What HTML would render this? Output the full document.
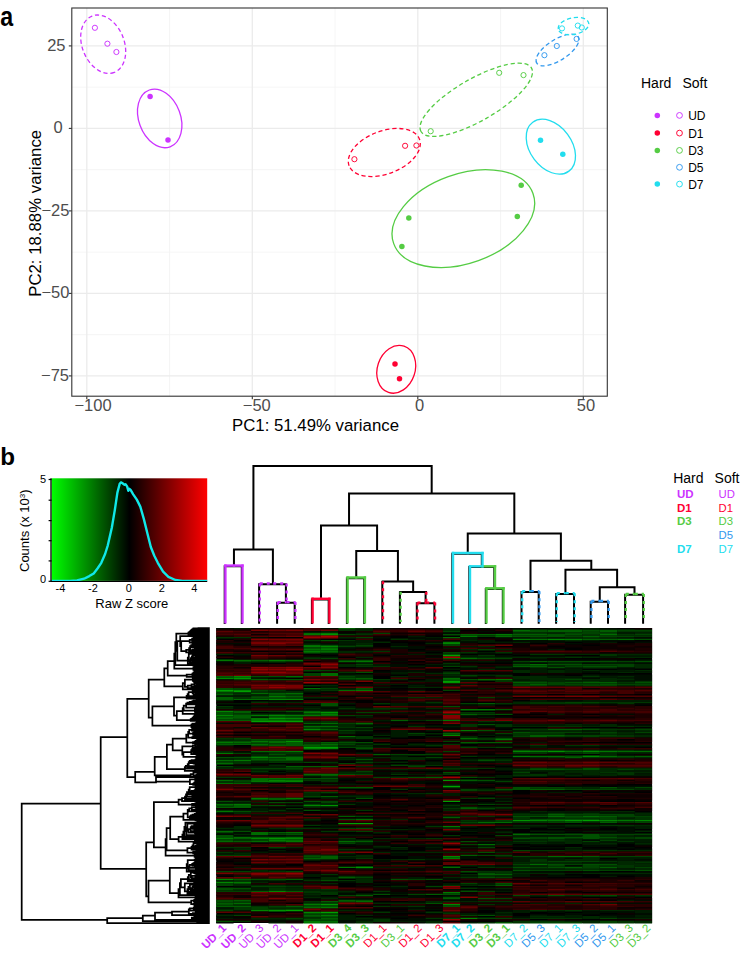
<!DOCTYPE html>
<html><head><meta charset="utf-8"><style>
html,body{margin:0;padding:0;background:#fff;}
svg{position:absolute;left:0;top:0;font-family:'Liberation Sans', sans-serif;}
</style></head><body>
<svg width="740" height="955" viewBox="0 0 740 955">
<rect x="71.8" y="8.0" width="535.5" height="388.2" fill="#fff"/>
<line x1="169.55" y1="8.0" x2="169.55" y2="396.2" stroke="#F2F2F2" stroke-width="0.8"/>
<line x1="335.05" y1="8.0" x2="335.05" y2="396.2" stroke="#F2F2F2" stroke-width="0.8"/>
<line x1="500.55" y1="8.0" x2="500.55" y2="396.2" stroke="#F2F2F2" stroke-width="0.8"/>
<line x1="71.8" y1="87.15" x2="607.3" y2="87.15" stroke="#F2F2F2" stroke-width="0.8"/>
<line x1="71.8" y1="169.65" x2="607.3" y2="169.65" stroke="#F2F2F2" stroke-width="0.8"/>
<line x1="71.8" y1="252.15" x2="607.3" y2="252.15" stroke="#F2F2F2" stroke-width="0.8"/>
<line x1="71.8" y1="334.65" x2="607.3" y2="334.65" stroke="#F2F2F2" stroke-width="0.8"/>
<line x1="86.80" y1="8.0" x2="86.80" y2="396.2" stroke="#EBEBEB" stroke-width="1.3"/>
<line x1="252.30" y1="8.0" x2="252.30" y2="396.2" stroke="#EBEBEB" stroke-width="1.3"/>
<line x1="417.80" y1="8.0" x2="417.80" y2="396.2" stroke="#EBEBEB" stroke-width="1.3"/>
<line x1="583.30" y1="8.0" x2="583.30" y2="396.2" stroke="#EBEBEB" stroke-width="1.3"/>
<line x1="71.8" y1="45.90" x2="607.3" y2="45.90" stroke="#EBEBEB" stroke-width="1.3"/>
<line x1="71.8" y1="128.40" x2="607.3" y2="128.40" stroke="#EBEBEB" stroke-width="1.3"/>
<line x1="71.8" y1="210.90" x2="607.3" y2="210.90" stroke="#EBEBEB" stroke-width="1.3"/>
<line x1="71.8" y1="293.40" x2="607.3" y2="293.40" stroke="#EBEBEB" stroke-width="1.3"/>
<line x1="71.8" y1="375.90" x2="607.3" y2="375.90" stroke="#EBEBEB" stroke-width="1.3"/>
<ellipse cx="103.20" cy="44.20" rx="30.29" ry="21.01" transform="rotate(68.37 103.20 44.20)" fill="none" stroke="#CC33FF" stroke-width="1.3" stroke-dasharray="4.2 2.8"/>
<ellipse cx="159.70" cy="118.40" rx="30.25" ry="20.88" transform="rotate(69.85 159.70 118.40)" fill="none" stroke="#CC33FF" stroke-width="1.3"/>
<ellipse cx="384.30" cy="152.50" rx="37.61" ry="21.44" transform="rotate(159.36 384.30 152.50)" fill="none" stroke="#FF0033" stroke-width="1.3" stroke-dasharray="4.2 2.8"/>
<ellipse cx="476.25" cy="99.80" rx="63.72" ry="21.07" transform="rotate(150.15 476.25 99.80)" fill="none" stroke="#55CC44" stroke-width="1.3" stroke-dasharray="4.2 2.8"/>
<ellipse cx="557.50" cy="50.00" rx="24.53" ry="10.46" transform="rotate(147.55 557.50 50.00)" fill="none" stroke="#3399EE" stroke-width="1.3" stroke-dasharray="4.2 2.8"/>
<ellipse cx="573.50" cy="26.10" rx="15.51" ry="8.31" transform="rotate(168.69 573.50 26.10)" fill="none" stroke="#22DDEE" stroke-width="1.3" stroke-dasharray="4.2 2.8"/>
<ellipse cx="550.85" cy="146.70" rx="30.40" ry="20.84" transform="rotate(53.50 550.85 146.70)" fill="none" stroke="#22DDEE" stroke-width="1.3"/>
<ellipse cx="463.35" cy="218.60" rx="74.00" ry="44.63" transform="rotate(160.21 463.35 218.60)" fill="none" stroke="#55CC44" stroke-width="1.3"/>
<ellipse cx="396.25" cy="369.30" rx="24.41" ry="18.81" transform="rotate(108.56 396.25 369.30)" fill="none" stroke="#FF0033" stroke-width="1.3"/>
<circle cx="94.9" cy="27.8" r="2.6" fill="none" stroke="#CC33FF" stroke-width="0.95"/>
<circle cx="107.4" cy="43.7" r="2.6" fill="none" stroke="#CC33FF" stroke-width="0.95"/>
<circle cx="116.4" cy="52.0" r="2.6" fill="none" stroke="#CC33FF" stroke-width="0.95"/>
<circle cx="150.1" cy="96.6" r="2.75" fill="#CC33FF"/>
<circle cx="168.0" cy="140.0" r="2.75" fill="#CC33FF"/>
<circle cx="354.4" cy="159.2" r="2.6" fill="none" stroke="#FF0033" stroke-width="0.95"/>
<circle cx="405.1" cy="145.8" r="2.6" fill="none" stroke="#FF0033" stroke-width="0.95"/>
<circle cx="416.4" cy="145.5" r="2.6" fill="none" stroke="#FF0033" stroke-width="0.95"/>
<circle cx="395.0" cy="364.0" r="2.75" fill="#FF0033"/>
<circle cx="399.5" cy="378.8" r="2.75" fill="#FF0033"/>
<circle cx="430.7" cy="131.2" r="2.6" fill="none" stroke="#55CC44" stroke-width="0.95"/>
<circle cx="499.2" cy="72.8" r="2.6" fill="none" stroke="#55CC44" stroke-width="0.95"/>
<circle cx="523.5" cy="75.1" r="2.6" fill="none" stroke="#55CC44" stroke-width="0.95"/>
<circle cx="521.2" cy="185.3" r="2.75" fill="#55CC44"/>
<circle cx="517.3" cy="216.6" r="2.75" fill="#55CC44"/>
<circle cx="408.8" cy="217.9" r="2.75" fill="#55CC44"/>
<circle cx="401.9" cy="246.5" r="2.75" fill="#55CC44"/>
<circle cx="544.4" cy="55.2" r="2.6" fill="none" stroke="#3399EE" stroke-width="0.95"/>
<circle cx="556.8" cy="46.0" r="2.6" fill="none" stroke="#3399EE" stroke-width="0.95"/>
<circle cx="576.6" cy="38.9" r="2.6" fill="none" stroke="#3399EE" stroke-width="0.95"/>
<circle cx="562.0" cy="28.4" r="2.6" fill="none" stroke="#22DDEE" stroke-width="0.95"/>
<circle cx="577.8" cy="25.6" r="2.6" fill="none" stroke="#22DDEE" stroke-width="0.95"/>
<circle cx="581.8" cy="27.5" r="2.6" fill="none" stroke="#22DDEE" stroke-width="0.95"/>
<circle cx="540.5" cy="140.3" r="2.75" fill="#22DDEE"/>
<circle cx="562.8" cy="154.3" r="2.75" fill="#22DDEE"/>
<rect x="71.8" y="8.0" width="535.5" height="388.2" fill="none" stroke="#333" stroke-width="1.1"/>
<line x1="68.8" y1="45.90" x2="71.8" y2="45.90" stroke="#333" stroke-width="1.1"/>
<line x1="68.8" y1="128.40" x2="71.8" y2="128.40" stroke="#333" stroke-width="1.1"/>
<line x1="68.8" y1="210.90" x2="71.8" y2="210.90" stroke="#333" stroke-width="1.1"/>
<line x1="68.8" y1="293.40" x2="71.8" y2="293.40" stroke="#333" stroke-width="1.1"/>
<line x1="68.8" y1="375.90" x2="71.8" y2="375.90" stroke="#333" stroke-width="1.1"/>
<line x1="86.80" y1="396.2" x2="86.80" y2="399.2" stroke="#333" stroke-width="1.1"/>
<line x1="252.30" y1="396.2" x2="252.30" y2="399.2" stroke="#333" stroke-width="1.1"/>
<line x1="417.80" y1="396.2" x2="417.80" y2="399.2" stroke="#333" stroke-width="1.1"/>
<line x1="583.30" y1="396.2" x2="583.30" y2="399.2" stroke="#333" stroke-width="1.1"/>
<text x="47.17" y="50.60" font-size="16.5" fill="#4D4D4D">25</text>
<text x="53.56" y="133.10" font-size="16.5" fill="#4D4D4D">0</text>
<text x="41.47" y="215.60" font-size="16.5" fill="#4D4D4D">−25</text>
<text x="41.38" y="298.10" font-size="16.5" fill="#4D4D4D">−50</text>
<text x="41.07" y="380.60" font-size="16.5" fill="#4D4D4D">−75</text>
<text x="74.47" y="410.7" font-size="16.5" fill="#4D4D4D">−100</text>
<text x="242.78" y="410.7" font-size="16.5" fill="#4D4D4D">−50</text>
<text x="415.04" y="410.7" font-size="16.5" fill="#4D4D4D">0</text>
<text x="576.84" y="410.7" font-size="16.5" fill="#4D4D4D">50</text>
<text x="232.0" y="431.2" font-size="16.8" fill="#000">PC1: 51.49% variance</text>
<text transform="translate(41.1 296.8) rotate(-90)" x="0" y="0" font-size="16.8" fill="#000">PC2: 18.88% variance</text>
<text transform="translate(0.3 25.6) scale(0.86 1)" font-size="27" font-weight="bold" fill="#000">a</text>
<text x="641.0" y="87.5" font-size="14" fill="#000">Hard</text>
<text x="682.5" y="87.5" font-size="14" fill="#000">Soft</text>
<circle cx="657.3" cy="115.4" r="2.75" fill="#CC33FF"/>
<circle cx="679.5" cy="115.4" r="2.9" fill="none" stroke="#CC33FF" stroke-width="0.95"/>
<text x="688.2" y="119.8" font-size="12" fill="#000">UD</text>
<circle cx="657.3" cy="133.1" r="2.75" fill="#FF0033"/>
<circle cx="679.5" cy="133.1" r="2.9" fill="none" stroke="#FF0033" stroke-width="0.95"/>
<text x="688.2" y="137.5" font-size="12" fill="#000">D1</text>
<circle cx="657.3" cy="150.4" r="2.75" fill="#55CC44"/>
<circle cx="679.5" cy="150.4" r="2.9" fill="none" stroke="#55CC44" stroke-width="0.95"/>
<text x="688.2" y="154.8" font-size="12" fill="#000">D3</text>
<circle cx="679.5" cy="167.3" r="2.9" fill="none" stroke="#3399EE" stroke-width="0.95"/>
<text x="688.2" y="171.7" font-size="12" fill="#000">D5</text>
<circle cx="657.3" cy="184.1" r="2.75" fill="#22DDEE"/>
<circle cx="679.5" cy="184.1" r="2.9" fill="none" stroke="#22DDEE" stroke-width="0.95"/>
<text x="688.2" y="188.5" font-size="12" fill="#000">D7</text>
<text x="0.3" y="464.6" font-size="24.2" font-weight="bold" fill="#000">b</text>
<defs><linearGradient id="kg" x1="0" x2="1" y1="0" y2="0"><stop offset="0" stop-color="#00FF00"/><stop offset="0.5" stop-color="#000"/><stop offset="1" stop-color="#FF0000"/></linearGradient></defs>
<rect x="51.6" y="478.3" width="155.6" height="102.59999999999997" fill="url(#kg)"/>
<polyline points="51.6,580.9 70,580.9 77,580.4 84.1,578.7 89.3,576.1 93.7,573.4 97.5,568.5 101.3,562.8 105.1,554 107.8,545.3 111.8,527.7 114.8,510.1 117.4,492.6 119.7,483.8 121,482.4 122.5,483.2 124.5,484.7 125.5,484.2 127.1,486.4 128.3,490.8 129.2,488.8 130.6,489.9 133.2,494.3 136.8,499.6 140.3,506.6 143.8,518.9 147.3,533 150.8,547 154.3,555.8 157.8,562.8 163.1,571.6 168.4,576.9 175.4,580 182.4,580.9 207.2,580.9" fill="none" stroke="#10E8E8" stroke-width="2.4" stroke-linejoin="round"/>
<line x1="51.0" y1="478.3" x2="51.0" y2="581.5" stroke="#000" stroke-width="1.3"/>
<line x1="51.0" y1="581.5" x2="207.2" y2="581.5" stroke="#000" stroke-width="1"/>
<line x1="48.6" y1="479.5" x2="51.6" y2="479.5" stroke="#000" stroke-width="1.2"/>
<line x1="48.6" y1="500.2" x2="51.6" y2="500.2" stroke="#000" stroke-width="1.2"/>
<line x1="48.6" y1="520.6" x2="51.6" y2="520.6" stroke="#000" stroke-width="1.2"/>
<line x1="48.6" y1="540.7" x2="51.6" y2="540.7" stroke="#000" stroke-width="1.2"/>
<line x1="48.6" y1="560.9" x2="51.6" y2="560.9" stroke="#000" stroke-width="1.2"/>
<line x1="48.6" y1="581.3" x2="51.6" y2="581.3" stroke="#000" stroke-width="1.2"/>
<text x="46.2" y="483.0" text-anchor="end" font-size="11" fill="#000">5</text>
<text x="46.2" y="582.8" text-anchor="end" font-size="11" fill="#000">0</text>
<text x="60.5" y="592.2" text-anchor="middle" font-size="11" fill="#000">-4</text>
<text x="93" y="592.2" text-anchor="middle" font-size="11" fill="#000">-2</text>
<text x="128.7" y="592.2" text-anchor="middle" font-size="11" fill="#000">0</text>
<text x="161.9" y="592.2" text-anchor="middle" font-size="11" fill="#000">2</text>
<text x="194.4" y="592.2" text-anchor="middle" font-size="11" fill="#000">4</text>
<text x="95.3" y="608.3" font-size="13" fill="#000">Raw Z score</text>
<text transform="translate(29.2 572) rotate(-90)" font-size="13" fill="#000">Counts (x 10<tspan dy="-4" font-size="8">3</tspan><tspan dy="4">)</tspan></text>
<rect x="216.2" y="628.0" width="435.90" height="295.0" fill="#000"/>
<path d="M442.9 655.75h17.4M442.9 681.25h17.4M216.2 690.25h17.4M233.6 691.75h17.4M251.1 721.75h52.3M303.4 747.25h34.9M442.9 786.25h17.4M442.9 801.25h17.4M582.4 820.75h17.4M338.3 823.75h34.9M285.9 910.75h17.4M320.8 912.25h17.4" stroke="rgb(0,160,0)" stroke-width="1.5"/>
<path d="M320.8 634.75h17.4M233.6 678.25h17.4M442.9 682.75h17.4M320.8 712.75h17.4M268.5 718.75h17.4M285.9 741.25h17.4M547.5 751.75h17.4M442.9 780.25h17.4M320.8 805.75h17.4M512.6 820.75h17.4M564.9 820.75h17.4M268.5 838.75h17.4M355.7 867.25h17.4M320.8 904.75h17.4M268.5 910.75h17.4" stroke="rgb(0,147,0)" stroke-width="1.5"/>
<path d="M547.5 639.25h17.4M442.9 643.75h17.4M320.8 646.75h17.4M233.6 676.75h17.4M216.2 678.25h17.4M233.6 690.25h17.4M268.5 699.25h34.9M216.2 711.25h17.4M216.2 715.75h17.4M268.5 715.75h17.4M285.9 718.75h17.4M303.4 729.25h17.4M442.9 735.25h17.4M303.4 748.75h34.9M512.6 751.75h17.4M582.4 751.75h17.4M582.4 756.25h17.4M251.1 757.75h17.4M268.5 780.25h17.4M285.9 781.75h17.4M303.4 805.75h17.4M530.0 820.75h17.4M599.8 820.75h17.4M634.7 820.75h17.4M251.1 838.75h17.4M285.9 838.75h17.4M442.9 856.75h17.4M216.2 879.25h17.4M216.2 882.25h17.4M268.5 891.25h17.4M442.9 904.75h17.4M251.1 910.75h17.4M303.4 912.25h17.4M460.3 918.25h17.4" stroke="rgb(0,133,0)" stroke-width="1.5"/>
<path d="M320.8 633.25h17.4M303.4 634.75h17.4M495.2 634.75h17.4M460.3 636.25h17.4M512.6 639.25h17.4M564.9 639.25h17.4M442.9 642.25h17.4M303.4 646.75h17.4M320.8 649.75h17.4M303.4 651.25h17.4M216.2 660.25h17.4M268.5 660.25h17.4M355.7 661.75h17.4M495.2 679.75h17.4M355.7 690.25h17.4M216.2 691.75h17.4M268.5 696.25h17.4M460.3 709.75h34.9M303.4 712.75h17.4M320.8 714.25h17.4M251.1 715.75h17.4M285.9 715.75h34.9M251.1 718.75h17.4M251.1 720.25h34.9M442.9 720.25h17.4M460.3 730.75h17.4M495.2 739.75h17.4M251.1 741.25h17.4M216.2 742.75h17.4M285.9 751.75h17.4M530.0 751.75h17.4M599.8 751.75h17.4M216.2 753.25h17.4M512.6 756.25h17.4M233.6 760.75h17.4M285.9 780.25h17.4M251.1 781.75h34.9M251.1 798.25h17.4M285.9 798.25h17.4M233.6 804.25h17.4M216.2 811.75h17.4M547.5 820.75h17.4M617.2 820.75h17.4M442.9 826.75h17.4M216.2 838.75h17.4M268.5 840.25h17.4M285.9 841.75h17.4M442.9 858.25h17.4M338.3 867.25h17.4M233.6 882.25h17.4M442.9 892.75h17.4M303.4 904.75h17.4M320.8 907.75h17.4M320.8 915.25h17.4M303.4 921.25h17.4M303.4 922.75h17.4" stroke="rgb(0,120,0)" stroke-width="1.5"/>
<path d="M512.6 630.25h17.4M303.4 633.25h17.4M599.8 634.75h17.4M495.2 636.25h17.4M442.9 637.75h17.4M530.0 639.25h17.4M617.2 639.25h17.4M303.4 645.25h17.4M320.8 648.25h17.4M303.4 649.75h17.4M320.8 651.25h17.4M460.3 658.75h17.4M233.6 660.25h17.4M285.9 660.25h17.4M338.3 661.75h17.4M530.0 664.75h17.4M320.8 673.75h17.4M320.8 675.25h17.4M285.9 676.75h17.4M442.9 678.25h17.4M477.7 679.75h17.4M303.4 688.75h17.4M338.3 690.25h17.4M251.1 693.25h17.4M285.9 693.25h17.4M233.6 699.25h34.9M320.8 715.75h17.4M216.2 718.75h17.4M285.9 720.25h17.4M320.8 723.25h17.4M355.7 723.25h17.4M303.4 726.25h34.9M338.3 736.75h17.4M460.3 738.25h17.4M268.5 741.25h17.4M233.6 742.75h17.4M268.5 742.75h17.4M251.1 744.25h17.4M320.8 744.25h17.4M251.1 751.75h34.9M564.9 751.75h17.4M617.2 751.75h34.9M530.0 756.25h34.9M599.8 756.25h17.4M268.5 757.75h34.9M285.9 759.25h17.4M216.2 760.75h17.4M216.2 763.75h17.4M303.4 774.25h34.9M251.1 778.75h52.3M216.2 780.25h17.4M251.1 780.25h17.4M216.2 783.25h17.4M216.2 804.25h17.4M547.5 816.25h17.4M582.4 816.25h17.4M355.7 819.25h17.4M477.7 822.25h34.9M216.2 831.25h17.4M251.1 832.75h17.4M285.9 832.75h17.4M251.1 834.25h17.4M512.6 834.25h17.4M233.6 837.25h17.4M285.9 837.25h17.4M285.9 840.25h17.4M216.2 841.75h17.4M251.1 841.75h17.4M338.3 841.75h17.4M477.7 844.75h17.4M547.5 856.75h34.9M530.0 864.25h17.4M442.9 867.25h17.4M355.7 901.75h17.4M233.6 903.25h17.4M303.4 907.75h17.4M320.8 921.25h17.4" stroke="rgb(0,107,0)" stroke-width="1.5"/>
<path d="M338.3 628.75h17.4M547.5 630.25h34.9M599.8 630.25h17.4M547.5 631.75h34.9M599.8 631.75h17.4M460.3 634.75h34.9M512.6 634.75h34.9M582.4 636.25h17.4M582.4 639.25h34.9M303.4 652.75h17.4M442.9 658.75h17.4M251.1 660.25h17.4M530.0 661.75h17.4M512.6 666.25h34.9M216.2 676.75h17.4M355.7 678.25h17.4M251.1 679.75h17.4M442.9 679.75h17.4M512.6 682.75h17.4M582.4 682.75h34.9M530.0 684.25h17.4M268.5 693.25h17.4M216.2 694.75h17.4M285.9 696.25h17.4M216.2 697.75h17.4M216.2 699.25h17.4M477.7 703.75h17.4M495.2 709.75h17.4M233.6 711.25h17.4M303.4 711.25h17.4M233.6 712.75h17.4M460.3 714.25h17.4M233.6 715.75h17.4M216.2 717.25h34.9M268.5 717.25h17.4M216.2 720.25h34.9M390.6 720.25h17.4M303.4 723.25h17.4M320.8 729.25h17.4M547.5 729.25h34.9M442.9 733.75h17.4M530.0 735.25h34.9M530.0 736.75h17.4M285.9 742.75h17.4M320.8 742.75h17.4M460.3 742.75h52.3M216.2 744.25h34.9M285.9 744.25h17.4M268.5 745.75h52.3M373.1 754.75h17.4M634.7 756.25h17.4M564.9 757.75h17.4M251.1 759.25h17.4M285.9 766.75h52.3M320.8 775.75h17.4M425.4 777.25h17.4M460.3 780.25h17.4M233.6 783.25h17.4M338.3 787.75h34.9M530.0 789.25h34.9M320.8 796.75h17.4M268.5 798.25h17.4M268.5 799.75h17.4M233.6 805.75h17.4M216.2 807.25h34.9M460.3 808.75h17.4M547.5 814.75h17.4M338.3 816.25h17.4M599.8 816.25h17.4M442.9 817.75h17.4M599.8 822.25h17.4M268.5 832.75h17.4M251.1 837.25h34.9M233.6 838.75h17.4M233.6 841.75h17.4M268.5 841.75h17.4M355.7 841.75h17.4M460.3 855.25h17.4M320.8 856.75h17.4M582.4 856.75h17.4M303.4 858.25h34.9M564.9 867.25h17.4M599.8 867.25h17.4M477.7 874.75h34.9M338.3 877.75h17.4M233.6 879.25h17.4M285.9 879.25h17.4M495.2 885.25h17.4M251.1 891.25h17.4M285.9 891.25h17.4M425.4 894.25h17.4M355.7 895.75h17.4M442.9 898.75h17.4M233.6 900.25h17.4M338.3 900.25h17.4M320.8 901.75h17.4M216.2 903.25h17.4M216.2 906.25h34.9M285.9 906.25h17.4M303.4 915.25h17.4M320.8 918.25h17.4M320.8 922.75h17.4" stroke="rgb(0,93,0)" stroke-width="1.5"/>
<path d="M530.0 630.25h17.4M582.4 630.25h17.4M512.6 631.75h34.9M442.9 634.75h17.4M547.5 634.75h34.9M512.6 636.25h52.3M634.7 639.25h17.4M320.8 640.75h17.4M320.8 645.25h17.4M303.4 648.25h17.4M320.8 652.75h17.4M442.9 654.25h17.4M477.7 658.75h17.4M355.7 660.25h17.4M547.5 661.75h69.7M634.7 661.75h17.4M512.6 664.75h17.4M547.5 664.75h34.9M582.4 666.25h34.9M547.5 667.75h17.4M355.7 672.25h17.4M251.1 676.75h34.9M338.3 678.25h17.4M268.5 679.75h34.9M460.3 679.75h17.4M530.0 682.75h17.4M564.9 682.75h17.4M634.7 682.75h17.4M599.8 684.25h17.4M216.2 688.75h17.4M355.7 688.75h17.4M268.5 694.75h17.4M251.1 697.75h34.9M320.8 703.75h17.4M320.8 705.25h17.4M442.9 706.75h17.4M285.9 711.25h17.4M216.2 712.75h17.4M216.2 714.25h17.4M303.4 714.25h17.4M495.2 714.25h17.4M285.9 717.25h17.4M233.6 718.75h17.4M477.7 724.75h17.4M582.4 729.25h17.4M477.7 730.75h17.4M512.6 732.25h17.4M495.2 738.25h17.4M251.1 739.75h52.3M216.2 741.25h34.9M251.1 742.75h17.4M338.3 742.75h34.9M268.5 744.25h17.4M303.4 744.25h17.4M251.1 745.75h17.4M320.8 745.75h17.4M355.7 748.75h17.4M512.6 750.25h17.4M268.5 754.75h17.4M251.1 756.25h17.4M564.9 756.25h17.4M617.2 756.25h17.4M216.2 757.75h34.9M268.5 759.25h17.4M355.7 759.25h17.4M268.5 760.75h34.9M477.7 760.75h17.4M582.4 768.25h17.4M530.0 769.75h34.9M582.4 769.75h17.4M442.9 772.75h17.4M338.3 774.25h17.4M408.0 777.25h17.4M460.3 777.25h17.4M303.4 778.75h34.9M477.7 780.25h17.4M512.6 787.75h17.4M599.8 787.75h17.4M495.2 789.25h34.9M355.7 798.25h17.4M251.1 799.75h17.4M216.2 801.25h17.4M303.4 801.25h17.4M268.5 802.75h17.4M216.2 805.75h17.4M268.5 805.75h17.4M460.3 807.25h17.4M303.4 810.25h17.4M233.6 811.75h17.4M512.6 816.25h34.9M564.9 816.25h17.4M338.3 819.25h17.4M530.0 819.25h69.7M564.9 822.25h17.4M355.7 828.25h17.4M233.6 831.25h17.4M285.9 834.25h17.4M530.0 834.25h69.7M216.2 835.75h17.4M582.4 835.75h17.4M216.2 837.25h17.4M547.5 837.25h69.7M512.6 838.75h17.4M547.5 838.75h17.4M582.4 838.75h17.4M216.2 840.25h17.4M460.3 841.75h17.4M477.7 852.25h17.4M303.4 856.75h17.4M547.5 864.25h17.4M582.4 864.25h34.9M512.6 867.25h17.4M547.5 867.25h17.4M512.6 870.25h17.4M582.4 870.25h17.4M634.7 870.25h17.4M460.3 871.75h17.4M477.7 873.25h17.4M477.7 877.75h17.4M251.1 879.25h34.9M390.6 879.25h17.4M425.4 879.25h17.4M320.8 880.75h17.4M233.6 883.75h17.4M495.2 883.75h17.4M216.2 888.25h34.9M216.2 889.75h17.4M460.3 891.25h17.4M373.1 894.25h17.4M442.9 894.25h17.4M512.6 895.75h17.4M547.5 895.75h17.4M599.8 895.75h17.4M442.9 897.25h17.4M477.7 898.75h17.4M216.2 900.25h17.4M355.7 900.25h17.4M216.2 901.75h17.4M338.3 901.75h17.4M425.4 903.25h17.4M216.2 904.75h17.4M303.4 906.25h34.9M442.9 906.25h17.4M285.9 909.25h17.4M303.4 913.75h34.9M477.7 915.25h17.4M303.4 916.75h34.9M303.4 919.75h34.9M216.2 921.25h17.4M495.2 922.75h17.4" stroke="rgb(0,80,0)" stroke-width="1.5"/>
<path d="M617.2 630.25h34.9M442.9 631.75h17.4M582.4 631.75h17.4M373.1 633.25h17.4M564.9 633.25h52.3M338.3 634.75h17.4M634.7 634.75h17.4M477.7 636.25h17.4M564.9 636.25h17.4M599.8 636.25h34.9M355.7 637.75h17.4M355.7 645.25h17.4M442.9 645.25h17.4M338.3 646.75h17.4M477.7 649.75h17.4M442.9 652.75h17.4M320.8 658.75h17.4M495.2 658.75h17.4M338.3 660.25h17.4M233.6 661.75h17.4M268.5 661.75h17.4M512.6 661.75h17.4M617.2 661.75h17.4M355.7 664.75h17.4M582.4 664.75h52.3M442.9 666.25h17.4M564.9 666.25h17.4M617.2 666.25h17.4M303.4 670.75h34.9M303.4 673.75h17.4M442.9 673.75h17.4M303.4 675.25h17.4M460.3 675.25h17.4M338.3 676.75h17.4M233.6 679.75h17.4M355.7 679.75h17.4M564.9 679.75h17.4M547.5 682.75h17.4M512.6 684.25h17.4M547.5 684.25h52.3M617.2 684.25h34.9M512.6 685.75h34.9M582.4 685.75h34.9M233.6 688.75h17.4M320.8 688.75h17.4M251.1 690.25h17.4M442.9 690.25h17.4M216.2 693.25h17.4M285.9 694.75h17.4M251.1 696.25h17.4M285.9 697.75h17.4M477.7 697.75h17.4M564.9 702.25h34.9M460.3 703.75h17.4M320.8 711.25h17.4M355.7 712.75h34.9M233.6 714.25h17.4M268.5 714.25h17.4M477.7 714.25h17.4M338.3 715.75h17.4M425.4 720.25h17.4M338.3 723.25h17.4M303.4 727.75h17.4M355.7 727.75h17.4M512.6 729.25h17.4M634.7 729.25h17.4M338.3 730.75h17.4M530.0 732.25h52.3M599.8 732.25h17.4M634.7 732.25h17.4M408.0 733.75h17.4M495.2 733.75h17.4M564.9 735.25h52.3M512.6 736.75h17.4M547.5 736.75h17.4M582.4 736.75h17.4M233.6 738.25h17.4M442.9 741.25h17.4M303.4 742.75h17.4M338.3 744.25h17.4M338.3 747.25h34.9M460.3 747.25h17.4M495.2 747.25h17.4M530.0 750.25h34.9M582.4 750.25h17.4M442.9 751.75h17.4M233.6 753.25h17.4M582.4 753.25h17.4M390.6 754.75h52.3M285.9 756.25h17.4M425.4 757.75h17.4M251.1 760.75h17.4M216.2 762.25h17.4M303.4 762.25h17.4M355.7 762.25h17.4M338.3 763.75h17.4M390.6 765.25h17.4M216.2 766.75h17.4M408.0 766.75h17.4M251.1 768.25h52.3M530.0 768.25h17.4M564.9 769.75h17.4M617.2 769.75h17.4M355.7 771.25h17.4M512.6 772.75h17.4M355.7 774.25h17.4M303.4 775.75h17.4M373.1 777.25h17.4M233.6 780.25h17.4M233.6 781.75h17.4M495.2 781.75h17.4M442.9 787.75h17.4M530.0 787.75h34.9M634.7 787.75h17.4M460.3 789.25h17.4M564.9 789.25h69.7M460.3 790.75h17.4M320.8 792.25h17.4M303.4 796.75h17.4M477.7 798.25h17.4M285.9 799.75h17.4M320.8 801.25h17.4M285.9 802.75h17.4M320.8 802.75h17.4M303.4 804.25h17.4M477.7 804.25h17.4M251.1 805.75h17.4M477.7 808.75h17.4M564.9 814.75h69.7M355.7 816.25h17.4M617.2 816.25h34.9M564.9 817.75h52.3M599.8 819.25h17.4M495.2 820.75h17.4M460.3 822.25h17.4M547.5 822.25h17.4M634.7 822.25h17.4M338.3 828.25h17.4M355.7 831.25h17.4M216.2 832.75h17.4M268.5 834.25h17.4M599.8 834.25h52.3M495.2 835.75h17.4M530.0 837.25h17.4M634.7 837.25h17.4M530.0 838.75h17.4M634.7 838.75h17.4M251.1 840.25h17.4M599.8 840.25h17.4M582.4 841.75h17.4M338.3 843.25h17.4M460.3 844.75h17.4M268.5 847.75h17.4M477.7 847.75h17.4M512.6 850.75h17.4M216.2 855.25h34.9M303.4 855.25h17.4M477.7 855.25h34.9M512.6 856.75h34.9M599.8 856.75h52.3M547.5 861.25h52.3M512.6 864.25h17.4M564.9 864.25h17.4M547.5 865.75h17.4M582.4 865.75h17.4M530.0 867.25h17.4M582.4 867.25h17.4M634.7 867.25h17.4M530.0 870.25h52.3M599.8 870.25h34.9M216.2 871.75h34.9M285.9 871.75h17.4M355.7 877.75h17.4M495.2 877.75h17.4M408.0 879.25h17.4M216.2 883.75h17.4M460.3 883.75h17.4M216.2 885.25h17.4M251.1 886.75h34.9M425.4 886.75h17.4M216.2 891.25h34.9M477.7 891.25h17.4M408.0 894.25h17.4M338.3 895.75h17.4M582.4 895.75h17.4M495.2 898.75h17.4M233.6 901.75h17.4M303.4 903.25h34.9M268.5 906.25h17.4M251.1 907.75h17.4M251.1 909.25h34.9M216.2 910.75h17.4M233.6 915.25h17.4M460.3 915.25h17.4M285.9 918.25h17.4M442.9 918.25h17.4M477.7 918.25h34.9M599.8 918.25h17.4M599.8 921.25h17.4M530.0 922.75h52.3M599.8 922.75h17.4" stroke="rgb(0,67,0)" stroke-width="1.5"/>
<path d="M355.7 628.75h17.4M338.3 630.25h17.4M617.2 631.75h34.9M512.6 633.25h34.9M355.7 634.75h17.4M582.4 634.75h17.4M617.2 634.75h17.4M634.7 636.25h17.4M216.2 637.75h34.9M582.4 637.75h17.4M390.6 639.25h17.4M303.4 640.75h17.4M338.3 640.75h17.4M355.7 646.75h17.4M373.1 651.25h17.4M460.3 652.75h17.4M495.2 652.75h17.4M530.0 654.25h34.9M599.8 654.25h17.4M477.7 655.75h17.4M599.8 655.75h17.4M460.3 657.25h17.4M564.9 657.25h17.4M303.4 658.75h17.4M251.1 661.75h17.4M285.9 661.75h17.4M442.9 663.25h17.4M355.7 666.25h34.9M460.3 666.25h17.4M530.0 667.75h17.4M582.4 667.75h34.9M338.3 672.25h17.4M442.9 672.25h17.4M495.2 675.25h17.4M582.4 676.75h17.4M338.3 679.75h17.4M373.1 679.75h17.4M495.2 681.25h52.3M582.4 681.25h17.4M634.7 681.25h17.4M617.2 682.75h17.4M303.4 685.75h17.4M564.9 685.75h17.4M634.7 685.75h17.4M268.5 690.25h17.4M320.8 690.25h17.4M251.1 691.75h17.4M233.6 694.75h17.4M233.6 697.75h17.4M408.0 697.75h17.4M251.1 702.25h17.4M425.4 702.25h17.4M530.0 702.25h34.9M599.8 702.25h52.3M373.1 703.75h17.4M495.2 703.75h17.4M530.0 703.75h52.3M617.2 703.75h17.4M216.2 706.75h17.4M338.3 708.25h17.4M373.1 708.25h34.9M251.1 711.25h34.9M460.3 712.75h34.9M251.1 714.25h17.4M285.9 714.25h17.4M442.9 714.25h17.4M355.7 715.75h17.4M320.8 721.75h17.4M477.7 721.75h17.4M355.7 724.75h17.4M460.3 724.75h17.4M495.2 724.75h17.4M408.0 726.25h17.4M460.3 726.25h17.4M495.2 726.25h17.4M547.5 726.25h34.9M617.2 726.25h17.4M320.8 727.75h34.9M530.0 729.25h17.4M599.8 729.25h34.9M303.4 730.75h17.4M355.7 730.75h17.4M582.4 732.25h17.4M512.6 733.75h52.3M599.8 733.75h17.4M512.6 735.25h17.4M617.2 735.25h17.4M355.7 736.75h17.4M564.9 736.75h17.4M599.8 736.75h34.9M216.2 738.25h17.4M355.7 738.25h17.4M477.7 738.25h17.4M233.6 739.75h17.4M460.3 739.75h34.9M373.1 744.25h17.4M442.9 744.25h17.4M355.7 745.75h17.4M425.4 745.75h17.4M530.0 745.75h17.4M564.9 745.75h34.9M477.7 747.25h17.4M564.9 750.25h17.4M599.8 750.25h34.9M268.5 753.25h34.9M512.6 753.25h34.9M564.9 753.25h17.4M268.5 756.25h17.4M460.3 756.25h17.4M338.3 757.75h17.4M547.5 757.75h17.4M582.4 757.75h52.3M233.6 759.25h17.4M477.7 759.25h17.4M495.2 760.75h17.4M233.6 762.25h17.4M268.5 762.25h34.9M320.8 762.25h17.4M233.6 763.75h17.4M408.0 765.25h34.9M233.6 768.25h17.4M442.9 768.25h52.3M547.5 768.25h17.4M285.9 769.75h17.4M512.6 769.75h17.4M634.7 769.75h17.4M251.1 771.25h17.4M599.8 772.75h34.9M390.6 774.25h17.4M442.9 774.25h17.4M530.0 774.25h17.4M617.2 774.25h17.4M512.6 775.75h34.9M216.2 777.25h34.9M390.6 777.25h17.4M477.7 777.25h17.4M303.4 780.25h34.9M216.2 781.75h17.4M320.8 781.75h17.4M564.9 787.75h17.4M390.6 789.25h17.4M477.7 790.75h17.4M303.4 792.25h17.4M425.4 793.75h17.4M460.3 798.25h17.4M233.6 801.25h17.4M338.3 804.25h17.4M495.2 804.25h17.4M442.9 805.75h17.4M495.2 807.25h17.4M285.9 808.75h17.4M442.9 808.75h17.4M216.2 810.25h17.4M268.5 810.25h17.4M355.7 810.25h17.4M251.1 811.75h17.4M547.5 813.25h17.4M582.4 813.25h17.4M512.6 814.75h34.9M477.7 816.25h17.4M512.6 817.75h17.4M547.5 817.75h17.4M634.7 817.75h17.4M512.6 819.25h17.4M617.2 819.25h34.9M460.3 820.75h17.4M512.6 822.25h34.9M617.2 822.25h17.4M303.4 825.25h17.4M599.8 825.25h34.9M425.4 826.75h17.4M285.9 828.25h34.9M320.8 831.25h34.9M442.9 835.75h17.4M599.8 835.75h17.4M512.6 837.25h17.4M617.2 837.25h17.4M338.3 838.75h17.4M425.4 838.75h17.4M564.9 838.75h17.4M599.8 838.75h34.9M233.6 840.25h17.4M355.7 840.25h17.4M547.5 840.25h17.4M512.6 841.75h34.9M617.2 841.75h17.4M216.2 847.75h34.9M338.3 849.25h34.9M530.0 850.75h34.9M582.4 850.75h34.9M216.2 852.25h17.4M320.8 855.25h17.4M355.7 858.25h17.4M303.4 859.75h17.4M408.0 859.75h17.4M530.0 859.75h17.4M530.0 861.25h17.4M599.8 861.25h17.4M634.7 862.75h17.4M599.8 865.75h34.9M477.7 867.25h17.4M617.2 867.25h17.4M564.9 868.75h34.9M268.5 871.75h17.4M477.7 871.75h34.9M495.2 873.25h17.4M320.8 874.75h17.4M338.3 876.25h17.4M477.7 876.25h17.4M460.3 877.75h17.4M233.6 880.75h17.4M303.4 880.75h17.4M338.3 880.75h17.4M442.9 885.25h17.4M477.7 885.25h17.4M285.9 886.75h17.4M268.5 888.25h17.4M460.3 888.25h17.4M233.6 889.75h17.4M268.5 889.75h17.4M320.8 889.75h17.4M303.4 891.25h17.4M373.1 891.25h17.4M303.4 892.75h34.9M320.8 894.25h17.4M564.9 895.75h17.4M634.7 895.75h17.4M303.4 901.75h17.4M442.9 901.75h17.4M477.7 901.75h34.9M233.6 904.75h17.4M477.7 904.75h17.4M251.1 906.25h17.4M373.1 906.25h17.4M408.0 906.25h17.4M233.6 907.75h17.4M268.5 907.75h34.9M233.6 909.25h17.4M530.0 910.75h17.4M564.9 910.75h17.4M373.1 912.25h17.4M425.4 912.25h17.4M442.9 913.75h17.4M303.4 918.25h17.4M425.4 918.25h17.4M530.0 918.25h52.3M373.1 919.75h17.4M233.6 921.25h17.4M373.1 921.25h17.4M512.6 921.25h52.3M617.2 921.25h17.4M512.6 922.75h17.4M617.2 922.75h17.4" stroke="rgb(0,53,0)" stroke-width="1.5"/>
<path d="M442.9 628.75h17.4M355.7 630.25h17.4M442.9 630.25h17.4M355.7 633.25h17.4M547.5 633.25h17.4M634.7 633.25h17.4M338.3 637.75h17.4M530.0 637.75h17.4M564.9 637.75h17.4M599.8 637.75h17.4M460.3 640.75h17.4M564.9 640.75h17.4M373.1 642.25h17.4M512.6 642.25h17.4M355.7 643.75h17.4M425.4 643.75h17.4M338.3 645.25h17.4M390.6 646.75h17.4M477.7 646.75h17.4M460.3 649.75h17.4M495.2 649.75h17.4M338.3 651.25h34.9M338.3 652.75h17.4M216.2 654.25h17.4M564.9 654.25h34.9M617.2 654.25h34.9M303.4 657.25h17.4M355.7 657.25h17.4M477.7 657.25h87.2M582.4 657.25h17.4M617.2 657.25h34.9M547.5 663.25h34.9M338.3 664.75h17.4M634.7 664.75h17.4M338.3 666.25h17.4M547.5 666.25h17.4M634.7 666.25h17.4M495.2 667.75h17.4M564.9 667.75h17.4M634.7 667.75h17.4M477.7 669.25h17.4M512.6 670.75h17.4M547.5 670.75h17.4M582.4 670.75h17.4M634.7 670.75h17.4M408.0 672.25h17.4M512.6 672.25h17.4M547.5 672.25h17.4M617.2 672.25h17.4M425.4 673.75h17.4M338.3 675.25h34.9M442.9 675.25h17.4M477.7 675.25h17.4M355.7 676.75h17.4M390.6 676.75h17.4M460.3 676.75h17.4M495.2 676.75h52.3M617.2 676.75h17.4M512.6 678.25h69.7M599.8 678.25h17.4M390.6 679.75h17.4M530.0 679.75h34.9M582.4 679.75h52.3M547.5 681.25h34.9M599.8 681.25h17.4M320.8 685.75h17.4M547.5 685.75h17.4M617.2 685.75h17.4M408.0 687.25h34.9M303.4 690.25h17.4M268.5 691.75h34.9M233.6 693.25h17.4M251.1 694.75h17.4M303.4 697.75h34.9M425.4 697.75h17.4M216.2 700.75h17.4M268.5 702.25h34.9M512.6 702.25h17.4M303.4 703.75h17.4M512.6 703.75h17.4M582.4 703.75h17.4M320.8 706.75h17.4M216.2 708.25h17.4M303.4 708.25h17.4M425.4 708.25h17.4M355.7 709.75h34.9M425.4 712.75h17.4M408.0 720.25h17.4M303.4 721.75h17.4M495.2 721.75h17.4M320.8 724.75h34.9M564.9 724.75h17.4M599.8 724.75h17.4M338.3 726.25h17.4M512.6 726.25h34.9M582.4 726.25h34.9M634.7 726.25h17.4M320.8 730.75h17.4M495.2 730.75h17.4M530.0 730.75h52.3M599.8 730.75h17.4M634.7 730.75h17.4M338.3 732.25h17.4M442.9 732.25h17.4M617.2 732.25h17.4M338.3 733.75h17.4M425.4 733.75h17.4M617.2 733.75h17.4M373.1 735.25h17.4M408.0 735.25h17.4M634.7 735.25h17.4M460.3 736.75h17.4M634.7 736.75h17.4M338.3 738.25h17.4M373.1 738.25h17.4M216.2 739.75h17.4M338.3 741.25h17.4M408.0 744.25h17.4M216.2 745.75h17.4M338.3 745.75h17.4M634.7 750.25h17.4M216.2 751.75h17.4M599.8 753.25h17.4M251.1 754.75h17.4M285.9 754.75h17.4M599.8 754.75h17.4M373.1 757.75h52.3M530.0 757.75h17.4M634.7 757.75h17.4M216.2 759.25h17.4M338.3 759.25h17.4M390.6 759.25h34.9M495.2 759.25h17.4M460.3 760.75h17.4M251.1 762.25h17.4M373.1 762.25h34.9M268.5 765.25h17.4M355.7 766.75h17.4M216.2 768.25h17.4M564.9 768.25h17.4M599.8 768.25h52.3M251.1 769.75h34.9M390.6 769.75h17.4M442.9 769.75h17.4M599.8 769.75h17.4M512.6 771.25h17.4M564.9 771.25h52.3M338.3 772.75h34.9M547.5 772.75h52.3M634.7 772.75h17.4M425.4 774.25h17.4M512.6 774.25h17.4M547.5 774.25h17.4M582.4 774.25h34.9M564.9 775.75h17.4M599.8 775.75h17.4M320.8 777.25h17.4M320.8 784.75h17.4M582.4 787.75h17.4M617.2 787.75h17.4M477.7 789.25h17.4M634.7 789.25h17.4M495.2 790.75h17.4M303.4 793.75h17.4M408.0 793.75h17.4M303.4 795.25h17.4M338.3 796.75h34.9M338.3 799.75h17.4M495.2 801.25h17.4M251.1 802.75h17.4M320.8 804.25h17.4M460.3 804.25h17.4M285.9 805.75h17.4M303.4 807.25h17.4M477.7 807.25h17.4M495.2 808.75h17.4M320.8 810.25h17.4M442.9 810.25h17.4M530.0 811.75h17.4M599.8 811.75h34.9M233.6 813.25h17.4M512.6 813.25h17.4M564.9 813.25h17.4M634.7 813.25h17.4M634.7 814.75h17.4M442.9 816.25h34.9M617.2 817.75h17.4M303.4 819.25h17.4M390.6 819.25h17.4M477.7 820.75h17.4M582.4 822.25h17.4M460.3 823.75h34.9M512.6 825.25h34.9M564.9 825.25h34.9M634.7 825.25h17.4M233.6 826.75h17.4M216.2 828.25h34.9M268.5 828.25h17.4M320.8 828.25h17.4M442.9 828.25h17.4M495.2 828.25h34.9M373.1 829.75h34.9M634.7 831.25h17.4M373.1 832.75h17.4M495.2 832.75h17.4M233.6 834.25h17.4M512.6 835.75h17.4M564.9 835.75h17.4M617.2 835.75h17.4M373.1 838.75h52.3M338.3 840.25h17.4M530.0 840.25h17.4M564.9 840.25h17.4M442.9 841.75h17.4M477.7 841.75h17.4M547.5 841.75h34.9M530.0 843.25h17.4M564.9 843.25h17.4M599.8 843.25h17.4M634.7 843.25h17.4M495.2 844.75h17.4M373.1 846.25h17.4M285.9 847.75h17.4M390.6 847.75h17.4M564.9 847.75h17.4M233.6 849.25h17.4M564.9 850.75h17.4M617.2 850.75h34.9M373.1 852.25h17.4M408.0 852.25h69.7M495.2 852.25h17.4M233.6 853.75h17.4M338.3 853.75h17.4M355.7 855.25h17.4M338.3 856.75h34.9M495.2 856.75h17.4M582.4 858.25h17.4M320.8 859.75h17.4M390.6 859.75h17.4M564.9 859.75h34.9M617.2 861.25h34.9M512.6 862.75h69.7M617.2 862.75h17.4M617.2 864.25h34.9M460.3 865.75h17.4M512.6 865.75h34.9M634.7 865.75h17.4M495.2 867.25h17.4M355.7 868.75h17.4M512.6 868.75h52.3M599.8 868.75h17.4M634.7 868.75h17.4M251.1 870.25h17.4M251.1 871.75h17.4M512.6 873.25h52.3M582.4 873.25h69.7M460.3 874.75h17.4M355.7 876.25h17.4M495.2 876.25h17.4M320.8 877.75h17.4M442.9 877.75h17.4M320.8 879.25h17.4M355.7 879.25h17.4M216.2 880.75h17.4M268.5 880.75h17.4M355.7 880.75h17.4M251.1 882.25h17.4M355.7 882.25h17.4M320.8 883.75h17.4M233.6 885.25h52.3M460.3 885.25h17.4M390.6 886.75h17.4M285.9 888.25h17.4M495.2 888.25h17.4M285.9 889.75h34.9M320.8 891.25h34.9M303.4 894.25h17.4M355.7 894.25h17.4M477.7 895.75h17.4M530.0 895.75h17.4M617.2 895.75h17.4M303.4 897.25h17.4M320.8 898.75h17.4M425.4 901.75h17.4M460.3 901.75h17.4M373.1 903.25h52.3M564.9 903.25h17.4M390.6 906.25h17.4M216.2 909.25h17.4M338.3 910.75h17.4M547.5 910.75h17.4M599.8 910.75h34.9M442.9 912.25h17.4M495.2 912.25h17.4M216.2 915.25h17.4M355.7 915.25h17.4M495.2 915.25h17.4M530.0 916.75h34.9M582.4 916.75h17.4M251.1 918.25h34.9M355.7 918.25h17.4M512.6 918.25h17.4M582.4 918.25h17.4M617.2 918.25h34.9M285.9 919.75h17.4M355.7 921.25h17.4M425.4 921.25h17.4M564.9 921.25h34.9M634.7 921.25h17.4M355.7 922.75h17.4M425.4 922.75h17.4M477.7 922.75h17.4M582.4 922.75h17.4M634.7 922.75h17.4" stroke="rgb(0,40,0)" stroke-width="1.5"/>
<path d="M233.6 628.75h17.4M582.4 628.75h17.4M320.8 631.75h17.4M617.2 633.25h17.4M408.0 636.25h17.4M425.4 637.75h17.4M460.3 637.75h17.4M495.2 637.75h34.9M547.5 637.75h17.4M617.2 637.75h17.4M408.0 639.25h17.4M460.3 639.25h17.4M355.7 640.75h17.4M477.7 640.75h17.4M547.5 640.75h17.4M582.4 640.75h17.4M338.3 642.25h34.9M477.7 642.25h34.9M599.8 642.25h17.4M303.4 643.75h17.4M338.3 643.75h17.4M460.3 646.75h17.4M442.9 648.25h17.4M547.5 649.75h17.4M355.7 652.75h17.4M477.7 652.75h17.4M233.6 654.25h17.4M408.0 654.25h34.9M460.3 655.75h17.4M617.2 655.75h34.9M320.8 657.25h17.4M599.8 657.25h17.4M530.0 658.75h17.4M599.8 660.25h17.4M634.7 660.25h17.4M216.2 661.75h17.4M460.3 661.75h34.9M233.6 663.25h17.4M355.7 663.25h17.4M512.6 663.25h17.4M599.8 663.25h34.9M373.1 664.75h17.4M425.4 664.75h34.9M408.0 666.25h17.4M495.2 666.25h17.4M460.3 667.75h17.4M512.6 667.75h17.4M617.2 667.75h17.4M442.9 669.25h17.4M530.0 669.25h17.4M564.9 669.25h17.4M530.0 670.75h17.4M564.9 670.75h17.4M599.8 670.75h34.9M390.6 672.25h17.4M530.0 672.25h17.4M564.9 672.25h17.4M599.8 672.25h17.4M634.7 672.25h17.4M390.6 673.75h17.4M582.4 675.25h17.4M408.0 676.75h17.4M442.9 676.75h17.4M547.5 676.75h34.9M599.8 676.75h17.4M251.1 678.25h17.4M617.2 678.25h17.4M216.2 679.75h17.4M425.4 679.75h17.4M512.6 679.75h17.4M373.1 681.25h17.4M408.0 681.25h34.9M460.3 681.25h17.4M617.2 681.25h17.4M373.1 684.25h34.9M460.3 684.25h17.4M408.0 685.75h17.4M442.9 685.75h17.4M320.8 687.25h17.4M373.1 687.25h17.4M338.3 688.75h17.4M477.7 688.75h17.4M408.0 690.25h17.4M303.4 691.75h17.4M216.2 696.25h34.9M390.6 697.75h17.4M495.2 697.75h17.4M530.0 700.75h17.4M582.4 700.75h69.7M408.0 702.25h17.4M216.2 703.75h34.9M338.3 703.75h17.4M390.6 703.75h17.4M425.4 703.75h17.4M599.8 703.75h17.4M390.6 705.25h17.4M477.7 705.25h17.4M251.1 706.75h69.7M338.3 706.75h17.4M355.7 708.25h17.4M303.4 709.75h52.3M390.6 709.75h17.4M442.9 709.75h17.4M285.9 712.75h17.4M338.3 712.75h17.4M390.6 712.75h17.4M547.5 714.25h17.4M460.3 715.75h17.4M251.1 717.25h17.4M355.7 717.25h17.4M477.7 717.25h17.4M373.1 720.25h17.4M460.3 721.75h17.4M303.4 724.75h17.4M512.6 724.75h52.3M582.4 724.75h17.4M373.1 726.25h17.4M425.4 726.25h34.9M338.3 729.25h34.9M390.6 730.75h17.4M425.4 730.75h17.4M512.6 730.75h17.4M582.4 730.75h17.4M617.2 730.75h17.4M390.6 732.25h17.4M390.6 733.75h17.4M564.9 733.75h34.9M634.7 733.75h17.4M390.6 735.25h17.4M477.7 735.25h17.4M390.6 736.75h17.4M425.4 736.75h17.4M495.2 736.75h17.4M530.0 742.75h17.4M355.7 744.25h17.4M425.4 744.25h17.4M390.6 745.75h34.9M512.6 745.75h17.4M599.8 745.75h52.3M373.1 747.25h17.4M530.0 747.25h17.4M251.1 753.25h17.4M355.7 753.25h17.4M425.4 753.25h17.4M547.5 753.25h17.4M617.2 753.25h34.9M233.6 756.25h17.4M390.6 756.25h17.4M477.7 756.25h34.9M355.7 757.75h17.4M512.6 757.75h17.4M460.3 759.25h17.4M355.7 760.75h17.4M425.4 762.25h17.4M495.2 762.25h17.4M320.8 763.75h17.4M355.7 763.75h17.4M425.4 763.75h17.4M373.1 765.25h17.4M233.6 766.75h52.3M373.1 766.75h17.4M442.9 766.75h17.4M495.2 768.25h34.9M373.1 769.75h17.4M408.0 769.75h34.9M460.3 769.75h17.4M495.2 769.75h17.4M285.9 771.25h17.4M338.3 771.25h17.4M530.0 771.25h34.9M617.2 771.25h34.9M251.1 772.75h34.9M390.6 772.75h17.4M408.0 774.25h17.4M564.9 774.25h17.4M634.7 774.25h17.4M495.2 775.75h17.4M547.5 775.75h17.4M582.4 775.75h17.4M617.2 775.75h34.9M495.2 777.25h17.4M355.7 780.25h17.4M495.2 780.25h17.4M460.3 781.75h34.9M251.1 783.25h17.4M303.4 784.75h17.4M338.3 784.75h34.9M442.9 784.75h17.4M408.0 787.75h17.4M547.5 792.25h34.9M320.8 793.75h17.4M390.6 793.75h17.4M442.9 793.75h17.4M338.3 795.25h34.9M442.9 795.25h17.4M495.2 795.25h17.4M320.8 798.25h17.4M495.2 798.25h17.4M216.2 802.75h34.9M303.4 802.75h17.4M355.7 802.75h17.4M442.9 804.25h17.4M320.8 807.25h17.4M442.9 807.25h17.4M251.1 808.75h17.4M233.6 810.25h34.9M268.5 811.75h34.9M547.5 811.75h52.3M530.0 813.25h17.4M599.8 813.25h34.9M251.1 814.75h34.9M495.2 816.25h17.4M530.0 817.75h17.4M373.1 819.25h17.4M303.4 820.75h17.4M442.9 820.75h17.4M320.8 825.25h17.4M547.5 825.25h17.4M373.1 826.75h17.4M460.3 826.75h17.4M512.6 826.75h34.9M564.9 826.75h34.9M617.2 826.75h34.9M547.5 828.25h17.4M634.7 828.25h17.4M233.6 829.75h34.9M285.9 829.75h17.4M408.0 829.75h17.4M442.9 831.25h34.9M495.2 831.25h17.4M530.0 831.25h34.9M582.4 831.25h34.9M251.1 835.75h17.4M285.9 835.75h17.4M338.3 835.75h34.9M530.0 835.75h34.9M634.7 835.75h17.4M460.3 838.75h34.9M512.6 840.25h17.4M617.2 840.25h34.9M373.1 841.75h17.4M495.2 841.75h17.4M599.8 841.75h17.4M634.7 841.75h17.4M355.7 843.25h17.4M495.2 843.25h34.9M547.5 843.25h17.4M582.4 843.25h17.4M355.7 844.75h17.4M408.0 844.75h34.9M582.4 844.75h34.9M634.7 844.75h17.4M477.7 846.25h17.4M373.1 847.75h17.4M425.4 847.75h17.4M460.3 847.75h17.4M390.6 849.25h17.4M564.9 849.25h17.4M268.5 850.75h17.4M338.3 850.75h17.4M233.6 852.25h34.9M390.6 852.25h17.4M216.2 853.75h17.4M338.3 858.25h17.4M512.6 858.25h52.3M617.2 858.25h34.9M373.1 859.75h17.4M425.4 859.75h17.4M512.6 859.75h17.4M547.5 859.75h17.4M617.2 859.75h17.4M512.6 861.25h17.4M582.4 862.75h34.9M390.6 864.25h17.4M477.7 865.75h17.4M233.6 867.25h17.4M373.1 867.25h52.3M460.3 868.75h17.4M617.2 868.75h17.4M268.5 870.25h17.4M442.9 870.25h17.4M512.6 871.75h17.4M564.9 873.25h17.4M303.4 874.75h17.4M442.9 874.75h17.4M512.6 874.75h17.4M547.5 874.75h17.4M233.6 876.25h17.4M303.4 876.25h17.4M460.3 876.25h17.4M512.6 876.25h17.4M599.8 876.25h17.4M408.0 877.75h17.4M303.4 879.25h17.4M251.1 880.75h17.4M285.9 882.25h17.4M303.4 883.75h17.4M442.9 883.75h17.4M477.7 883.75h17.4M285.9 885.25h17.4M373.1 886.75h17.4M251.1 888.25h17.4M477.7 888.25h17.4M251.1 889.75h17.4M495.2 891.25h17.4M338.3 892.75h17.4M390.6 894.25h17.4M303.4 895.75h17.4M320.8 897.25h17.4M390.6 897.25h17.4M617.2 900.25h17.4M530.0 903.25h34.9M599.8 903.25h17.4M495.2 904.75h17.4M216.2 907.75h17.4M408.0 909.25h17.4M233.6 910.75h17.4M355.7 910.75h17.4M512.6 910.75h17.4M582.4 910.75h17.4M634.7 910.75h17.4M512.6 912.25h17.4M634.7 912.25h17.4M460.3 913.75h17.4M495.2 913.75h17.4M338.3 915.25h17.4M530.0 915.25h17.4M564.9 915.25h17.4M634.7 915.25h17.4M338.3 916.75h17.4M564.9 916.75h17.4M599.8 916.75h17.4M634.7 916.75h17.4M216.2 918.25h17.4M338.3 918.25h17.4M373.1 918.25h17.4M251.1 919.75h34.9M338.3 919.75h34.9M390.6 921.25h34.9M268.5 922.75h17.4M460.3 922.75h17.4" stroke="rgb(0,27,0)" stroke-width="1.5"/>
<path d="M216.2 628.75h17.4M320.8 628.75h17.4M373.1 628.75h17.4M425.4 628.75h17.4M477.7 628.75h17.4M512.6 628.75h17.4M547.5 628.75h17.4M599.8 628.75h17.4M303.4 631.75h17.4M477.7 631.75h17.4M338.3 633.25h17.4M442.9 633.25h17.4M495.2 633.25h17.4M251.1 637.75h17.4M373.1 637.75h17.4M408.0 637.75h17.4M634.7 637.75h17.4M425.4 639.25h17.4M512.6 640.75h34.9M599.8 640.75h34.9M303.4 642.25h17.4M425.4 642.25h17.4M460.3 642.25h17.4M530.0 642.25h34.9M582.4 642.25h17.4M634.7 642.25h17.4M216.2 643.75h34.9M320.8 643.75h17.4M390.6 643.75h17.4M564.9 643.75h17.4M390.6 645.25h17.4M408.0 646.75h17.4M338.3 648.25h17.4M390.6 648.25h34.9M408.0 651.25h34.9M320.8 654.25h17.4M373.1 654.25h34.9M477.7 654.25h17.4M512.6 654.25h17.4M233.6 655.75h17.4M495.2 655.75h17.4M530.0 655.75h34.9M425.4 657.25h17.4M512.6 660.25h87.2M617.2 660.25h17.4M390.6 661.75h17.4M495.2 661.75h17.4M530.0 663.25h17.4M582.4 663.25h17.4M634.7 663.25h17.4M390.6 664.75h17.4M390.6 666.25h17.4M425.4 666.25h17.4M477.7 666.25h17.4M355.7 667.75h17.4M460.3 669.25h17.4M495.2 669.25h34.9M547.5 669.25h17.4M617.2 669.25h17.4M390.6 670.75h34.9M373.1 672.25h17.4M425.4 672.25h17.4M477.7 672.25h34.9M582.4 672.25h17.4M338.3 673.75h17.4M530.0 675.25h34.9M599.8 675.25h52.3M425.4 676.75h17.4M477.7 676.75h17.4M634.7 676.75h17.4M268.5 678.25h17.4M582.4 678.25h17.4M634.7 678.25h17.4M634.7 679.75h17.4M320.8 684.25h17.4M408.0 684.25h34.9M355.7 685.75h17.4M390.6 687.25h17.4M460.3 688.75h17.4M285.9 690.25h17.4M373.1 690.25h17.4M320.8 691.75h17.4M495.2 693.25h17.4M303.4 694.75h34.9M460.3 694.75h17.4M495.2 694.75h52.3M564.9 694.75h17.4M599.8 694.75h17.4M355.7 696.25h17.4M373.1 697.75h17.4M460.3 697.75h17.4M268.5 700.75h17.4M547.5 700.75h34.9M408.0 703.75h17.4M634.7 703.75h17.4M251.1 705.25h17.4M285.9 705.25h17.4M408.0 705.25h34.9M460.3 705.25h17.4M233.6 706.75h17.4M233.6 708.25h17.4M320.8 708.25h17.4M408.0 708.25h17.4M408.0 709.75h34.9M268.5 712.75h17.4M408.0 712.75h17.4M599.8 714.25h34.9M477.7 715.75h17.4M408.0 717.25h17.4M460.3 717.25h17.4M495.2 717.25h17.4M373.1 721.75h34.9M216.2 723.25h17.4M477.7 723.25h34.9M373.1 724.75h52.3M442.9 724.75h17.4M617.2 724.75h34.9M355.7 726.25h17.4M477.7 726.25h17.4M233.6 727.75h17.4M373.1 727.75h17.4M442.9 727.75h17.4M495.2 727.75h17.4M251.1 732.25h17.4M355.7 732.25h17.4M408.0 732.25h17.4M355.7 733.75h34.9M477.7 733.75h17.4M495.2 735.25h17.4M355.7 739.75h17.4M512.6 742.75h17.4M373.1 745.75h17.4M495.2 745.75h17.4M547.5 745.75h17.4M547.5 747.25h52.3M617.2 747.25h17.4M233.6 751.75h17.4M373.1 753.25h17.4M495.2 754.75h34.9M617.2 754.75h17.4M216.2 756.25h17.4M425.4 756.25h17.4M425.4 759.25h17.4M338.3 760.75h17.4M408.0 762.25h17.4M460.3 762.25h34.9M251.1 763.75h17.4M285.9 765.25h17.4M460.3 765.25h17.4M495.2 765.25h17.4M285.9 772.75h17.4M373.1 772.75h17.4M425.4 772.75h17.4M460.3 772.75h17.4M530.0 772.75h17.4M373.1 774.25h17.4M303.4 777.25h17.4M338.3 778.75h34.9M303.4 781.75h17.4M408.0 781.75h34.9M285.9 783.25h17.4M338.3 783.25h17.4M408.0 783.25h17.4M460.3 783.25h17.4M547.5 784.75h17.4M495.2 786.25h52.3M564.9 786.25h34.9M617.2 786.25h34.9M268.5 787.75h34.9M425.4 789.25h17.4M425.4 792.25h17.4M530.0 792.25h17.4M599.8 792.25h34.9M373.1 793.75h17.4M320.8 795.25h17.4M408.0 795.25h17.4M477.7 795.25h17.4M390.6 796.75h34.9M338.3 798.25h17.4M495.2 799.75h17.4M338.3 802.75h17.4M477.7 802.75h17.4M355.7 804.25h17.4M355.7 805.75h17.4M390.6 805.75h17.4M564.9 805.75h34.9M251.1 807.25h17.4M268.5 808.75h17.4M285.9 810.25h17.4M338.3 810.25h17.4M320.8 811.75h17.4M373.1 811.75h34.9M512.6 811.75h17.4M216.2 813.25h17.4M285.9 814.75h17.4M373.1 814.75h17.4M303.4 816.25h17.4M355.7 817.75h17.4M233.6 819.25h17.4M320.8 819.25h17.4M408.0 820.75h17.4M495.2 823.75h17.4M599.8 823.75h17.4M425.4 825.25h17.4M320.8 826.75h17.4M390.6 826.75h17.4M495.2 826.75h17.4M547.5 826.75h17.4M599.8 826.75h17.4M251.1 828.25h17.4M408.0 828.25h17.4M477.7 828.25h17.4M582.4 828.25h17.4M617.2 828.25h17.4M216.2 829.75h17.4M268.5 829.75h17.4M460.3 829.75h34.9M617.2 829.75h17.4M303.4 831.25h17.4M477.7 831.25h17.4M564.9 831.25h17.4M617.2 831.25h17.4M233.6 832.75h17.4M320.8 832.75h17.4M425.4 832.75h17.4M547.5 832.75h17.4M599.8 832.75h34.9M216.2 834.25h17.4M338.3 834.25h34.9M390.6 834.25h17.4M460.3 834.25h34.9M233.6 835.75h17.4M268.5 835.75h17.4M320.8 837.25h17.4M582.4 840.25h17.4M477.7 843.25h17.4M617.2 843.25h17.4M338.3 844.75h17.4M390.6 844.75h17.4M530.0 844.75h34.9M425.4 846.25h17.4M512.6 846.25h17.4M582.4 846.25h34.9M530.0 847.75h34.9M617.2 847.75h17.4M216.2 849.25h17.4M425.4 849.25h17.4M582.4 849.25h34.9M634.7 849.25h17.4M355.7 850.75h17.4M268.5 852.25h34.9M390.6 853.75h17.4M338.3 855.25h17.4M390.6 855.25h17.4M425.4 855.25h17.4M408.0 856.75h17.4M460.3 856.75h17.4M408.0 858.25h34.9M460.3 858.25h34.9M564.9 858.25h17.4M477.7 859.75h34.9M599.8 859.75h17.4M634.7 859.75h17.4M373.1 861.25h17.4M495.2 861.25h17.4M233.6 862.75h17.4M251.1 864.25h17.4M355.7 864.25h17.4M495.2 865.75h17.4M564.9 865.75h17.4M425.4 867.25h17.4M442.9 868.75h17.4M233.6 870.25h17.4M285.9 870.25h17.4M408.0 870.25h17.4M477.7 870.25h34.9M530.0 871.75h34.9M582.4 871.75h17.4M634.7 871.75h17.4M425.4 873.25h17.4M599.8 874.75h52.3M320.8 876.25h17.4M390.6 876.25h17.4M530.0 876.25h52.3M634.7 876.25h17.4M373.1 879.25h17.4M442.9 879.25h17.4M285.9 880.75h17.4M268.5 882.25h17.4M338.3 882.25h17.4M390.6 882.25h17.4M425.4 882.25h17.4M373.1 883.75h17.4M355.7 885.25h17.4M390.6 885.25h17.4M425.4 885.25h17.4M233.6 886.75h17.4M390.6 888.25h17.4M442.9 889.75h17.4M495.2 889.75h17.4M408.0 891.25h17.4M373.1 892.75h34.9M338.3 894.25h17.4M408.0 895.75h17.4M442.9 895.75h34.9M495.2 895.75h17.4M373.1 897.25h17.4M408.0 897.25h34.9M303.4 898.75h17.4M338.3 898.75h34.9M460.3 898.75h17.4M442.9 900.25h34.9M512.6 900.25h17.4M582.4 900.25h17.4M634.7 900.25h17.4M408.0 901.75h17.4M512.6 903.25h17.4M582.4 903.25h17.4M617.2 903.25h34.9M460.3 904.75h17.4M425.4 906.25h17.4M408.0 907.75h17.4M338.3 909.25h34.9M425.4 909.25h17.4M477.7 909.25h17.4M495.2 910.75h17.4M390.6 912.25h34.9M547.5 912.25h17.4M582.4 912.25h52.3M233.6 913.75h17.4M425.4 913.75h17.4M477.7 913.75h17.4M564.9 913.75h34.9M634.7 913.75h17.4M373.1 915.25h17.4M547.5 915.25h17.4M599.8 915.25h34.9M216.2 916.75h17.4M390.6 916.75h17.4M512.6 916.75h17.4M617.2 916.75h17.4M233.6 918.25h17.4M408.0 918.25h17.4M390.6 919.75h52.3M268.5 921.25h17.4M338.3 921.25h17.4M495.2 921.25h17.4M216.2 922.75h17.4M338.3 922.75h17.4M408.0 922.75h17.4" stroke="rgb(0,13,0)" stroke-width="1.5"/>
<path d="M268.5 628.75h34.9M390.6 628.75h34.9M634.7 628.75h17.4M477.7 630.25h17.4M338.3 631.75h17.4M460.3 631.75h17.4M495.2 631.75h17.4M390.6 633.25h52.3M477.7 633.25h17.4M251.1 634.75h17.4M425.4 634.75h17.4M373.1 636.25h17.4M495.2 639.25h17.4M390.6 640.75h17.4M442.9 640.75h17.4M495.2 643.75h34.9M582.4 643.75h17.4M617.2 643.75h17.4M233.6 645.25h17.4M408.0 645.25h34.9M512.6 645.25h17.4M547.5 645.25h34.9M599.8 645.25h17.4M251.1 646.75h17.4M285.9 646.75h17.4M512.6 646.75h17.4M564.9 646.75h52.3M634.7 646.75h17.4M355.7 648.25h17.4M425.4 648.25h17.4M530.0 648.25h34.9M582.4 648.25h52.3M338.3 649.75h17.4M530.0 649.75h17.4M582.4 649.75h17.4M617.2 649.75h17.4M233.6 651.25h17.4M268.5 651.25h17.4M442.9 651.25h17.4M599.8 652.75h17.4M268.5 654.25h17.4M303.4 655.75h17.4M425.4 655.75h17.4M233.6 657.25h17.4M233.6 658.75h17.4M285.9 658.75h17.4M355.7 658.75h17.4M390.6 658.75h34.9M512.6 658.75h17.4M547.5 658.75h17.4M599.8 658.75h34.9M390.6 660.25h17.4M425.4 660.25h17.4M495.2 660.25h17.4M442.9 661.75h17.4M216.2 663.25h17.4M338.3 663.25h17.4M390.6 663.25h17.4M425.4 663.25h17.4M460.3 663.25h17.4M216.2 664.75h17.4M233.6 667.75h17.4M408.0 667.75h17.4M425.4 669.25h17.4M425.4 670.75h17.4M460.3 672.25h17.4M460.3 673.75h17.4M495.2 673.75h17.4M547.5 673.75h34.9M373.1 675.25h17.4M460.3 678.25h17.4M390.6 681.25h17.4M338.3 682.75h17.4M477.7 684.25h34.9M425.4 685.75h17.4M373.1 688.75h17.4M408.0 688.75h17.4M495.2 688.75h17.4M582.4 688.75h17.4M390.6 690.25h17.4M460.3 691.75h17.4M390.6 693.25h17.4M477.7 694.75h17.4M617.2 694.75h17.4M564.9 697.75h17.4M634.7 697.75h17.4M285.9 700.75h17.4M216.2 702.25h17.4M373.1 702.25h17.4M268.5 705.25h17.4M599.8 705.25h17.4M495.2 706.75h17.4M495.2 711.25h17.4M564.9 714.25h17.4M373.1 715.75h34.9M512.6 715.75h17.4M338.3 717.25h17.4M425.4 717.25h17.4M547.5 717.25h34.9M599.8 717.25h34.9M547.5 718.75h17.4M425.4 721.75h17.4M251.1 723.25h17.4M390.6 723.25h17.4M564.9 723.25h17.4M599.8 723.25h34.9M251.1 726.25h34.9M425.4 727.75h17.4M477.7 727.75h17.4M617.2 727.75h17.4M442.9 729.25h17.4M408.0 730.75h17.4M268.5 732.25h34.9M373.1 732.25h17.4M216.2 735.25h17.4M251.1 735.25h17.4M285.9 735.25h17.4M338.3 735.25h17.4M460.3 735.25h17.4M564.9 738.25h17.4M512.6 739.75h17.4M564.9 739.75h17.4M320.8 741.25h17.4M477.7 741.25h17.4M442.9 742.75h17.4M564.9 742.75h17.4M477.7 744.25h34.9M233.6 747.25h17.4M512.6 747.25h17.4M599.8 747.25h17.4M495.2 748.75h17.4M320.8 750.25h34.9M320.8 751.75h34.9M477.7 751.75h34.9M390.6 753.25h17.4M477.7 753.25h17.4M460.3 754.75h17.4M530.0 754.75h34.9M634.7 754.75h17.4M338.3 756.25h17.4M373.1 756.25h17.4M477.7 757.75h17.4M512.6 760.75h52.3M617.2 760.75h17.4M285.9 763.75h17.4M373.1 763.75h17.4M408.0 763.75h17.4M233.6 765.25h34.9M303.4 765.25h17.4M390.6 766.75h17.4M373.1 771.25h34.9M495.2 772.75h17.4M268.5 774.25h17.4M373.1 775.75h17.4M408.0 775.75h17.4M477.7 775.75h17.4M547.5 777.25h17.4M599.8 777.25h52.3M216.2 778.75h34.9M477.7 778.75h17.4M425.4 780.25h17.4M582.4 780.25h17.4M617.2 780.25h17.4M338.3 781.75h17.4M320.8 783.25h17.4M495.2 783.25h17.4M390.6 784.75h17.4M425.4 784.75h17.4M460.3 784.75h17.4M512.6 784.75h34.9M599.8 784.75h17.4M460.3 786.25h34.9M251.1 787.75h17.4M460.3 787.75h17.4M320.8 789.25h17.4M442.9 789.25h17.4M355.7 790.75h17.4M547.5 790.75h17.4M599.8 790.75h52.3M216.2 792.25h17.4M268.5 792.25h17.4M408.0 792.25h17.4M233.6 793.75h17.4M460.3 793.75h17.4M495.2 793.75h17.4M547.5 795.25h17.4M582.4 795.25h17.4M617.2 795.25h34.9M564.9 796.75h17.4M617.2 796.75h34.9M216.2 798.25h34.9M373.1 798.25h17.4M408.0 798.25h17.4M530.0 798.25h17.4M216.2 799.75h34.9M477.7 799.75h17.4M530.0 799.75h87.2M634.7 799.75h17.4M268.5 801.25h34.9M408.0 801.25h17.4M460.3 801.25h17.4M564.9 801.25h17.4M373.1 802.75h17.4M425.4 802.75h17.4M495.2 802.75h17.4M285.9 804.25h17.4M390.6 804.25h34.9M338.3 805.75h17.4M373.1 805.75h17.4M495.2 805.75h34.9M617.2 805.75h17.4M268.5 807.25h17.4M355.7 807.25h17.4M390.6 807.25h17.4M216.2 808.75h17.4M303.4 808.75h34.9M373.1 808.75h17.4M425.4 808.75h17.4M547.5 808.75h17.4M634.7 808.75h17.4M425.4 810.25h17.4M512.6 810.25h34.9M564.9 810.25h52.3M634.7 810.25h17.4M338.3 811.75h17.4M495.2 811.75h17.4M303.4 813.25h17.4M338.3 813.25h17.4M355.7 814.75h17.4M390.6 814.75h17.4M216.2 817.75h34.9M338.3 817.75h17.4M373.1 817.75h17.4M495.2 817.75h17.4M216.2 819.25h17.4M408.0 819.25h17.4M303.4 822.25h34.9M408.0 822.25h17.4M233.6 823.75h17.4M303.4 823.75h17.4M442.9 823.75h17.4M512.6 823.75h52.3M582.4 823.75h17.4M617.2 823.75h34.9M216.2 825.25h17.4M390.6 825.25h34.9M216.2 826.75h17.4M338.3 826.75h17.4M477.7 826.75h17.4M373.1 828.25h17.4M320.8 829.75h17.4M495.2 829.75h17.4M564.9 829.75h34.9M390.6 831.25h17.4M425.4 831.25h17.4M355.7 832.75h17.4M408.0 832.75h17.4M442.9 832.75h17.4M582.4 832.75h17.4M495.2 834.25h17.4M303.4 837.25h17.4M442.9 837.25h17.4M477.7 837.25h17.4M495.2 838.75h17.4M320.8 840.25h17.4M442.9 840.25h34.9M425.4 841.75h17.4M251.1 843.25h17.4M373.1 843.25h17.4M373.1 844.75h17.4M355.7 846.25h17.4M408.0 846.25h17.4M460.3 846.25h17.4M634.7 846.25h17.4M355.7 847.75h17.4M251.1 849.25h17.4M285.9 849.25h17.4M373.1 850.75h17.4M355.7 853.75h17.4M408.0 853.75h34.9M477.7 853.75h17.4M512.6 853.75h17.4M408.0 855.25h17.4M425.4 856.75h17.4M477.7 856.75h17.4M216.2 859.75h17.4M233.6 861.25h17.4M320.8 861.25h17.4M408.0 861.25h52.3M216.2 862.75h17.4M390.6 862.75h17.4M425.4 862.75h17.4M373.1 864.25h17.4M251.1 865.75h34.9M338.3 865.75h17.4M216.2 867.25h17.4M408.0 868.75h17.4M477.7 868.75h17.4M390.6 870.25h17.4M564.9 871.75h17.4M303.4 873.25h17.4M373.1 873.25h52.3M530.0 874.75h17.4M373.1 876.25h17.4M408.0 876.25h17.4M373.1 877.75h17.4M425.4 877.75h17.4M512.6 877.75h34.9M599.8 877.75h34.9M425.4 880.75h17.4M460.3 880.75h34.9M512.6 880.75h17.4M634.7 880.75h17.4M320.8 882.25h17.4M408.0 882.25h17.4M530.0 882.25h17.4M582.4 882.25h17.4M355.7 883.75h17.4M390.6 883.75h17.4M425.4 883.75h17.4M530.0 885.25h17.4M564.9 885.25h17.4M355.7 886.75h17.4M408.0 886.75h17.4M634.7 886.75h17.4M425.4 888.25h17.4M617.2 888.25h17.4M390.6 889.75h17.4M477.7 889.75h17.4M355.7 891.25h17.4M390.6 891.25h17.4M425.4 891.25h17.4M564.9 891.25h17.4M460.3 892.75h17.4M564.9 892.75h17.4M599.8 892.75h52.3M233.6 895.75h17.4M233.6 897.25h17.4M617.2 898.75h17.4M268.5 900.25h17.4M303.4 900.25h17.4M530.0 900.25h17.4M251.1 903.25h17.4M251.1 904.75h17.4M373.1 904.75h17.4M425.4 904.75h17.4M338.3 906.25h17.4M373.1 907.75h34.9M425.4 907.75h17.4M477.7 907.75h17.4M617.2 907.75h34.9M390.6 910.75h17.4M285.9 912.25h17.4M460.3 912.25h17.4M373.1 913.75h17.4M617.2 913.75h17.4M251.1 915.25h17.4M390.6 915.25h17.4M233.6 916.75h17.4M373.1 916.75h17.4M408.0 916.75h17.4M477.7 919.75h17.4M564.9 919.75h17.4M599.8 919.75h34.9M285.9 921.25h17.4M442.9 921.25h17.4M285.9 922.75h17.4M373.1 922.75h34.9" stroke="rgb(13,0,0)" stroke-width="1.5"/>
<path d="M233.6 630.25h17.4M251.1 631.75h17.4M355.7 631.75h17.4M460.3 633.25h17.4M390.6 634.75h17.4M216.2 636.25h17.4M233.6 639.25h17.4M303.4 639.25h17.4M477.7 639.25h17.4M408.0 640.75h17.4M216.2 642.25h34.9M320.8 642.25h17.4M460.3 643.75h17.4M599.8 643.75h17.4M634.7 643.75h17.4M617.2 645.25h34.9M268.5 646.75h17.4M530.0 646.75h17.4M617.2 646.75h17.4M373.1 648.25h17.4M512.6 648.25h17.4M634.7 648.25h17.4M216.2 649.75h17.4M355.7 649.75h17.4M390.6 649.75h17.4M425.4 649.75h34.9M512.6 649.75h17.4M599.8 649.75h17.4M634.7 649.75h17.4M216.2 651.25h17.4M390.6 651.25h17.4M390.6 652.75h17.4M512.6 652.75h17.4M617.2 652.75h34.9M285.9 654.25h17.4M408.0 655.75h17.4M285.9 657.25h17.4M390.6 657.25h34.9M268.5 658.75h17.4M320.8 660.25h17.4M460.3 660.25h17.4M320.8 661.75h17.4M285.9 663.25h17.4M408.0 663.25h17.4M233.6 664.75h34.9M460.3 664.75h52.3M390.6 669.25h17.4M320.8 672.25h17.4M373.1 673.75h17.4M408.0 673.75h17.4M530.0 673.75h17.4M408.0 675.25h17.4M425.4 678.25h17.4M425.4 682.75h17.4M355.7 684.25h17.4M442.9 684.25h17.4M373.1 685.75h17.4M460.3 687.25h17.4M547.5 688.75h17.4M634.7 688.75h17.4M355.7 693.25h17.4M390.6 694.75h17.4M373.1 696.25h17.4M338.3 697.75h17.4M582.4 697.75h17.4M355.7 699.25h17.4M390.6 699.25h17.4M460.3 699.25h17.4M495.2 699.25h17.4M373.1 700.75h17.4M425.4 700.75h17.4M460.3 700.75h17.4M338.3 702.25h17.4M390.6 702.25h17.4M495.2 702.25h17.4M268.5 703.75h17.4M355.7 703.75h17.4M355.7 705.25h17.4M442.9 705.25h17.4M512.6 705.25h52.3M582.4 705.25h17.4M617.2 705.25h17.4M355.7 706.75h17.4M460.3 706.75h17.4M617.2 706.75h17.4M460.3 708.25h17.4M216.2 709.75h17.4M285.9 709.75h17.4M338.3 711.25h17.4M495.2 712.75h17.4M530.0 712.75h17.4M338.3 714.25h87.2M634.7 714.25h17.4M425.4 715.75h17.4M530.0 715.75h52.3M599.8 715.75h17.4M634.7 715.75h17.4M373.1 717.25h17.4M634.7 717.25h17.4M338.3 718.75h34.9M408.0 718.75h34.9M477.7 718.75h17.4M564.9 718.75h69.7M355.7 720.25h17.4M634.7 721.75h17.4M233.6 723.25h17.4M425.4 723.25h17.4M390.6 727.75h17.4M564.9 727.75h17.4M373.1 729.25h17.4M216.2 732.25h17.4M460.3 732.25h34.9M268.5 735.25h17.4M285.9 736.75h17.4M320.8 736.75h17.4M285.9 738.25h17.4M425.4 738.25h17.4M512.6 738.25h17.4M547.5 738.25h17.4M634.7 738.25h17.4M338.3 739.75h17.4M390.6 739.75h17.4M547.5 739.75h17.4M599.8 739.75h17.4M634.7 739.75h17.4M390.6 741.25h34.9M512.6 741.25h34.9M599.8 741.25h34.9M390.6 742.75h17.4M547.5 742.75h17.4M477.7 745.75h17.4M233.6 748.75h17.4M512.6 748.75h17.4M599.8 748.75h17.4M495.2 750.25h17.4M460.3 751.75h17.4M338.3 753.25h17.4M233.6 754.75h17.4M442.9 756.25h17.4M303.4 759.25h34.9M373.1 759.25h17.4M512.6 759.25h34.9M564.9 759.25h52.3M634.7 759.25h17.4M303.4 760.75h34.9M373.1 760.75h17.4M564.9 760.75h34.9M634.7 760.75h17.4M320.8 765.25h17.4M477.7 766.75h17.4M442.9 771.25h52.3M216.2 772.75h17.4M408.0 772.75h17.4M477.7 772.75h17.4M251.1 774.25h17.4M373.1 780.25h17.4M408.0 780.25h17.4M564.9 780.25h17.4M373.1 781.75h34.9M634.7 781.75h17.4M442.9 783.25h17.4M617.2 783.25h17.4M373.1 784.75h17.4M477.7 784.75h17.4M564.9 784.75h17.4M233.6 787.75h17.4M390.6 787.75h17.4M425.4 787.75h17.4M268.5 790.75h17.4M373.1 790.75h17.4M425.4 790.75h17.4M530.0 790.75h17.4M582.4 790.75h17.4M477.7 792.25h17.4M216.2 793.75h17.4M338.3 793.75h17.4M530.0 793.75h52.3M599.8 793.75h52.3M216.2 795.25h34.9M512.6 795.25h34.9M564.9 795.25h17.4M425.4 796.75h34.9M495.2 796.75h34.9M390.6 798.25h17.4M442.9 798.25h17.4M547.5 798.25h17.4M582.4 798.25h69.7M303.4 799.75h34.9M408.0 799.75h17.4M512.6 799.75h17.4M373.1 801.25h17.4M425.4 801.25h17.4M512.6 801.25h52.3M582.4 801.25h17.4M390.6 802.75h34.9M268.5 804.25h17.4M512.6 804.25h17.4M564.9 804.25h34.9M617.2 804.25h17.4M425.4 805.75h17.4M460.3 805.75h17.4M634.7 805.75h17.4M408.0 807.25h17.4M599.8 807.25h17.4M355.7 808.75h17.4M390.6 808.75h34.9M530.0 808.75h17.4M564.9 808.75h34.9M373.1 810.25h17.4M460.3 811.75h34.9M425.4 813.25h34.9M216.2 814.75h17.4M338.3 814.75h17.4M425.4 814.75h17.4M320.8 816.25h17.4M390.6 816.25h34.9M425.4 817.75h17.4M477.7 817.75h17.4M442.9 819.25h17.4M477.7 819.25h17.4M425.4 820.75h17.4M233.6 822.25h17.4M338.3 822.25h69.7M216.2 823.75h17.4M268.5 823.75h17.4M373.1 823.75h17.4M425.4 823.75h17.4M355.7 826.75h17.4M425.4 828.25h17.4M303.4 829.75h17.4M251.1 831.25h17.4M285.9 831.25h17.4M408.0 831.25h17.4M303.4 832.75h17.4M477.7 832.75h17.4M373.1 835.75h17.4M408.0 835.75h17.4M338.3 837.25h17.4M390.6 837.25h17.4M495.2 837.25h17.4M373.1 840.25h34.9M477.7 840.25h17.4M408.0 841.75h17.4M268.5 843.25h17.4M408.0 843.25h17.4M460.3 843.25h17.4M233.6 844.75h17.4M303.4 844.75h17.4M216.2 846.25h17.4M338.3 847.75h17.4M460.3 849.25h17.4M495.2 850.75h17.4M530.0 852.25h17.4M251.1 853.75h17.4M547.5 853.75h17.4M582.4 853.75h17.4M617.2 853.75h34.9M512.6 855.25h17.4M599.8 855.25h34.9M216.2 858.25h17.4M233.6 859.75h17.4M355.7 859.75h17.4M477.7 861.25h17.4M303.4 862.75h17.4M373.1 862.75h17.4M216.2 864.25h17.4M268.5 864.25h17.4M251.1 867.25h34.9M425.4 868.75h17.4M495.2 868.75h17.4M216.2 870.25h17.4M355.7 870.25h17.4M460.3 870.25h17.4M320.8 873.25h17.4M216.2 874.75h17.4M338.3 874.75h34.9M390.6 874.75h34.9M442.9 876.25h17.4M390.6 877.75h17.4M634.7 877.75h17.4M530.0 879.25h34.9M599.8 879.25h34.9M373.1 880.75h17.4M599.8 880.75h17.4M303.4 882.25h17.4M477.7 882.25h17.4M512.6 882.25h17.4M599.8 882.25h52.3M251.1 883.75h17.4M320.8 885.25h17.4M512.6 885.25h17.4M634.7 885.25h17.4M495.2 886.75h17.4M373.1 888.25h17.4M373.1 889.75h17.4M617.2 891.25h17.4M408.0 892.75h34.9M547.5 892.75h17.4M460.3 894.25h17.4M216.2 895.75h17.4M547.5 897.25h34.9M617.2 897.25h17.4M512.6 898.75h17.4M547.5 898.75h17.4M599.8 898.75h17.4M634.7 898.75h17.4M425.4 900.25h17.4M547.5 900.25h17.4M268.5 903.25h17.4M460.3 903.25h52.3M564.9 906.25h17.4M564.9 907.75h17.4M495.2 909.25h17.4M617.2 909.25h17.4M251.1 912.25h17.4M251.1 913.75h34.9M355.7 913.75h17.4M285.9 915.25h17.4M425.4 915.25h17.4M425.4 916.75h17.4M460.3 916.75h17.4M216.2 919.75h34.9M460.3 919.75h17.4M495.2 919.75h34.9M547.5 919.75h17.4M634.7 919.75h17.4M251.1 921.25h17.4" stroke="rgb(27,0,0)" stroke-width="1.5"/>
<path d="M460.3 628.75h17.4M216.2 630.25h17.4M495.2 630.25h17.4M338.3 636.25h34.9M216.2 640.75h17.4M425.4 640.75h17.4M547.5 643.75h17.4M216.2 645.25h17.4M233.6 646.75h17.4M442.9 646.75h17.4M477.7 648.25h17.4M233.6 649.75h17.4M460.3 651.25h17.4M634.7 651.25h17.4M408.0 652.75h17.4M530.0 652.75h69.7M251.1 654.25h17.4M355.7 654.25h17.4M338.3 655.75h34.9M390.6 655.75h17.4M216.2 657.25h17.4M268.5 657.25h17.4M373.1 657.25h17.4M425.4 658.75h17.4M477.7 660.25h17.4M268.5 664.75h34.9M216.2 666.25h69.7M216.2 667.75h17.4M373.1 667.75h17.4M477.7 667.75h17.4M320.8 669.25h69.7M216.2 670.75h17.4M251.1 675.25h17.4M425.4 675.25h17.4M408.0 678.25h17.4M477.7 678.25h17.4M320.8 681.25h17.4M268.5 682.75h34.9M408.0 682.75h17.4M477.7 685.75h34.9M233.6 687.25h17.4M477.7 687.25h17.4M512.6 688.75h34.9M599.8 688.75h34.9M390.6 691.75h17.4M477.7 691.75h17.4M320.8 693.25h17.4M442.9 693.25h52.3M599.8 693.25h17.4M634.7 693.25h17.4M355.7 694.75h34.9M303.4 696.25h17.4M460.3 696.25h17.4M495.2 696.25h17.4M338.3 699.25h17.4M373.1 699.25h17.4M512.6 699.25h17.4M634.7 699.25h17.4M320.8 700.75h17.4M390.6 700.75h17.4M285.9 703.75h17.4M564.9 705.25h17.4M477.7 706.75h17.4M634.7 706.75h17.4M251.1 708.25h34.9M495.2 708.25h17.4M564.9 708.25h52.3M634.7 708.25h17.4M233.6 709.75h17.4M512.6 709.75h17.4M564.9 709.75h17.4M617.2 709.75h17.4M355.7 711.25h34.9M425.4 711.25h17.4M564.9 712.75h17.4M408.0 715.75h17.4M582.4 715.75h17.4M617.2 715.75h17.4M373.1 718.75h17.4M512.6 718.75h34.9M634.7 718.75h17.4M303.4 720.25h17.4M617.2 721.75h17.4M268.5 723.25h17.4M373.1 723.25h17.4M408.0 723.25h17.4M460.3 723.25h17.4M512.6 723.25h52.3M582.4 723.25h17.4M634.7 723.25h17.4M216.2 727.75h17.4M460.3 727.75h17.4M547.5 727.75h17.4M460.3 729.25h17.4M495.2 732.25h17.4M233.6 733.75h17.4M268.5 733.75h17.4M303.4 735.25h17.4M251.1 736.75h17.4M442.9 736.75h17.4M251.1 738.25h34.9M320.8 738.25h17.4M530.0 738.25h17.4M582.4 738.25h17.4M373.1 739.75h17.4M408.0 739.75h52.3M530.0 739.75h17.4M582.4 739.75h17.4M303.4 741.25h17.4M460.3 741.25h17.4M634.7 741.25h17.4M512.6 744.25h17.4M547.5 744.25h34.9M617.2 744.25h34.9M216.2 747.25h17.4M216.2 748.75h17.4M530.0 748.75h17.4M564.9 748.75h17.4M216.2 750.25h17.4M425.4 750.25h17.4M460.3 750.25h34.9M373.1 751.75h17.4M442.9 753.25h17.4M216.2 754.75h17.4M355.7 756.25h17.4M547.5 759.25h17.4M617.2 759.25h17.4M408.0 760.75h17.4M442.9 762.25h17.4M460.3 763.75h34.9M599.8 763.75h34.9M460.3 766.75h17.4M512.6 766.75h17.4M547.5 766.75h17.4M599.8 766.75h17.4M216.2 769.75h17.4M338.3 769.75h17.4M285.9 774.25h17.4M425.4 775.75h17.4M460.3 775.75h17.4M338.3 777.25h17.4M390.6 780.25h17.4M512.6 780.25h52.3M599.8 780.25h17.4M634.7 780.25h17.4M355.7 781.75h17.4M442.9 781.75h17.4M564.9 781.75h69.7M547.5 783.25h17.4M582.4 783.25h34.9M634.7 783.25h17.4M251.1 784.75h17.4M268.5 786.25h17.4M303.4 786.25h52.3M425.4 786.25h17.4M268.5 789.25h34.9M338.3 790.75h17.4M408.0 790.75h17.4M233.6 792.25h17.4M285.9 792.25h17.4M373.1 792.25h34.9M460.3 792.25h17.4M495.2 792.25h17.4M477.7 793.75h17.4M582.4 793.75h17.4M425.4 795.25h17.4M460.3 796.75h17.4M530.0 796.75h34.9M582.4 796.75h34.9M564.9 798.25h17.4M373.1 799.75h17.4M425.4 799.75h17.4M355.7 801.25h17.4M512.6 802.75h17.4M251.1 804.25h17.4M547.5 804.25h17.4M634.7 804.25h17.4M373.1 807.25h17.4M425.4 807.25h17.4M564.9 807.25h17.4M617.2 807.25h17.4M338.3 808.75h17.4M495.2 810.25h17.4M442.9 811.75h17.4M408.0 813.25h17.4M495.2 813.25h17.4M233.6 814.75h17.4M251.1 816.25h34.9M373.1 816.25h17.4M425.4 816.25h17.4M320.8 817.75h17.4M390.6 817.75h17.4M251.1 819.25h17.4M285.9 819.25h17.4M460.3 819.25h17.4M373.1 820.75h17.4M216.2 822.25h17.4M251.1 823.75h17.4M285.9 823.75h17.4M390.6 823.75h34.9M373.1 825.25h17.4M442.9 825.25h17.4M373.1 831.25h17.4M425.4 834.25h17.4M303.4 835.75h34.9M355.7 837.25h17.4M460.3 837.25h17.4M320.8 838.75h17.4M495.2 840.25h17.4M216.2 844.75h17.4M320.8 844.75h17.4M233.6 846.25h17.4M495.2 846.25h17.4M477.7 849.25h34.9M216.2 850.75h17.4M425.4 850.75h17.4M460.3 850.75h17.4M599.8 852.25h17.4M442.9 853.75h34.9M495.2 853.75h17.4M530.0 853.75h17.4M268.5 855.25h34.9M530.0 855.25h17.4M564.9 855.25h17.4M251.1 858.25h17.4M495.2 858.25h17.4M338.3 861.25h17.4M216.2 865.75h34.9M285.9 867.25h17.4M373.1 868.75h34.9M338.3 870.25h17.4M425.4 870.25h17.4M303.4 871.75h17.4M425.4 874.75h17.4M251.1 877.75h17.4M460.3 879.25h34.9M564.9 879.25h34.9M634.7 879.25h17.4M408.0 880.75h17.4M442.9 880.75h17.4M547.5 880.75h34.9M460.3 882.25h17.4M547.5 882.25h17.4M285.9 883.75h17.4M408.0 883.75h17.4M408.0 885.25h17.4M547.5 885.25h17.4M617.2 885.25h17.4M564.9 886.75h17.4M599.8 886.75h34.9M530.0 888.25h34.9M582.4 888.25h17.4M634.7 888.25h17.4M338.3 889.75h17.4M442.9 891.25h17.4M512.6 891.25h17.4M547.5 891.25h17.4M582.4 891.25h34.9M634.7 891.25h17.4M216.2 892.75h34.9M512.6 892.75h17.4M268.5 895.75h17.4M251.1 897.25h17.4M285.9 897.25h17.4M355.7 897.25h17.4M495.2 897.25h34.9M373.1 898.75h34.9M425.4 898.75h17.4M530.0 898.75h17.4M564.9 898.75h17.4M320.8 900.25h17.4M373.1 900.25h17.4M477.7 900.25h34.9M355.7 904.75h17.4M390.6 904.75h34.9M547.5 904.75h17.4M617.2 904.75h34.9M477.7 906.25h17.4M530.0 906.25h17.4M582.4 906.25h17.4M634.7 906.25h17.4M495.2 907.75h69.7M582.4 907.75h34.9M460.3 909.25h17.4M564.9 909.25h17.4M599.8 909.25h17.4M634.7 909.25h17.4M408.0 910.75h17.4M460.3 910.75h17.4M338.3 912.25h17.4M268.5 915.25h17.4M285.9 916.75h17.4" stroke="rgb(40,0,0)" stroke-width="1.5"/>
<path d="M303.4 628.75h17.4M373.1 630.25h34.9M425.4 630.25h17.4M268.5 631.75h34.9M390.6 631.75h17.4M216.2 633.25h34.9M268.5 634.75h17.4M408.0 634.75h17.4M233.6 636.25h17.4M355.7 639.25h17.4M460.3 645.25h17.4M530.0 645.25h17.4M268.5 648.25h34.9M495.2 648.25h17.4M373.1 649.75h17.4M495.2 651.25h34.9M582.4 651.25h17.4M617.2 651.25h17.4M233.6 652.75h17.4M268.5 652.75h17.4M373.1 652.75h17.4M251.1 658.75h17.4M338.3 658.75h17.4M373.1 658.75h17.4M303.4 660.25h17.4M373.1 660.25h17.4M408.0 660.25h17.4M425.4 661.75h17.4M373.1 663.25h17.4M285.9 666.25h17.4M390.6 667.75h17.4M216.2 669.25h34.9M408.0 669.25h17.4M233.6 670.75h17.4M233.6 673.75h17.4M285.9 675.25h17.4M303.4 678.25h34.9M495.2 678.25h17.4M216.2 681.25h34.9M268.5 681.25h17.4M303.4 681.25h17.4M338.3 681.25h17.4M216.2 682.75h17.4M251.1 682.75h17.4M390.6 682.75h17.4M477.7 682.75h34.9M216.2 685.75h17.4M216.2 687.25h17.4M495.2 687.25h17.4M442.9 688.75h17.4M477.7 690.25h17.4M425.4 691.75h17.4M495.2 691.75h17.4M547.5 691.75h17.4M599.8 691.75h17.4M634.7 691.75h17.4M338.3 693.25h17.4M512.6 693.25h17.4M338.3 694.75h17.4M320.8 696.25h17.4M408.0 696.25h17.4M442.9 696.25h17.4M477.7 696.25h17.4M442.9 697.75h17.4M477.7 699.25h17.4M564.9 699.25h34.9M617.2 699.25h17.4M303.4 700.75h17.4M495.2 700.75h17.4M251.1 703.75h17.4M530.0 706.75h17.4M564.9 706.75h17.4M599.8 706.75h17.4M285.9 708.25h17.4M547.5 708.25h17.4M617.2 708.25h17.4M251.1 709.75h34.9M530.0 709.75h34.9M582.4 709.75h17.4M634.7 709.75h17.4M408.0 711.25h17.4M599.8 712.75h34.9M425.4 714.25h17.4M390.6 718.75h17.4M460.3 718.75h17.4M320.8 720.25h34.9M338.3 721.75h17.4M547.5 721.75h69.7M285.9 723.25h17.4M268.5 724.75h17.4M285.9 726.25h17.4M408.0 727.75h17.4M216.2 729.25h17.4M251.1 729.25h17.4M251.1 730.75h17.4M251.1 733.75h17.4M285.9 733.75h34.9M320.8 735.25h17.4M233.6 736.75h17.4M303.4 738.25h17.4M599.8 738.25h34.9M303.4 739.75h17.4M495.2 741.25h17.4M547.5 741.25h52.3M599.8 744.25h17.4M425.4 748.75h17.4M460.3 748.75h17.4M547.5 748.75h17.4M582.4 748.75h17.4M617.2 748.75h34.9M373.1 750.25h17.4M408.0 750.25h17.4M442.9 750.25h17.4M495.2 753.25h17.4M303.4 754.75h17.4M495.2 763.75h34.9M564.9 763.75h17.4M233.6 769.75h17.4M355.7 769.75h17.4M216.2 771.25h17.4M355.7 777.25h17.4M373.1 778.75h17.4M442.9 778.75h17.4M547.5 781.75h17.4M512.6 783.25h34.9M564.9 783.25h17.4M216.2 784.75h34.9M268.5 784.75h34.9M408.0 784.75h17.4M216.2 786.25h17.4M355.7 786.25h17.4M216.2 787.75h17.4M303.4 789.25h17.4M216.2 790.75h34.9M251.1 792.25h17.4M355.7 792.25h17.4M355.7 793.75h17.4M251.1 801.25h17.4M338.3 801.25h17.4M530.0 804.25h17.4M547.5 807.25h17.4M582.4 807.25h17.4M512.6 808.75h17.4M599.8 808.75h34.9M408.0 810.25h17.4M460.3 810.25h17.4M251.1 813.25h34.9M373.1 813.25h34.9M251.1 817.75h17.4M460.3 817.75h17.4M390.6 820.75h17.4M268.5 822.25h34.9M425.4 822.25h17.4M338.3 825.25h34.9M495.2 825.25h17.4M303.4 834.25h34.9M390.6 835.75h17.4M425.4 835.75h17.4M303.4 838.75h17.4M303.4 840.25h17.4M216.2 843.25h34.9M285.9 843.25h17.4M320.8 843.25h17.4M390.6 843.25h17.4M251.1 844.75h17.4M285.9 846.25h17.4M233.6 850.75h17.4M442.9 850.75h17.4M547.5 852.25h34.9M617.2 852.25h34.9M268.5 853.75h52.3M373.1 853.75h17.4M564.9 853.75h17.4M547.5 855.25h17.4M582.4 855.25h17.4M634.7 855.25h17.4M268.5 858.25h17.4M251.1 861.25h34.9M355.7 861.25h17.4M390.6 861.25h17.4M320.8 862.75h17.4M495.2 862.75h17.4M320.8 864.25h17.4M495.2 864.25h17.4M373.1 865.75h17.4M216.2 868.75h34.9M320.8 868.75h17.4M355.7 871.75h34.9M408.0 871.75h17.4M338.3 873.25h34.9M442.9 873.25h17.4M233.6 874.75h17.4M251.1 876.25h17.4M285.9 877.75h17.4M512.6 879.25h17.4M390.6 880.75h17.4M582.4 880.75h17.4M617.2 880.75h17.4M617.2 883.75h34.9M303.4 885.25h17.4M582.4 885.25h34.9M530.0 886.75h34.9M582.4 886.75h17.4M355.7 888.25h17.4M512.6 888.25h17.4M564.9 888.25h17.4M599.8 888.25h17.4M512.6 889.75h34.9M617.2 889.75h17.4M530.0 891.25h17.4M477.7 892.75h17.4M216.2 894.25h34.9M285.9 894.25h17.4M477.7 894.25h34.9M216.2 897.25h17.4M268.5 897.25h17.4M477.7 897.25h17.4M408.0 898.75h17.4M582.4 898.75h17.4M285.9 900.25h17.4M408.0 900.25h17.4M268.5 901.75h34.9M634.7 901.75h17.4M268.5 904.75h17.4M338.3 904.75h17.4M564.9 904.75h17.4M495.2 906.25h34.9M547.5 906.25h17.4M599.8 906.25h34.9M320.8 909.25h17.4M512.6 909.25h17.4M547.5 909.25h17.4M582.4 909.25h17.4M303.4 910.75h17.4M355.7 912.25h17.4M285.9 913.75h17.4M408.0 915.25h17.4M268.5 916.75h17.4M495.2 916.75h17.4" stroke="rgb(53,0,0)" stroke-width="1.5"/>
<path d="M408.0 630.25h17.4M233.6 631.75h17.4M425.4 631.75h17.4M251.1 633.25h17.4M216.2 634.75h17.4M285.9 634.75h17.4M373.1 634.75h17.4M442.9 639.25h17.4M251.1 640.75h17.4M251.1 645.25h17.4M216.2 646.75h17.4M216.2 648.25h52.3M460.3 648.25h17.4M564.9 651.25h17.4M251.1 652.75h17.4M285.9 652.75h17.4M338.3 654.25h17.4M251.1 657.25h17.4M442.9 660.25h17.4M303.4 669.25h17.4M338.3 670.75h17.4M216.2 672.25h34.9M390.6 678.25h17.4M233.6 682.75h17.4M373.1 682.75h17.4M216.2 684.25h17.4M285.9 684.25h17.4M233.6 685.75h17.4M617.2 687.25h17.4M564.9 688.75h17.4M530.0 690.25h17.4M564.9 690.25h17.4M617.2 690.25h17.4M617.2 691.75h17.4M530.0 693.25h69.7M617.2 693.25h17.4M408.0 694.75h52.3M390.6 696.25h17.4M408.0 699.25h34.9M530.0 699.25h34.9M408.0 700.75h17.4M442.9 702.25h17.4M408.0 706.75h17.4M512.6 706.75h17.4M547.5 706.75h17.4M582.4 706.75h17.4M442.9 708.25h17.4M512.6 708.25h34.9M599.8 709.75h17.4M390.6 711.25h17.4M564.9 711.25h17.4M599.8 711.25h52.3M547.5 712.75h17.4M582.4 712.75h17.4M634.7 712.75h17.4M495.2 718.75h17.4M564.9 720.25h17.4M617.2 720.25h34.9M355.7 721.75h17.4M442.9 721.75h17.4M512.6 721.75h34.9M216.2 724.75h52.3M216.2 726.25h34.9M268.5 727.75h17.4M233.6 729.25h17.4M285.9 729.25h17.4M477.7 729.25h17.4M233.6 730.75h17.4M268.5 730.75h17.4M303.4 732.25h17.4M216.2 736.75h17.4M268.5 736.75h17.4M320.8 739.75h17.4M373.1 741.25h17.4M425.4 741.25h17.4M530.0 744.25h17.4M582.4 744.25h17.4M373.1 748.75h52.3M442.9 748.75h17.4M233.6 750.25h34.9M285.9 750.25h17.4M425.4 751.75h17.4M460.3 753.25h17.4M442.9 757.75h17.4M442.9 760.75h17.4M530.0 763.75h34.9M582.4 763.75h17.4M634.7 763.75h17.4M442.9 765.25h17.4M530.0 766.75h17.4M582.4 766.75h17.4M617.2 766.75h34.9M303.4 768.25h17.4M355.7 768.25h52.3M216.2 775.75h34.9M251.1 777.25h17.4M408.0 778.75h34.9M634.7 778.75h17.4M512.6 781.75h17.4M233.6 786.25h34.9M285.9 786.25h17.4M495.2 787.75h17.4M251.1 789.25h17.4M285.9 790.75h17.4M442.9 792.25h17.4M251.1 793.75h34.9M268.5 795.25h17.4M216.2 796.75h17.4M268.5 796.75h17.4M564.9 802.75h17.4M617.2 802.75h17.4M599.8 804.25h17.4M530.0 807.25h17.4M634.7 807.25h17.4M285.9 813.25h17.4M355.7 813.25h17.4M477.7 813.25h17.4M460.3 814.75h17.4M285.9 816.25h17.4M338.3 820.75h17.4M408.0 840.25h34.9M425.4 843.25h17.4M268.5 844.75h17.4M442.9 844.75h17.4M303.4 846.25h34.9M320.8 847.75h17.4M320.8 852.25h17.4M582.4 852.25h17.4M599.8 853.75h17.4M251.1 855.25h17.4M442.9 855.25h17.4M285.9 858.25h17.4M285.9 861.25h17.4M460.3 861.25h17.4M355.7 862.75h17.4M408.0 862.75h17.4M460.3 862.75h34.9M390.6 865.75h17.4M425.4 865.75h17.4M303.4 867.25h34.9M303.4 868.75h17.4M390.6 871.75h17.4M442.9 871.75h17.4M268.5 876.25h17.4M495.2 879.25h17.4M530.0 880.75h17.4M495.2 882.25h17.4M268.5 883.75h17.4M530.0 883.75h17.4M582.4 883.75h34.9M512.6 886.75h17.4M303.4 888.25h17.4M338.3 888.25h17.4M355.7 889.75h17.4M408.0 889.75h17.4M564.9 889.75h34.9M634.7 889.75h17.4M251.1 894.25h34.9M338.3 897.25h17.4M233.6 898.75h34.9M251.1 900.25h17.4M390.6 900.25h17.4M251.1 901.75h17.4M530.0 901.75h34.9M617.2 901.75h17.4M512.6 904.75h34.9M442.9 907.75h17.4M442.9 909.25h17.4M530.0 909.25h17.4M320.8 910.75h17.4M442.9 916.75h17.4" stroke="rgb(67,0,0)" stroke-width="1.5"/>
<path d="M303.4 630.25h17.4M373.1 631.75h17.4M268.5 633.25h34.9M233.6 634.75h17.4M251.1 636.25h17.4M268.5 640.75h17.4M268.5 645.25h34.9M477.7 645.25h17.4M268.5 649.75h17.4M530.0 651.25h34.9M599.8 651.25h17.4M216.2 652.75h17.4M285.9 655.75h17.4M460.3 670.75h52.3M216.2 673.75h17.4M268.5 675.25h17.4M320.8 676.75h17.4M251.1 681.25h17.4M285.9 681.25h17.4M233.6 684.25h52.3M338.3 684.25h17.4M338.3 687.25h17.4M582.4 687.25h34.9M634.7 687.25h17.4M460.3 690.25h17.4M495.2 690.25h17.4M547.5 690.25h17.4M582.4 690.25h34.9M634.7 690.25h17.4M338.3 691.75h17.4M373.1 691.75h17.4M530.0 691.75h17.4M564.9 691.75h34.9M425.4 696.25h17.4M617.2 696.25h34.9M355.7 697.75h17.4M442.9 699.25h17.4M599.8 699.25h17.4M442.9 700.75h17.4M477.7 700.75h17.4M442.9 703.75h17.4M390.6 706.75h17.4M425.4 706.75h17.4M512.6 711.25h17.4M547.5 711.25h17.4M582.4 711.25h17.4M512.6 712.75h17.4M303.4 717.25h34.9M460.3 720.25h34.9M512.6 720.25h34.9M582.4 720.25h17.4M216.2 721.75h34.9M285.9 724.75h17.4M285.9 730.75h17.4M216.2 733.75h17.4M320.8 733.75h17.4M442.9 745.75h17.4M251.1 747.25h17.4M442.9 747.25h17.4M268.5 748.75h17.4M268.5 750.25h17.4M320.8 754.75h17.4M355.7 754.75h17.4M547.5 762.25h34.9M617.2 762.25h34.9M442.9 763.75h17.4M355.7 765.25h17.4M547.5 765.25h17.4M599.8 765.25h52.3M564.9 766.75h17.4M408.0 768.25h17.4M303.4 769.75h34.9M233.6 771.25h17.4M320.8 771.25h17.4M303.4 772.75h34.9M268.5 775.75h17.4M355.7 775.75h17.4M268.5 777.25h17.4M512.6 778.75h17.4M564.9 778.75h52.3M530.0 781.75h17.4M408.0 786.25h17.4M303.4 787.75h34.9M233.6 789.25h17.4M338.3 792.25h17.4M251.1 795.25h17.4M251.1 796.75h17.4M390.6 799.75h17.4M530.0 802.75h17.4M634.7 802.75h17.4M512.6 807.25h17.4M442.9 814.75h17.4M303.4 817.75h17.4M408.0 817.75h17.4M268.5 819.25h17.4M251.1 820.75h52.3M251.1 822.25h17.4M251.1 826.75h34.9M442.9 838.75h17.4M303.4 843.25h17.4M285.9 844.75h17.4M251.1 846.25h34.9M303.4 847.75h17.4M303.4 849.25h17.4M477.7 850.75h17.4M303.4 852.25h17.4M512.6 852.25h17.4M320.8 853.75h17.4M251.1 856.75h17.4M442.9 859.75h17.4M268.5 862.75h17.4M338.3 862.75h17.4M303.4 864.25h17.4M408.0 865.75h17.4M320.8 871.75h17.4M425.4 871.75h17.4M268.5 874.75h17.4M285.9 876.25h17.4M547.5 883.75h34.9M425.4 889.75h17.4M599.8 889.75h17.4M512.6 894.25h17.4M582.4 894.25h69.7M285.9 895.75h17.4M216.2 898.75h17.4M582.4 901.75h34.9M285.9 904.75h17.4M582.4 904.75h17.4M460.3 906.25h17.4M338.3 907.75h34.9M233.6 912.25h17.4M442.9 915.25h17.4M442.9 922.75h17.4" stroke="rgb(80,0,0)" stroke-width="1.5"/>
<path d="M216.2 631.75h17.4M408.0 631.75h17.4M268.5 636.25h17.4M285.9 640.75h17.4M285.9 643.75h17.4M251.1 649.75h17.4M285.9 649.75h17.4M303.4 664.75h17.4M320.8 666.25h17.4M425.4 667.75h17.4M268.5 670.75h17.4M251.1 673.75h17.4M216.2 675.25h17.4M303.4 676.75h17.4M320.8 679.75h17.4M460.3 682.75h17.4M460.3 685.75h17.4M530.0 687.25h52.3M251.1 688.75h52.3M512.6 690.25h17.4M355.7 691.75h17.4M408.0 691.75h17.4M512.6 691.75h17.4M599.8 696.25h17.4M303.4 702.25h34.9M530.0 711.25h17.4M599.8 720.25h17.4M251.1 727.75h17.4M285.9 727.75h17.4M268.5 729.25h17.4M425.4 729.25h17.4M320.8 732.25h17.4M285.9 747.25h17.4M251.1 748.75h17.4M285.9 748.75h17.4M303.4 756.25h34.9M512.6 762.25h17.4M599.8 762.25h17.4M530.0 765.25h17.4M338.3 768.25h17.4M285.9 777.25h17.4M530.0 778.75h34.9M617.2 778.75h17.4M285.9 793.75h17.4M285.9 795.25h17.4M233.6 796.75h17.4M285.9 796.75h17.4M442.9 799.75h17.4M547.5 802.75h17.4M582.4 802.75h34.9M460.3 813.25h17.4M303.4 814.75h17.4M268.5 817.75h34.9M495.2 819.25h17.4M355.7 820.75h17.4M285.9 826.75h17.4M338.3 829.75h34.9M303.4 841.75h17.4M216.2 856.75h17.4M285.9 856.75h17.4M285.9 862.75h17.4M442.9 862.75h17.4M442.9 864.25h34.9M233.6 873.25h17.4M216.2 877.75h17.4M268.5 877.75h17.4M303.4 886.75h34.9M320.8 888.25h17.4M547.5 889.75h17.4M285.9 892.75h17.4M530.0 894.25h17.4M564.9 894.25h17.4M251.1 895.75h17.4M285.9 898.75h17.4M512.6 901.75h17.4M564.9 901.75h17.4M442.9 903.25h17.4M460.3 907.75h17.4M216.2 912.25h17.4M251.1 916.75h17.4" stroke="rgb(93,0,0)" stroke-width="1.5"/>
<path d="M268.5 630.25h17.4M320.8 630.25h17.4M285.9 636.25h17.4M495.2 645.25h17.4M268.5 655.75h17.4M320.8 663.25h17.4M303.4 667.75h17.4M251.1 670.75h17.4M355.7 670.75h17.4M285.9 672.25h17.4M268.5 673.75h34.9M233.6 675.25h17.4M251.1 687.25h17.4M355.7 687.25h17.4M442.9 687.25h17.4M512.6 696.25h17.4M547.5 696.25h17.4M373.1 706.75h17.4M303.4 718.75h17.4M547.5 720.25h17.4M390.6 729.25h34.9M216.2 730.75h17.4M338.3 754.75h17.4M442.9 754.75h17.4M303.4 757.75h17.4M530.0 762.25h17.4M582.4 762.25h17.4M338.3 765.25h17.4M512.6 765.25h17.4M564.9 765.25h34.9M320.8 768.25h17.4M425.4 768.25h17.4M303.4 771.25h17.4M233.6 774.25h17.4M251.1 775.75h17.4M285.9 775.75h17.4M338.3 775.75h17.4M390.6 778.75h17.4M373.1 786.25h34.9M303.4 790.75h34.9M320.8 814.75h17.4M477.7 814.75h17.4M233.6 816.25h17.4M216.2 820.75h34.9M442.9 822.25h17.4M460.3 825.25h34.9M320.8 841.75h17.4M303.4 850.75h34.9M338.3 852.25h17.4M233.6 856.75h17.4M268.5 856.75h17.4M268.5 859.75h34.9M251.1 862.75h17.4M477.7 864.25h17.4M303.4 865.75h34.9M251.1 868.75h52.3M303.4 870.25h17.4M338.3 871.75h17.4M285.9 874.75h17.4M233.6 877.75h17.4M512.6 883.75h17.4M268.5 892.75h17.4M547.5 894.25h17.4M355.7 903.25h17.4M599.8 904.75h17.4M303.4 909.25h17.4M442.9 910.75h17.4" stroke="rgb(107,0,0)" stroke-width="1.5"/>
<path d="M251.1 630.25h17.4M285.9 630.25h17.4M303.4 636.25h17.4M268.5 639.25h34.9M251.1 642.25h52.3M251.1 643.75h17.4M251.1 655.75h17.4M303.4 663.25h17.4M268.5 667.75h17.4M285.9 670.75h17.4M303.4 679.75h17.4M355.7 681.25h17.4M251.1 685.75h17.4M285.9 685.75h17.4M285.9 687.25h17.4M512.6 687.25h17.4M530.0 696.25h17.4M564.9 696.25h34.9M442.9 711.25h17.4M320.8 718.75h17.4M442.9 718.75h17.4M495.2 720.25h17.4M442.9 723.25h17.4M268.5 747.25h17.4M320.8 753.25h17.4M320.8 757.75h17.4M216.2 774.25h17.4M216.2 789.25h17.4M442.9 790.75h17.4M495.2 814.75h17.4M216.2 816.25h17.4M251.1 825.25h52.3M442.9 829.75h17.4M320.8 849.25h17.4M355.7 852.25h17.4M251.1 859.75h17.4M320.8 870.25h17.4M216.2 873.25h17.4M251.1 874.75h17.4M442.9 888.25h17.4M251.1 892.75h17.4M268.5 898.75h17.4M338.3 903.25h17.4" stroke="rgb(120,0,0)" stroke-width="1.5"/>
<path d="M320.8 637.75h17.4M251.1 639.25h17.4M268.5 643.75h17.4M251.1 667.75h17.4M285.9 667.75h17.4M320.8 667.75h17.4M268.5 669.25h17.4M320.8 682.75h17.4M268.5 685.75h17.4M442.9 715.75h17.4M442.9 717.25h17.4M303.4 753.25h17.4M251.1 873.25h34.9M442.9 886.75h17.4M460.3 897.25h17.4" stroke="rgb(133,0,0)" stroke-width="1.5"/>
<path d="M303.4 637.75h17.4M320.8 664.75h17.4M251.1 669.25h17.4M251.1 672.25h34.9M268.5 687.25h17.4M442.9 843.25h17.4M442.9 849.25h17.4M285.9 873.25h17.4M442.9 919.75h17.4" stroke="rgb(147,0,0)" stroke-width="1.5"/>
<path d="M320.8 636.25h17.4M442.9 657.25h17.4M285.9 669.25h17.4M303.4 682.75h17.4M442.9 712.75h17.4M442.9 730.75h17.4M442.9 777.25h17.4" stroke="rgb(160,0,0)" stroke-width="1.5"/>
<path d="M224.70 566.30L224.70 623.00M241.80 566.30L241.80 623.00M224.70 566.30L233.25 566.30M233.25 566.30L241.80 566.30M277.10 602.80L277.10 622.70M294.70 602.80L294.70 622.70M277.10 602.80L285.90 602.80M285.90 602.80L294.70 602.80M259.10 584.20L259.10 622.70M285.90 584.20L285.90 602.80M259.10 584.20L272.50 584.20M272.50 584.20L285.90 584.20M233.95 549.40L233.95 565.60M272.90 549.40L272.90 583.80M233.95 549.40L253.42 549.40M253.42 549.40L272.90 549.40M311.90 599.50L311.90 623.00M328.70 599.50L328.70 623.00M311.90 599.50L320.30 599.50M320.30 599.50L328.70 599.50M346.90 578.20L346.90 623.00M364.20 578.20L364.20 623.00M346.90 578.20L355.55 578.20M355.55 578.20L364.20 578.20M416.80 603.30L416.80 622.70M434.40 603.30L434.40 622.70M416.80 603.30L425.60 603.30M425.60 603.30L434.40 603.30M399.90 592.40L399.90 622.70M425.60 592.40L425.60 603.30M400.30 592.00L413.15 592.00M413.15 592.00L426.00 592.00M382.30 582.00L382.30 622.70M413.15 581.60L413.15 592.00M382.70 581.60L397.92 581.60M397.92 581.60L413.15 581.60M356.25 551.10L356.25 577.50M397.92 551.10L397.92 581.60M356.25 551.10L377.09 551.10M377.09 551.10L397.92 551.10M321.00 525.50L321.00 598.80M377.09 525.50L377.09 551.10M321.00 525.50L349.04 525.50M349.04 525.50L377.09 525.50M485.80 589.00L485.80 623.00M502.80 589.00L502.80 623.00M485.80 589.00L494.30 589.00M494.30 589.00L502.80 589.00M469.30 567.00L469.30 623.00M494.30 567.00L494.30 589.00M469.30 567.00L481.80 567.00M481.80 567.00L494.30 567.00M452.30 553.70L452.30 623.00M481.80 553.70L481.80 567.00M452.30 553.70L467.05 553.70M467.05 553.70L481.80 553.70M521.50 591.90L521.50 622.70M538.70 591.90L538.70 622.70M521.50 591.90L530.10 591.90M530.10 591.90L538.70 591.90M556.10 593.90L556.10 622.70M574.00 593.90L574.00 622.70M556.10 593.90L565.05 593.90M565.05 593.90L574.00 593.90M590.70 601.70L590.70 622.70M608.00 601.70L608.00 622.70M590.70 601.70L599.35 601.70M599.35 601.70L608.00 601.70M625.10 594.70L625.10 622.70M643.10 594.70L643.10 622.70M625.10 594.70L634.10 594.70M634.10 594.70L643.10 594.70M599.75 587.30L599.75 601.30M634.50 587.30L634.50 594.30M599.75 587.30L617.12 587.30M617.12 587.30L634.50 587.30M565.45 569.70L565.45 593.50M617.12 569.70L617.12 587.30M565.45 569.70L591.29 569.70M591.29 569.70L617.12 569.70M530.50 560.80L530.50 591.50M591.29 560.80L591.29 569.70M530.50 560.80L560.89 560.80M560.89 560.80L591.29 560.80M467.75 533.50L467.75 553.00M560.89 533.50L560.89 560.80M467.75 533.50L514.32 533.50M514.32 533.50L560.89 533.50M349.04 493.60L349.04 525.50M514.32 493.60L514.32 533.50M349.04 493.60L431.68 493.60M431.68 493.60L514.32 493.60M253.42 466.00L253.42 549.40M431.68 466.00L431.68 493.60M253.42 466.00L342.55 466.00M342.55 466.00L431.68 466.00" stroke="#000" stroke-width="2" stroke-linecap="square" fill="none"/>
<g fill="none"><path d="M225.40 565.60L225.40 622.30" stroke="#CC33FF" stroke-width="2.4" stroke-linecap="square"/><path d="M242.50 565.60L242.50 622.30" stroke="#CC33FF" stroke-width="2.4" stroke-linecap="square"/><path d="M225.40 565.60L233.95 565.60" stroke="#CC33FF" stroke-width="2.4" stroke-linecap="square"/><path d="M233.95 565.60L242.50 565.60" stroke="#CC33FF" stroke-width="2.4" stroke-linecap="square"/><path d="M277.80 602.10L277.80 622.00" stroke="#CC33FF" stroke-width="2.3" stroke-dasharray="3 4"/><path d="M295.40 602.10L295.40 622.00" stroke="#CC33FF" stroke-width="2.3" stroke-dasharray="3 4"/><path d="M277.80 602.10L286.60 602.10" stroke="#CC33FF" stroke-width="2.3" stroke-dasharray="3 4"/><path d="M286.60 602.10L295.40 602.10" stroke="#CC33FF" stroke-width="2.3" stroke-dasharray="3 4"/><path d="M259.80 583.50L259.80 622.00" stroke="#CC33FF" stroke-width="2.3" stroke-dasharray="3 4"/><path d="M286.60 583.50L286.60 602.10" stroke="#CC33FF" stroke-width="2.3" stroke-dasharray="3 4"/><path d="M259.80 583.50L273.20 583.50" stroke="#CC33FF" stroke-width="2.3" stroke-dasharray="3 4"/><path d="M273.20 583.50L286.60 583.50" stroke="#CC33FF" stroke-width="2.3" stroke-dasharray="3 4"/><path d="M312.60 598.80L312.60 622.30" stroke="#FF0033" stroke-width="2.4" stroke-linecap="square"/><path d="M329.40 598.80L329.40 622.30" stroke="#FF0033" stroke-width="2.4" stroke-linecap="square"/><path d="M312.60 598.80L321.00 598.80" stroke="#FF0033" stroke-width="2.4" stroke-linecap="square"/><path d="M321.00 598.80L329.40 598.80" stroke="#FF0033" stroke-width="2.4" stroke-linecap="square"/><path d="M347.60 577.50L347.60 622.30" stroke="#55CC44" stroke-width="2.4" stroke-linecap="square"/><path d="M364.90 577.50L364.90 622.30" stroke="#55CC44" stroke-width="2.4" stroke-linecap="square"/><path d="M347.60 577.50L356.25 577.50" stroke="#55CC44" stroke-width="2.4" stroke-linecap="square"/><path d="M356.25 577.50L364.90 577.50" stroke="#55CC44" stroke-width="2.4" stroke-linecap="square"/><path d="M417.50 602.60L417.50 622.00" stroke="#FF0033" stroke-width="2.3" stroke-dasharray="3 4"/><path d="M435.10 602.60L435.10 622.00" stroke="#FF0033" stroke-width="2.3" stroke-dasharray="3 4"/><path d="M417.50 602.60L426.30 602.60" stroke="#FF0033" stroke-width="2.3" stroke-dasharray="3 4"/><path d="M426.30 602.60L435.10 602.60" stroke="#FF0033" stroke-width="2.3" stroke-dasharray="3 4"/><path d="M400.60 591.70L400.60 622.00" stroke="#55CC44" stroke-width="2.3" stroke-dasharray="3 4"/><path d="M426.30 591.70L426.30 602.60" stroke="#FF0033" stroke-width="2.3" stroke-dasharray="3 4"/><path d="M383.00 581.30L383.00 622.00" stroke="#FF0033" stroke-width="2.3" stroke-dasharray="3 4"/><path d="M486.50 588.30L486.50 622.30" stroke="#55CC44" stroke-width="2.4" stroke-linecap="square"/><path d="M503.50 588.30L503.50 622.30" stroke="#55CC44" stroke-width="2.4" stroke-linecap="square"/><path d="M486.50 588.30L495.00 588.30" stroke="#55CC44" stroke-width="2.4" stroke-linecap="square"/><path d="M495.00 588.30L503.50 588.30" stroke="#55CC44" stroke-width="2.4" stroke-linecap="square"/><path d="M470.00 566.30L470.00 622.30" stroke="#22DDEE" stroke-width="2.4" stroke-linecap="square"/><path d="M495.00 566.30L495.00 588.30" stroke="#55CC44" stroke-width="2.4" stroke-linecap="square"/><path d="M470.00 566.30L482.50 566.30" stroke="#22DDEE" stroke-width="2.4" stroke-linecap="square"/><path d="M482.50 566.30L495.00 566.30" stroke="#55CC44" stroke-width="2.4" stroke-linecap="square"/><path d="M453.00 553.00L453.00 622.30" stroke="#22DDEE" stroke-width="2.4" stroke-linecap="square"/><path d="M482.50 553.00L482.50 566.30" stroke="#22DDEE" stroke-width="2.4" stroke-linecap="square"/><path d="M453.00 553.00L467.75 553.00" stroke="#22DDEE" stroke-width="2.4" stroke-linecap="square"/><path d="M467.75 553.00L482.50 553.00" stroke="#22DDEE" stroke-width="2.4" stroke-linecap="square"/><path d="M522.20 591.20L522.20 622.00" stroke="#22DDEE" stroke-width="2.3" stroke-dasharray="3 4"/><path d="M539.40 591.20L539.40 622.00" stroke="#3399EE" stroke-width="2.3" stroke-dasharray="3 4"/><path d="M522.20 591.20L530.80 591.20" stroke="#22DDEE" stroke-width="2.3" stroke-dasharray="3 4"/><path d="M530.80 591.20L539.40 591.20" stroke="#3399EE" stroke-width="2.3" stroke-dasharray="3 4"/><path d="M556.80 593.20L556.80 622.00" stroke="#22DDEE" stroke-width="2.3" stroke-dasharray="3 4"/><path d="M574.70 593.20L574.70 622.00" stroke="#22DDEE" stroke-width="2.3" stroke-dasharray="3 4"/><path d="M556.80 593.20L565.75 593.20" stroke="#22DDEE" stroke-width="2.3" stroke-dasharray="3 4"/><path d="M565.75 593.20L574.70 593.20" stroke="#22DDEE" stroke-width="2.3" stroke-dasharray="3 4"/><path d="M591.40 601.00L591.40 622.00" stroke="#3399EE" stroke-width="2.3" stroke-dasharray="3 4"/><path d="M608.70 601.00L608.70 622.00" stroke="#3399EE" stroke-width="2.3" stroke-dasharray="3 4"/><path d="M591.40 601.00L600.05 601.00" stroke="#3399EE" stroke-width="2.3" stroke-dasharray="3 4"/><path d="M600.05 601.00L608.70 601.00" stroke="#3399EE" stroke-width="2.3" stroke-dasharray="3 4"/><path d="M625.80 594.00L625.80 622.00" stroke="#55CC44" stroke-width="2.3" stroke-dasharray="3 4"/><path d="M643.80 594.00L643.80 622.00" stroke="#55CC44" stroke-width="2.3" stroke-dasharray="3 4"/><path d="M625.80 594.00L634.80 594.00" stroke="#55CC44" stroke-width="2.3" stroke-dasharray="3 4"/><path d="M634.80 594.00L643.80 594.00" stroke="#55CC44" stroke-width="2.3" stroke-dasharray="3 4"/></g>
<path d="M198.5 628.2L198.5 628.6M198.5 628.2L208.9 628.2M198.5 628.6L208.9 628.6M197.3 629.1L197.3 629.5M197.3 629.1L208.9 629.1M197.3 629.5L208.9 629.5M199.3 629.9L199.3 630.3M199.3 629.9L208.9 629.9M199.3 630.3L208.9 630.3M196.3 629.3L196.3 630.1M196.3 629.3L197.3 629.3M196.3 630.1L199.3 630.1M193.4 628.4L193.4 629.7M193.4 628.4L198.5 628.4M193.4 629.7L196.3 629.7M192.4 629.1L192.4 630.8M192.4 629.1L193.4 629.1M192.4 630.8L208.9 630.8M198.0 631.1L198.0 631.5M198.0 631.1L208.9 631.1M198.0 631.5L208.9 631.5M198.3 631.9L198.3 632.3M198.3 631.9L208.9 631.9M198.3 632.3L208.9 632.3M194.7 631.3L194.7 632.1M194.7 631.3L198.0 631.3M194.7 632.1L198.3 632.1M191.4 629.9L191.4 631.7M191.4 629.9L192.4 629.9M191.4 631.7L194.7 631.7M199.2 632.6L199.2 633.0M199.2 632.6L208.9 632.6M199.2 633.0L208.9 633.0M190.4 630.8L190.4 632.8M190.4 630.8L191.4 630.8M190.4 632.8L199.2 632.8M198.1 633.3L198.1 633.7M198.1 633.3L208.9 633.3M198.1 633.7L208.9 633.7M189.4 631.8L189.4 633.5M189.4 631.8L190.4 631.8M189.4 633.5L198.1 633.5M198.0 634.0L198.0 634.3M198.0 634.0L208.9 634.0M198.0 634.3L208.9 634.3M198.5 634.6L198.5 634.8M198.5 634.6L208.9 634.6M198.5 634.8L208.9 634.8M196.8 634.1L196.8 634.7M196.8 634.1L198.0 634.1M196.8 634.7L198.5 634.7M188.4 632.6L188.4 634.4M188.4 632.6L189.4 632.6M188.4 634.4L196.8 634.4M199.1 635.2L199.1 635.5M199.1 635.2L208.9 635.2M199.1 635.5L208.9 635.5M199.1 635.9L199.1 636.3M199.1 635.9L208.9 635.9M199.1 636.3L208.9 636.3M198.1 635.3L198.1 636.1M198.1 635.3L199.1 635.3M198.1 636.1L199.1 636.1M200.1 636.6L200.1 636.9M200.1 636.6L208.9 636.6M200.1 636.9L208.9 636.9M194.1 635.7L194.1 636.7M194.1 635.7L198.1 635.7M194.1 636.7L200.1 636.7M200.0 637.2L200.0 637.6M200.0 637.2L208.9 637.2M200.0 637.6L208.9 637.6M199.2 637.9L199.2 638.3M199.2 637.9L208.9 637.9M199.2 638.3L208.9 638.3M198.2 637.4L198.2 638.1M198.2 637.4L200.0 637.4M198.2 638.1L199.2 638.1M198.2 638.7L198.2 639.1M198.2 638.7L208.9 638.7M198.2 639.1L208.9 639.1M198.2 639.6L198.2 640.0M198.2 639.6L208.9 639.6M198.2 640.0L208.9 640.0M197.2 638.9L197.2 639.8M197.2 638.9L198.2 638.9M197.2 639.8L198.2 639.8M193.5 637.7L193.5 639.4M193.5 637.7L198.2 637.7M193.5 639.4L197.2 639.4M197.9 640.5L197.9 640.9M197.9 640.5L208.9 640.5M197.9 640.9L208.9 640.9M197.7 641.4L197.7 641.8M197.7 641.4L208.9 641.4M197.7 641.8L208.9 641.8M196.4 640.7L196.4 641.6M196.4 640.7L197.9 640.7M196.4 641.6L197.7 641.6M192.1 638.6L192.1 641.2M192.1 638.6L193.5 638.6M192.1 641.2L196.4 641.2M197.9 642.3L197.9 642.7M197.9 642.3L208.9 642.3M197.9 642.7L208.9 642.7M189.7 639.9L189.7 642.5M189.7 639.9L192.1 639.9M189.7 642.5L197.9 642.5M200.4 643.0L200.4 643.3M200.4 643.0L208.9 643.0M200.4 643.3L208.9 643.3M199.2 643.6L199.2 644.0M199.2 643.6L208.9 643.6M199.2 644.0L208.9 644.0M198.1 644.3L198.1 644.7M198.1 644.3L208.9 644.3M198.1 644.7L208.9 644.7M197.1 643.8L197.1 644.5M197.1 643.8L199.2 643.8M197.1 644.5L198.1 644.5M196.1 643.1L196.1 644.2M196.1 643.1L200.4 643.1M196.1 644.2L197.1 644.2M194.3 643.6L194.3 645.1M194.3 643.6L196.1 643.6M194.3 645.1L208.9 645.1M199.3 645.4L199.3 645.7M199.3 645.4L208.9 645.4M199.3 645.7L208.9 645.7M199.5 646.0L199.5 646.3M199.5 646.0L208.9 646.0M199.5 646.3L208.9 646.3M197.7 645.5L197.7 646.1M197.7 645.5L199.3 645.5M197.7 646.1L199.5 646.1M192.5 644.4L192.5 645.8M192.5 644.4L194.3 644.4M192.5 645.8L197.7 645.8M197.6 646.7L197.6 647.1M197.6 646.7L208.9 646.7M197.6 647.1L208.9 647.1M198.5 647.6L198.5 648.1M198.5 647.6L208.9 647.6M198.5 648.1L208.9 648.1M194.7 646.9L194.7 647.8M194.7 646.9L197.6 646.9M194.7 647.8L198.5 647.8M191.2 645.1L191.2 647.4M191.2 645.1L192.5 645.1M191.2 647.4L194.7 647.4M198.4 648.5L198.4 648.8M198.4 648.5L208.9 648.5M198.4 648.8L208.9 648.8M198.4 649.2L198.4 649.5M198.4 649.2L208.9 649.2M198.4 649.5L208.9 649.5M197.4 648.7L197.4 649.4M197.4 648.7L198.4 648.7M197.4 649.4L198.4 649.4M199.2 649.9L199.2 650.2M199.2 649.9L208.9 649.9M199.2 650.2L208.9 650.2M195.7 649.0L195.7 650.0M195.7 649.0L197.4 649.0M195.7 650.0L199.2 650.0M196.9 650.6L196.9 651.0M196.9 650.6L208.9 650.6M196.9 651.0L208.9 651.0M192.7 649.5L192.7 650.8M192.7 649.5L195.7 649.5M192.7 650.8L196.9 650.8M190.1 646.2L190.1 650.2M190.1 646.2L191.2 646.2M190.1 650.2L192.7 650.2M189.1 648.2L189.1 651.5M189.1 648.2L190.1 648.2M189.1 651.5L208.9 651.5M198.8 651.9L198.8 652.2M198.8 651.9L208.9 651.9M198.8 652.2L208.9 652.2M198.8 652.6L198.8 652.9M198.8 652.6L208.9 652.6M198.8 652.9L208.9 652.9M197.8 652.1L197.8 652.7M197.8 652.1L198.8 652.1M197.8 652.7L198.8 652.7M186.2 649.8L186.2 652.4M186.2 649.8L189.1 649.8M186.2 652.4L197.8 652.4M181.2 641.2L181.2 651.1M181.2 641.2L189.7 641.2M181.2 651.1L186.2 651.1M180.2 636.2L180.2 646.1M180.2 636.2L194.1 636.2M180.2 646.1L181.2 646.1M198.9 653.3L198.9 653.6M198.9 653.3L208.9 653.3M198.9 653.6L208.9 653.6M198.9 654.0L198.9 654.4M198.9 654.0L208.9 654.0M198.9 654.4L208.9 654.4M197.9 653.5L197.9 654.2M197.9 653.5L198.9 653.5M197.9 654.2L198.9 654.2M198.0 654.8L198.0 655.1M198.0 654.8L208.9 654.8M198.0 655.1L208.9 655.1M199.1 655.5L199.1 655.9M199.1 655.5L208.9 655.5M199.1 655.9L208.9 655.9M195.8 655.0L195.8 655.7M195.8 655.0L198.0 655.0M195.8 655.7L199.1 655.7M199.6 656.2L199.6 656.7M199.6 656.2L208.9 656.2M199.6 656.7L208.9 656.7M198.6 657.1L198.6 657.5M198.6 657.1L208.9 657.1M198.6 657.5L208.9 657.5M197.6 656.4L197.6 657.3M197.6 656.4L199.6 656.4M197.6 657.3L198.6 657.3M196.6 656.9L196.6 657.9M196.6 656.9L197.6 656.9M196.6 657.9L208.9 657.9M192.8 655.3L192.8 657.4M192.8 655.3L195.8 655.3M192.8 657.4L196.6 657.4M198.9 658.3L198.9 658.8M198.9 658.3L208.9 658.3M198.9 658.8L208.9 658.8M198.6 659.3L198.6 659.8M198.6 659.3L208.9 659.3M198.6 659.8L208.9 659.8M197.6 658.5L197.6 659.5M197.6 658.5L198.9 658.5M197.6 659.5L198.6 659.5M197.6 660.2L197.6 660.7M197.6 660.2L208.9 660.2M197.6 660.7L208.9 660.7M198.8 661.1L198.8 661.6M198.8 661.1L208.9 661.1M198.8 661.6L208.9 661.6M196.3 660.5L196.3 661.3M196.3 660.5L197.6 660.5M196.3 661.3L198.8 661.3M192.8 659.0L192.8 660.9M192.8 659.0L197.6 659.0M192.8 660.9L196.3 660.9M191.8 656.3L191.8 660.0M191.8 656.3L192.8 656.3M191.8 660.0L192.8 660.0M199.2 661.9L199.2 662.2M199.2 661.9L208.9 661.9M199.2 662.2L208.9 662.2M190.8 658.2L190.8 662.1M190.8 658.2L191.8 658.2M190.8 662.1L199.2 662.1M199.3 662.5L199.3 662.8M199.3 662.5L208.9 662.5M199.3 662.8L208.9 662.8M189.8 660.1L189.8 662.6M189.8 660.1L190.8 660.1M189.8 662.6L199.3 662.6M188.8 653.8L188.8 661.4M188.8 653.8L197.9 653.8M188.8 661.4L189.8 661.4M199.9 663.1L199.9 663.4M199.9 663.1L208.9 663.1M199.9 663.4L208.9 663.4M198.1 663.7L198.1 664.0M198.1 663.7L208.9 663.7M198.1 664.0L208.9 664.0M197.1 663.2L197.1 663.8M197.1 663.2L199.9 663.2M197.1 663.8L198.1 663.8M187.8 657.6L187.8 663.5M187.8 657.6L188.8 657.6M187.8 663.5L197.1 663.5M177.3 641.2L177.3 660.6M177.3 641.2L180.2 641.2M177.3 660.6L187.8 660.6M176.3 633.5L176.3 650.9M176.3 633.5L188.4 633.5M176.3 650.9L177.3 650.9M197.3 664.4L197.3 664.8M197.3 664.4L208.9 664.4M197.3 664.8L208.9 664.8M199.3 665.3L199.3 665.8M199.3 665.3L208.9 665.3M199.3 665.8L208.9 665.8M194.3 664.6L194.3 665.6M194.3 664.6L197.3 664.6M194.3 665.6L199.3 665.6M175.3 642.2L175.3 665.1M175.3 642.2L176.3 642.2M175.3 665.1L194.3 665.1M199.5 666.4L199.5 666.7M199.5 666.4L208.9 666.4M199.5 666.7L208.9 666.7M199.5 667.0L199.5 667.4M199.5 667.0L208.9 667.0M199.5 667.4L208.9 667.4M198.5 666.6L198.5 667.2M198.5 666.6L199.5 666.6M198.5 667.2L199.5 667.2M198.1 667.7L198.1 668.1M198.1 667.7L208.9 667.7M198.1 668.1L208.9 668.1M197.1 666.9L197.1 667.9M197.1 666.9L198.5 666.9M197.1 667.9L198.1 667.9M198.8 668.6L198.8 669.1M198.8 668.6L208.9 668.6M198.8 669.1L208.9 669.1M195.8 667.4L195.8 668.8M195.8 667.4L197.1 667.4M195.8 668.8L198.8 668.8M194.4 666.2L194.4 668.1M194.4 666.2L208.9 666.2M194.4 668.1L195.8 668.1M199.1 669.5L199.1 670.0M199.1 669.5L208.9 669.5M199.1 670.0L208.9 670.0M193.4 667.1L193.4 669.8M193.4 667.1L194.4 667.1M193.4 669.8L199.1 669.8M174.3 653.6L174.3 668.5M174.3 653.6L175.3 653.6M174.3 668.5L193.4 668.5M198.5 670.4L198.5 670.7M198.5 670.4L208.9 670.4M198.5 670.7L208.9 670.7M199.4 671.0L199.4 671.4M199.4 671.0L208.9 671.0M199.4 671.4L208.9 671.4M199.4 671.9L199.4 672.3M199.4 671.9L208.9 671.9M199.4 672.3L208.9 672.3M198.4 671.2L198.4 672.1M198.4 671.2L199.4 671.2M198.4 672.1L199.4 672.1M197.4 671.6L197.4 672.7M197.4 671.6L198.4 671.6M197.4 672.7L208.9 672.7M196.4 672.2L196.4 673.2M196.4 672.2L197.4 672.2M196.4 673.2L208.9 673.2M195.4 670.5L195.4 672.7M195.4 670.5L198.5 670.5M195.4 672.7L196.4 672.7M197.9 673.6L197.9 674.1M197.9 673.6L208.9 673.6M197.9 674.1L208.9 674.1M194.4 671.6L194.4 673.8M194.4 671.6L195.4 671.6M194.4 673.8L197.9 673.8M193.4 672.7L193.4 674.6M193.4 672.7L194.4 672.7M193.4 674.6L208.9 674.6M196.8 675.1L196.8 675.5M196.8 675.1L208.9 675.1M196.8 675.5L208.9 675.5M192.4 673.6L192.4 675.3M192.4 673.6L193.4 673.6M192.4 675.3L196.8 675.3M197.9 675.9L197.9 676.3M197.9 675.9L208.9 675.9M197.9 676.3L208.9 676.3M200.1 676.6L200.1 676.9M200.1 676.6L208.9 676.6M200.1 676.9L208.9 676.9M199.9 677.2L199.9 677.6M199.9 677.2L208.9 677.2M199.9 677.6L208.9 677.6M198.2 676.7L198.2 677.4M198.2 676.7L200.1 676.7M198.2 677.4L199.9 677.4M199.6 677.9L199.6 678.2M199.6 677.9L208.9 677.9M199.6 678.2L208.9 678.2M197.1 677.1L197.1 678.1M197.1 677.1L198.2 677.1M197.1 678.1L199.6 678.1M192.7 676.1L192.7 677.6M192.7 676.1L197.9 676.1M192.7 677.6L197.1 677.6M186.7 674.5L186.7 676.8M186.7 674.5L192.4 674.5M186.7 676.8L192.7 676.8M167.7 661.0L167.7 675.6M167.7 661.0L174.3 661.0M167.7 675.6L186.7 675.6M199.3 678.9L199.3 679.3M199.3 678.9L208.9 678.9M199.3 679.3L208.9 679.3M198.7 679.8L198.7 680.3M198.7 679.8L208.9 679.8M198.7 680.3L208.9 680.3M198.7 680.8L198.7 681.2M198.7 680.8L208.9 680.8M198.7 681.2L208.9 681.2M196.9 680.1L196.9 681.0M196.9 680.1L198.7 680.1M196.9 681.0L198.7 681.0M195.9 679.1L195.9 680.5M195.9 679.1L199.3 679.1M195.9 680.5L196.9 680.5M193.8 679.8L193.8 681.7M193.8 679.8L195.9 679.8M193.8 681.7L208.9 681.7M192.8 678.5L192.8 680.8M192.8 678.5L208.9 678.5M192.8 680.8L193.8 680.8M198.0 682.5L198.0 683.0M198.0 682.5L208.9 682.5M198.0 683.0L208.9 683.0M200.0 683.3L200.0 683.6M200.0 683.3L208.9 683.3M200.0 683.6L208.9 683.6M200.0 683.8L200.0 684.1M200.0 683.8L208.9 683.8M200.0 684.1L208.9 684.1M199.0 683.4L199.0 684.0M199.0 683.4L200.0 683.4M199.0 684.0L200.0 684.0M199.4 684.4L199.4 684.8M199.4 684.4L208.9 684.4M199.4 684.8L208.9 684.8M199.4 685.2L199.4 685.6M199.4 685.2L208.9 685.2M199.4 685.6L208.9 685.6M198.4 684.6L198.4 685.4M198.4 684.6L199.4 684.6M198.4 685.4L199.4 685.4M197.4 683.7L197.4 685.0M197.4 683.7L199.0 683.7M197.4 685.0L198.4 685.0M196.4 682.8L196.4 684.4M196.4 682.8L198.0 682.8M196.4 684.4L197.4 684.4M195.4 682.1L195.4 683.6M195.4 682.1L208.9 682.1M195.4 683.6L196.4 683.6M194.4 682.8L194.4 685.9M194.4 682.8L195.4 682.8M194.4 685.9L208.9 685.9M199.5 686.2L199.5 686.5M199.5 686.2L208.9 686.2M199.5 686.5L208.9 686.5M199.2 686.8L199.2 687.1M199.2 686.8L208.9 686.8M199.2 687.1L208.9 687.1M196.6 686.3L196.6 686.9M196.6 686.3L199.5 686.3M196.6 686.9L199.2 686.9M191.5 684.4L191.5 686.6M191.5 684.4L194.4 684.4M191.5 686.6L196.6 686.6M199.1 687.4L199.1 687.8M199.1 687.4L208.9 687.4M199.1 687.8L208.9 687.8M198.2 688.3L198.2 688.7M198.2 688.3L208.9 688.3M198.2 688.7L208.9 688.7M195.9 687.6L195.9 688.5M195.9 687.6L199.1 687.6M195.9 688.5L198.2 688.5M187.7 685.5L187.7 688.0M187.7 685.5L191.5 685.5M187.7 688.0L195.9 688.0M184.9 679.6L184.9 686.8M184.9 679.6L192.8 679.6M184.9 686.8L187.7 686.8M199.5 689.0L199.5 689.3M199.5 689.0L208.9 689.0M199.5 689.3L208.9 689.3M200.1 689.6L200.1 689.9M200.1 689.6L208.9 689.6M200.1 689.9L208.9 689.9M198.5 689.2L198.5 689.7M198.5 689.2L199.5 689.2M198.5 689.7L200.1 689.7M182.8 683.2L182.8 689.4M182.8 683.2L184.9 683.2M182.8 689.4L198.5 689.4M164.3 668.3L164.3 686.3M164.3 668.3L167.7 668.3M164.3 686.3L182.8 686.3M199.5 690.2L199.5 690.5M199.5 690.2L208.9 690.2M199.5 690.5L208.9 690.5M199.5 690.8L199.5 691.1M199.5 690.8L208.9 690.8M199.5 691.1L208.9 691.1M195.4 690.3L195.4 691.0M195.4 690.3L199.5 690.3M195.4 691.0L199.5 691.0M200.4 691.4L200.4 691.7M200.4 691.4L208.9 691.4M200.4 691.7L208.9 691.7M198.9 691.9L198.9 692.2M198.9 691.9L208.9 691.9M198.9 692.2L208.9 692.2M197.9 691.5L197.9 692.1M197.9 691.5L200.4 691.5M197.9 692.1L198.9 692.1M198.5 692.5L198.5 692.8M198.5 692.5L208.9 692.5M198.5 692.8L208.9 692.8M199.2 693.1L199.2 693.5M199.2 693.1L208.9 693.1M199.2 693.5L208.9 693.5M197.5 692.6L197.5 693.3M197.5 692.6L198.5 692.6M197.5 693.3L199.2 693.3M196.0 691.8L196.0 693.0M196.0 691.8L197.9 691.8M196.0 693.0L197.5 693.0M198.2 693.8L198.2 694.2M198.2 693.8L208.9 693.8M198.2 694.2L208.9 694.2M198.8 694.5L198.8 694.9M198.8 694.5L208.9 694.5M198.8 694.9L208.9 694.9M196.7 694.0L196.7 694.7M196.7 694.0L198.2 694.0M196.7 694.7L198.8 694.7M193.6 692.4L193.6 694.3M193.6 692.4L196.0 692.4M193.6 694.3L196.7 694.3M192.6 690.6L192.6 693.4M192.6 690.6L195.4 690.6M192.6 693.4L193.6 693.4M198.1 695.3L198.1 695.8M198.1 695.3L208.9 695.3M198.1 695.8L208.9 695.8M198.1 696.3L198.1 696.8M198.1 696.3L208.9 696.3M198.1 696.8L208.9 696.8M197.1 695.6L197.1 696.5M197.1 695.6L198.1 695.6M197.1 696.5L198.1 696.5M188.6 692.0L188.6 696.1M188.6 692.0L192.6 692.0M188.6 696.1L197.1 696.1M199.9 697.2L199.9 697.4M199.9 697.2L208.9 697.2M199.9 697.4L208.9 697.4M199.9 697.7L199.9 698.0M199.9 697.7L208.9 697.7M199.9 698.0L208.9 698.0M198.9 697.3L198.9 697.8M198.9 697.3L199.9 697.3M198.9 697.8L199.9 697.8M187.6 694.0L187.6 697.6M187.6 694.0L188.6 694.0M187.6 697.6L198.9 697.6M197.9 698.3L197.9 698.6M197.9 698.3L208.9 698.3M197.9 698.6L208.9 698.6M198.0 698.9L198.0 699.2M198.0 698.9L208.9 698.9M198.0 699.2L208.9 699.2M196.5 698.4L196.5 699.0M196.5 698.4L197.9 698.4M196.5 699.0L198.0 699.0M186.6 695.8L186.6 698.7M186.6 695.8L187.6 695.8M186.6 698.7L196.5 698.7M198.8 699.6L198.8 700.0M198.8 699.6L208.9 699.6M198.8 700.0L208.9 700.0M198.8 700.4L198.8 700.9M198.8 700.4L208.9 700.4M198.8 700.9L208.9 700.9M197.8 699.8L197.8 700.7M197.8 699.8L198.8 699.8M197.8 700.7L198.8 700.7M196.8 700.2L196.8 701.2M196.8 700.2L197.8 700.2M196.8 701.2L208.9 701.2M197.4 701.6L197.4 701.9M197.4 701.6L208.9 701.6M197.4 701.9L208.9 701.9M193.7 700.7L193.7 701.7M193.7 700.7L196.8 700.7M193.7 701.7L197.4 701.7M198.8 702.2L198.8 702.5M198.8 702.2L208.9 702.2M198.8 702.5L208.9 702.5M192.4 701.2L192.4 702.4M192.4 701.2L193.7 701.2M192.4 702.4L198.8 702.4M199.5 702.8L199.5 703.1M199.5 702.8L208.9 702.8M199.5 703.1L208.9 703.1M198.9 703.4L198.9 703.7M198.9 703.4L208.9 703.4M198.9 703.7L208.9 703.7M196.5 703.0L196.5 703.5M196.5 703.0L199.5 703.0M196.5 703.5L198.9 703.5M189.7 701.8L189.7 703.3M189.7 701.8L192.4 701.8M189.7 703.3L196.5 703.3M199.2 704.2L199.2 704.7M199.2 704.2L208.9 704.2M199.2 704.7L208.9 704.7M198.1 705.2L198.1 705.6M198.1 705.2L208.9 705.2M198.1 705.6L208.9 705.6M197.1 704.5L197.1 705.4M197.1 704.5L199.2 704.5M197.1 705.4L198.1 705.4M196.1 703.9L196.1 704.9M196.1 703.9L208.9 703.9M196.1 704.9L197.1 704.9M187.4 702.5L187.4 704.4M187.4 702.5L189.7 702.5M187.4 704.4L196.1 704.4M200.1 706.0L200.1 706.3M200.1 706.0L208.9 706.0M200.1 706.3L208.9 706.3M198.7 706.6L198.7 707.1M198.7 706.6L208.9 706.6M198.7 707.1L208.9 707.1M198.7 707.6L198.7 708.0M198.7 707.6L208.9 707.6M198.7 708.0L208.9 708.0M197.7 706.9L197.7 707.8M197.7 706.9L198.7 706.9M197.7 707.8L198.7 707.8M196.7 706.1L196.7 707.3M196.7 706.1L200.1 706.1M196.7 707.3L197.7 707.3M195.7 706.7L195.7 708.4M195.7 706.7L196.7 706.7M195.7 708.4L208.9 708.4M186.1 703.5L186.1 707.6M186.1 703.5L187.4 703.5M186.1 707.6L195.7 707.6M198.7 708.8L198.7 709.1M198.7 708.8L208.9 708.8M198.7 709.1L208.9 709.1M198.4 709.4L198.4 709.7M198.4 709.4L208.9 709.4M198.4 709.7L208.9 709.7M195.9 708.9L195.9 709.5M195.9 708.9L198.7 708.9M195.9 709.5L198.4 709.5M199.2 710.0L199.2 710.2M199.2 710.0L208.9 710.0M199.2 710.2L208.9 710.2M199.9 710.5L199.9 710.9M199.9 710.5L208.9 710.5M199.9 710.9L208.9 710.9M199.9 711.3L199.9 711.7M199.9 711.3L208.9 711.3M199.9 711.7L208.9 711.7M198.9 710.7L198.9 711.5M198.9 710.7L199.9 710.7M198.9 711.5L199.9 711.5M197.9 710.1L197.9 711.1M197.9 710.1L199.2 710.1M197.9 711.1L198.9 711.1M196.9 710.6L196.9 712.1M196.9 710.6L197.9 710.6M196.9 712.1L208.9 712.1M195.9 711.3L195.9 712.4M195.9 711.3L196.9 711.3M195.9 712.4L208.9 712.4M194.9 709.2L194.9 711.8M194.9 709.2L195.9 709.2M194.9 711.8L195.9 711.8M183.7 705.5L183.7 710.5M183.7 705.5L186.1 705.5M183.7 710.5L194.9 710.5M197.7 712.7L197.7 713.2M197.7 712.7L208.9 712.7M197.7 713.2L208.9 713.2M199.3 713.7L199.3 714.2M199.3 713.7L208.9 713.7M199.3 714.2L208.9 714.2M196.7 713.0L196.7 713.9M196.7 713.0L197.7 713.0M196.7 713.9L199.3 713.9M195.7 713.4L195.7 714.5M195.7 713.4L196.7 713.4M195.7 714.5L208.9 714.5M182.7 708.0L182.7 713.9M182.7 708.0L183.7 708.0M182.7 713.9L195.7 713.9M200.1 714.7L200.1 714.9M200.1 714.7L208.9 714.7M200.1 714.9L208.9 714.9M200.2 715.2L200.2 715.5M200.2 715.2L208.9 715.2M200.2 715.5L208.9 715.5M196.7 714.8L196.7 715.4M196.7 714.8L200.1 714.8M196.7 715.4L200.2 715.4M199.3 715.8L199.3 716.1M199.3 715.8L208.9 715.8M199.3 716.1L208.9 716.1M199.3 716.4L199.3 716.7M199.3 716.4L208.9 716.4M199.3 716.7L208.9 716.7M198.3 716.0L198.3 716.6M198.3 716.0L199.3 716.0M198.3 716.6L199.3 716.6M195.7 715.1L195.7 716.3M195.7 715.1L196.7 715.1M195.7 716.3L198.3 716.3M194.7 715.7L194.7 717.0M194.7 715.7L195.7 715.7M194.7 717.0L208.9 717.0M198.2 717.4L198.2 717.8M198.2 717.4L208.9 717.4M198.2 717.8L208.9 717.8M198.4 718.3L198.4 718.7M198.4 718.3L208.9 718.3M198.4 718.7L208.9 718.7M197.2 717.6L197.2 718.5M197.2 717.6L198.2 717.6M197.2 718.5L198.4 718.5M196.2 718.1L196.2 719.1M196.2 718.1L197.2 718.1M196.2 719.1L208.9 719.1M193.7 716.4L193.7 718.6M193.7 716.4L194.7 716.4M193.7 718.6L196.2 718.6M192.7 717.5L192.7 719.5M192.7 717.5L193.7 717.5M192.7 719.5L208.9 719.5M199.1 719.8L199.1 720.1M199.1 719.8L208.9 719.8M199.1 720.1L208.9 720.1M191.7 718.5L191.7 720.0M191.7 718.5L192.7 718.5M191.7 720.0L199.1 720.0M199.6 720.4L199.6 720.7M199.6 720.4L208.9 720.4M199.6 720.7L208.9 720.7M199.8 721.0L199.8 721.4M199.8 721.0L208.9 721.0M199.8 721.4L208.9 721.4M197.9 720.5L197.9 721.2M197.9 720.5L199.6 720.5M197.9 721.2L199.8 721.2M190.7 719.2L190.7 720.9M190.7 719.2L191.7 719.2M190.7 720.9L197.9 720.9M176.8 711.0L176.8 720.0M176.8 711.0L182.7 711.0M176.8 720.0L190.7 720.0M174.0 697.3L174.0 715.5M174.0 697.3L186.6 697.3M174.0 715.5L176.8 715.5M199.4 721.8L199.4 722.2M199.4 721.8L208.9 721.8M199.4 722.2L208.9 722.2M198.7 722.7L198.7 723.2M198.7 722.7L208.9 722.7M198.7 723.2L208.9 723.2M197.7 722.0L197.7 722.9M197.7 722.0L199.4 722.0M197.7 722.9L198.7 722.9M197.8 723.5L197.8 723.8M197.8 723.5L208.9 723.5M197.8 723.8L208.9 723.8M196.7 722.5L196.7 723.7M196.7 722.5L197.7 722.5M196.7 723.7L197.8 723.7M200.1 724.1L200.1 724.4M200.1 724.1L208.9 724.1M200.1 724.4L208.9 724.4M195.7 723.1L195.7 724.2M195.7 723.1L196.7 723.1M195.7 724.2L200.1 724.2M198.8 724.7L198.8 725.1M198.8 724.7L208.9 724.7M198.8 725.1L208.9 725.1M199.7 725.5L199.7 725.9M199.7 725.5L208.9 725.5M199.7 725.9L208.9 725.9M197.7 724.9L197.7 725.7M197.7 724.9L198.8 724.9M197.7 725.7L199.7 725.7M192.4 723.6L192.4 725.3M192.4 723.6L195.7 723.6M192.4 725.3L197.7 725.3M197.9 726.3L197.9 726.8M197.9 726.3L208.9 726.3M197.9 726.8L208.9 726.8M198.5 727.3L198.5 727.8M198.5 727.3L208.9 727.3M198.5 727.8L208.9 727.8M196.6 726.5L196.6 727.5M196.6 726.5L197.9 726.5M196.6 727.5L198.5 727.5M191.4 724.5L191.4 727.0M191.4 724.5L192.4 724.5M191.4 727.0L196.6 727.0M152.4 706.4L152.4 725.7M152.4 706.4L174.0 706.4M152.4 725.7L191.4 725.7M148.7 679.5L164.3 679.5M148.7 717.5L152.4 717.5M148.7 679.5L148.7 717.5M198.5 728.2L198.5 728.7M198.5 728.2L208.9 728.2M198.5 728.7L208.9 728.7M198.8 729.1L198.8 729.6M198.8 729.1L208.9 729.1M198.8 729.6L208.9 729.6M199.4 730.0L199.4 730.4M199.4 730.0L208.9 730.0M199.4 730.4L208.9 730.4M194.5 729.3L194.5 730.2M194.5 729.3L198.8 729.3M194.5 730.2L199.4 730.2M192.9 728.5L192.9 729.8M192.9 728.5L198.5 728.5M192.9 729.8L194.5 729.8M191.9 729.1L191.9 730.7M191.9 729.1L192.9 729.1M191.9 730.7L208.9 730.7M197.9 731.0L197.9 731.3M197.9 731.0L208.9 731.0M197.9 731.3L208.9 731.3M199.4 731.6L199.4 731.8M199.4 731.6L208.9 731.6M199.4 731.8L208.9 731.8M196.4 731.2L196.4 731.7M196.4 731.2L197.9 731.2M196.4 731.7L199.4 731.7M198.8 732.6L198.8 733.0M198.8 732.6L208.9 732.6M198.8 733.0L208.9 733.0M198.8 733.4L198.8 733.8M198.8 733.4L208.9 733.4M198.8 733.8L208.9 733.8M197.8 732.8L197.8 733.6M197.8 732.8L198.8 732.8M197.8 733.6L198.8 733.6M196.8 732.2L196.8 733.2M196.8 732.2L208.9 732.2M196.8 733.2L197.8 733.2M198.5 734.2L198.5 734.6M198.5 734.2L208.9 734.2M198.5 734.6L208.9 734.6M195.2 732.7L195.2 734.4M195.2 732.7L196.8 732.7M195.2 734.4L198.5 734.4M194.2 731.4L194.2 733.6M194.2 731.4L196.4 731.4M194.2 733.6L195.2 733.6M193.1 732.5L193.1 734.9M193.1 732.5L194.2 732.5M193.1 734.9L208.9 734.9M189.2 729.9L189.2 733.7M189.2 729.9L191.9 729.9M189.2 733.7L193.1 733.7M198.9 735.3L198.9 735.7M198.9 735.3L208.9 735.3M198.9 735.7L208.9 735.7M198.9 736.1L198.9 736.5M198.9 736.1L208.9 736.1M198.9 736.5L208.9 736.5M197.9 735.5L197.9 736.3M197.9 735.5L198.9 735.5M197.9 736.3L198.9 736.3M200.4 736.8L200.4 737.1M200.4 736.8L208.9 736.8M200.4 737.1L208.9 737.1M195.3 735.9L195.3 737.0M195.3 735.9L197.9 735.9M195.3 737.0L200.4 737.0M194.3 736.4L194.3 737.3M194.3 736.4L195.3 736.4M194.3 737.3L208.9 737.3M193.3 736.9L193.3 737.5M193.3 736.9L194.3 736.9M193.3 737.5L208.9 737.5M198.6 737.9L198.6 738.4M198.6 737.9L208.9 737.9M198.6 738.4L208.9 738.4M192.3 737.2L192.3 738.1M192.3 737.2L193.3 737.2M192.3 738.1L198.6 738.1M188.2 731.8L188.2 737.7M188.2 731.8L189.2 731.8M188.2 737.7L192.3 737.7M199.7 738.9L199.7 739.3M199.7 738.9L208.9 738.9M199.7 739.3L208.9 739.3M199.7 739.8L199.7 740.3M199.7 739.8L208.9 739.8M199.7 740.3L208.9 740.3M198.7 739.1L198.7 740.0M198.7 739.1L199.7 739.1M198.7 740.0L199.7 740.0M198.7 740.7L198.7 741.1M198.7 740.7L208.9 740.7M198.7 741.1L208.9 741.1M197.7 739.6L197.7 740.9M197.7 739.6L198.7 739.6M197.7 740.9L198.7 740.9M196.7 740.2L196.7 741.5M196.7 740.2L197.7 740.2M196.7 741.5L208.9 741.5M198.1 741.9L198.1 742.3M198.1 741.9L208.9 741.9M198.1 742.3L208.9 742.3M195.7 740.9L195.7 742.1M195.7 740.9L196.7 740.9M195.7 742.1L198.1 742.1M194.7 741.5L194.7 742.7M194.7 741.5L195.7 741.5M194.7 742.7L208.9 742.7M196.9 743.0L196.9 743.5M196.9 743.0L208.9 743.0M196.9 743.5L208.9 743.5M193.0 742.1L193.0 743.2M193.0 742.1L194.7 742.1M193.0 743.2L196.9 743.2M186.3 734.7L186.3 742.7M186.3 734.7L188.2 734.7M186.3 742.7L193.0 742.7M197.3 743.9L197.3 744.3M197.3 743.9L208.9 743.9M197.3 744.3L208.9 744.3M199.1 744.7L199.1 745.1M199.1 744.7L208.9 744.7M199.1 745.1L208.9 745.1M199.1 745.6L199.1 746.1M199.1 745.6L208.9 745.6M199.1 746.1L208.9 746.1M198.1 744.9L198.1 745.8M198.1 744.9L199.1 744.9M198.1 745.8L199.1 745.8M197.1 745.4L197.1 746.5M197.1 745.4L198.1 745.4M197.1 746.5L208.9 746.5M196.1 746.0L196.1 746.9M196.1 746.0L197.1 746.0M196.1 746.9L208.9 746.9M195.1 744.1L195.1 746.4M195.1 744.1L197.3 744.1M195.1 746.4L196.1 746.4M198.8 747.3L198.8 747.8M198.8 747.3L208.9 747.3M198.8 747.8L208.9 747.8M192.8 745.3L192.8 747.6M192.8 745.3L195.1 745.3M192.8 747.6L198.8 747.6M196.8 748.3L196.8 748.7M196.8 748.3L208.9 748.3M196.8 748.7L208.9 748.7M198.4 749.1L198.4 749.5M198.4 749.1L208.9 749.1M198.4 749.5L208.9 749.5M194.4 748.5L194.4 749.3M194.4 748.5L196.8 748.5M194.4 749.3L198.4 749.3M196.3 749.9L196.3 750.4M196.3 749.9L208.9 749.9M196.3 750.4L208.9 750.4M198.7 750.8L198.7 751.3M198.7 750.8L208.9 750.8M198.7 751.3L208.9 751.3M194.9 750.1L194.9 751.0M194.9 750.1L196.3 750.1M194.9 751.0L198.7 751.0M198.1 751.7L198.1 752.2M198.1 751.7L208.9 751.7M198.1 752.2L208.9 752.2M198.1 752.6L198.1 753.1M198.1 752.6L208.9 752.6M198.1 753.1L208.9 753.1M197.1 752.0L197.1 752.9M197.1 752.0L198.1 752.0M197.1 752.9L198.1 752.9M193.2 750.6L193.2 752.4M193.2 750.6L194.9 750.6M193.2 752.4L197.1 752.4M192.2 748.9L192.2 751.5M192.2 748.9L194.4 748.9M192.2 751.5L193.2 751.5M199.0 753.9L199.0 754.4M199.0 753.9L208.9 753.9M199.0 754.4L208.9 754.4M199.0 754.8L199.0 755.3M199.0 754.8L208.9 754.8M199.0 755.3L208.9 755.3M198.0 754.1L198.0 755.1M198.0 754.1L199.0 754.1M198.0 755.1L199.0 755.1M197.0 753.5L197.0 754.6M197.0 753.5L208.9 753.5M197.0 754.6L198.0 754.6M191.2 750.2L191.2 754.0M191.2 750.2L192.2 750.2M191.2 754.0L197.0 754.0M198.9 755.8L198.9 756.1M198.9 755.8L208.9 755.8M198.9 756.1L208.9 756.1M198.9 756.5L198.9 756.8M198.9 756.5L208.9 756.5M198.9 756.8L208.9 756.8M197.9 755.9L197.9 756.7M197.9 755.9L198.9 755.9M197.9 756.7L198.9 756.7M199.0 757.2L199.0 757.5M199.0 757.2L208.9 757.2M199.0 757.5L208.9 757.5M196.1 756.3L196.1 757.4M196.1 756.3L197.9 756.3M196.1 757.4L199.0 757.4M183.4 752.1L183.4 756.8M183.4 752.1L191.2 752.1M183.4 756.8L196.1 756.8M182.3 746.4L182.3 754.5M182.3 746.4L192.8 746.4M182.3 754.5L183.4 754.5M172.7 738.7L172.7 750.4M172.7 738.7L186.3 738.7M172.7 750.4L182.3 750.4M199.1 757.9L199.1 758.4M199.1 757.9L208.9 757.9M199.1 758.4L208.9 758.4M198.5 758.8L198.5 759.2M198.5 758.8L208.9 758.8M198.5 759.2L208.9 759.2M197.5 758.1L197.5 759.0M197.5 758.1L199.1 758.1M197.5 759.0L198.5 759.0M200.1 759.6L200.1 759.9M200.1 759.6L208.9 759.6M200.1 759.9L208.9 759.9M199.8 760.2L199.8 760.5M199.8 760.2L208.9 760.2M199.8 760.5L208.9 760.5M198.8 759.7L198.8 760.3M198.8 759.7L200.1 759.7M198.8 760.3L199.8 760.3M196.5 758.6L196.5 760.0M196.5 758.6L197.5 758.6M196.5 760.0L198.8 760.0M195.5 759.3L195.5 760.8M195.5 759.3L196.5 759.3M195.5 760.8L208.9 760.8M199.9 761.2L199.9 761.5M199.9 761.2L208.9 761.2M199.9 761.5L208.9 761.5M198.1 761.9L198.1 762.3M198.1 761.9L208.9 761.9M198.1 762.3L208.9 762.3M197.0 761.4L197.0 762.1M197.0 761.4L199.9 761.4M197.0 762.1L198.1 762.1M191.5 760.1L191.5 761.7M191.5 760.1L195.5 760.1M191.5 761.7L197.0 761.7M198.2 762.9L198.2 763.4M198.2 762.9L208.9 762.9M198.2 763.4L208.9 763.4M198.2 763.9L198.2 764.3M198.2 763.9L208.9 763.9M198.2 764.3L208.9 764.3M197.2 763.2L197.2 764.1M197.2 763.2L198.2 763.2M197.2 764.1L198.2 764.1M193.6 762.6L193.6 763.6M193.6 762.6L208.9 762.6M193.6 763.6L197.2 763.6M189.7 760.9L189.7 763.1M189.7 760.9L191.5 760.9M189.7 763.1L193.6 763.1M197.4 764.8L197.4 765.2M197.4 764.8L208.9 764.8M197.4 765.2L208.9 765.2M197.5 765.6L197.5 766.1M197.5 765.6L208.9 765.6M197.5 766.1L208.9 766.1M196.4 765.0L196.4 765.8M196.4 765.0L197.4 765.0M196.4 765.8L197.5 765.8M196.9 766.5L196.9 766.9M196.9 766.5L208.9 766.5M196.9 766.9L208.9 766.9M195.4 765.4L195.4 766.7M195.4 765.4L196.4 765.4M195.4 766.7L196.9 766.7M188.7 762.0L188.7 766.1M188.7 762.0L189.7 762.0M188.7 766.1L195.4 766.1M198.3 767.4L198.3 767.8M198.3 767.4L208.9 767.4M198.3 767.8L208.9 767.8M187.7 764.0L187.7 767.6M187.7 764.0L188.7 764.0M187.7 767.6L198.3 767.6M199.6 768.2L199.6 768.4M199.6 768.2L208.9 768.2M199.6 768.4L208.9 768.4M199.6 768.7L199.6 769.0M199.6 768.7L208.9 768.7M199.6 769.0L208.9 769.0M198.6 768.3L198.6 768.8M198.6 768.3L199.6 768.3M198.6 768.8L199.6 768.8M185.8 765.8L185.8 768.6M185.8 765.8L187.7 765.8M185.8 768.6L198.6 768.6M198.4 769.4L198.4 769.8M198.4 769.4L208.9 769.4M198.4 769.8L208.9 769.8M198.0 770.3L198.0 770.6M198.0 770.3L208.9 770.3M198.0 770.6L208.9 770.6M198.1 771.0L198.1 771.3M198.1 771.0L208.9 771.0M198.1 771.3L208.9 771.3M197.0 770.4L197.0 771.2M197.0 770.4L198.0 770.4M197.0 771.2L198.1 771.2M196.0 769.6L196.0 770.8M196.0 769.6L198.4 769.6M196.0 770.8L197.0 770.8M195.0 770.2L195.0 771.7M195.0 770.2L196.0 770.2M195.0 771.7L208.9 771.7M184.8 767.2L184.8 770.9M184.8 767.2L185.8 767.2M184.8 770.9L195.0 770.9M166.9 744.6L166.9 769.1M166.9 744.6L172.7 744.6M166.9 769.1L184.8 769.1M199.3 772.0L199.3 772.3M199.3 772.0L208.9 772.0M199.3 772.3L208.9 772.3M199.3 772.7L199.3 773.0M199.3 772.7L208.9 772.7M199.3 773.0L208.9 773.0M198.3 772.2L198.3 772.8M198.3 772.2L199.3 772.2M198.3 772.8L199.3 772.8M199.9 773.4L199.9 773.8M199.9 773.4L208.9 773.4M199.9 773.8L208.9 773.8M199.9 774.2L199.9 774.6M199.9 774.2L208.9 774.2M199.9 774.6L208.9 774.6M198.9 773.6L198.9 774.4M198.9 773.6L199.9 773.6M198.9 774.4L199.9 774.4M197.9 774.0L197.9 775.1M197.9 774.0L198.9 774.0M197.9 775.1L208.9 775.1M196.9 774.5L196.9 775.4M196.9 774.5L197.9 774.5M196.9 775.4L208.9 775.4M195.9 775.0L195.9 775.6M195.9 775.0L196.9 775.0M195.9 775.6L208.9 775.6M194.4 775.3L194.4 775.8M194.4 775.3L195.9 775.3M194.4 775.8L208.9 775.8M193.4 772.5L193.4 775.6M193.4 772.5L198.3 772.5M193.4 775.6L194.4 775.6M199.6 776.1L199.6 776.3M199.6 776.1L208.9 776.1M199.6 776.3L208.9 776.3M199.6 776.6L199.6 776.9M199.6 776.6L208.9 776.6M199.6 776.9L208.9 776.9M198.6 776.2L198.6 776.7M198.6 776.2L199.6 776.2M198.6 776.7L199.6 776.7M190.7 774.0L190.7 776.5M190.7 774.0L193.4 774.0M190.7 776.5L198.6 776.5M154.7 756.8L154.7 775.3M154.7 756.8L166.9 756.8M154.7 775.3L190.7 775.3M198.2 777.6L198.2 778.0M198.2 777.6L208.9 777.6M198.2 778.0L208.9 778.0M198.2 778.3L198.2 778.7M198.2 778.3L208.9 778.3M198.2 778.7L208.9 778.7M197.2 777.8L197.2 778.5M197.2 777.8L198.2 777.8M197.2 778.5L198.2 778.5M198.5 779.0L198.5 779.3M198.5 779.0L208.9 779.0M198.5 779.3L208.9 779.3M196.2 778.2L196.2 779.2M196.2 778.2L197.2 778.2M196.2 779.2L198.5 779.2M199.8 779.7L199.8 780.0M199.8 779.7L208.9 779.7M199.8 780.0L208.9 780.0M195.2 778.7L195.2 779.8M195.2 778.7L196.2 778.7M195.2 779.8L199.8 779.8M200.0 780.4L200.0 780.7M200.0 780.4L208.9 780.4M200.0 780.7L208.9 780.7M199.5 781.0L199.5 781.3M199.5 781.0L208.9 781.0M199.5 781.3L208.9 781.3M198.5 780.5L198.5 781.1M198.5 780.5L200.0 780.5M198.5 781.1L199.5 781.1M198.6 781.6L198.6 782.0M198.6 781.6L208.9 781.6M198.6 782.0L208.9 782.0M199.1 782.4L199.1 782.8M199.1 782.4L208.9 782.4M199.1 782.8L208.9 782.8M197.6 781.8L197.6 782.6M197.6 781.8L198.6 781.8M197.6 782.6L199.1 782.6M196.2 780.8L196.2 782.2M196.2 780.8L198.5 780.8M196.2 782.2L197.6 782.2M198.1 783.1L198.1 783.4M198.1 783.1L208.9 783.1M198.1 783.4L208.9 783.4M200.2 783.8L200.2 784.1M200.2 783.8L208.9 783.8M200.2 784.1L208.9 784.1M196.2 783.3L196.2 783.9M196.2 783.3L198.1 783.3M196.2 783.9L200.2 783.9M195.2 781.5L195.2 783.6M195.2 781.5L196.2 781.5M195.2 783.6L196.2 783.6M194.2 782.6L194.2 784.4M194.2 782.6L195.2 782.6M194.2 784.4L208.9 784.4M193.2 783.5L193.2 784.8M193.2 783.5L194.2 783.5M193.2 784.8L208.9 784.8M189.9 779.3L189.9 784.1M189.9 779.3L195.2 779.3M189.9 784.1L193.2 784.1M156.0 777.2L156.0 781.7M156.0 777.2L208.9 777.2M156.0 781.7L189.9 781.7M135.2 771.9L154.7 771.9M156.0 777.2L156.0 782.4M135.2 782.4L156.0 782.4M135.2 771.9L135.2 782.4M127.3 698.9L148.7 698.9M127.3 777.1L135.2 777.1M127.3 698.9L127.3 777.1M198.5 785.2L198.5 785.6M198.5 785.2L208.9 785.2M198.5 785.6L208.9 785.6M199.3 786.0L199.3 786.5M199.3 786.0L208.9 786.0M199.3 786.5L208.9 786.5M197.5 785.4L197.5 786.2M197.5 785.4L198.5 785.4M197.5 786.2L199.3 786.2M196.5 785.8L196.5 786.9M196.5 785.8L197.5 785.8M196.5 786.9L208.9 786.9M198.9 787.2L198.9 787.6M198.9 787.2L208.9 787.2M198.9 787.6L208.9 787.6M198.9 788.0L198.9 788.3M198.9 788.0L208.9 788.0M198.9 788.3L208.9 788.3M197.3 787.4L197.3 788.1M197.3 787.4L198.9 787.4M197.3 788.1L198.9 788.1M195.5 786.3L195.5 787.8M195.5 786.3L196.5 786.3M195.5 787.8L197.3 787.8M198.6 788.6L198.6 788.9M198.6 788.6L208.9 788.6M198.6 788.9L208.9 788.9M199.0 789.2L199.0 789.4M199.0 789.2L208.9 789.2M199.0 789.4L208.9 789.4M197.6 788.8L197.6 789.3M197.6 788.8L198.6 788.8M197.6 789.3L199.0 789.3M199.2 789.7L199.2 790.0M199.2 789.7L208.9 789.7M199.2 790.0L208.9 790.0M198.6 790.3L198.6 790.5M198.6 790.3L208.9 790.3M198.6 790.5L208.9 790.5M197.6 789.8L197.6 790.4M197.6 789.8L199.2 789.8M197.6 790.4L198.6 790.4M196.6 789.0L196.6 790.1M196.6 789.0L197.6 789.0M196.6 790.1L197.6 790.1M195.6 789.6L195.6 790.9M195.6 789.6L196.6 789.6M195.6 790.9L208.9 790.9M197.6 791.2L197.6 791.6M197.6 791.2L208.9 791.2M197.6 791.6L208.9 791.6M194.6 790.2L194.6 791.4M194.6 790.2L195.6 790.2M194.6 791.4L197.6 791.4M191.7 790.8L191.7 791.8M191.7 790.8L194.6 790.8M191.7 791.8L208.9 791.8M198.5 792.1L198.5 792.5M198.5 792.1L208.9 792.1M198.5 792.5L208.9 792.5M197.6 792.9L197.6 793.3M197.6 792.9L208.9 792.9M197.6 793.3L208.9 793.3M196.2 792.3L196.2 793.1M196.2 792.3L198.5 792.3M196.2 793.1L197.6 793.1M199.4 793.6L199.4 794.0M199.4 793.6L208.9 793.6M199.4 794.0L208.9 794.0M193.2 792.7L193.2 793.8M193.2 792.7L196.2 792.7M193.2 793.8L199.4 793.8M190.7 791.3L190.7 793.3M190.7 791.3L191.7 791.3M190.7 793.3L193.2 793.3M189.7 787.1L189.7 792.3M189.7 787.1L195.5 787.1M189.7 792.3L190.7 792.3M199.4 794.3L199.4 794.5M199.4 794.3L208.9 794.3M199.4 794.5L208.9 794.5M188.7 789.7L188.7 794.4M188.7 789.7L189.7 789.7M188.7 794.4L199.4 794.4M198.3 794.9L198.3 795.4M198.3 794.9L208.9 794.9M198.3 795.4L208.9 795.4M199.1 795.8L199.1 796.3M199.1 795.8L208.9 795.8M199.1 796.3L208.9 796.3M197.2 795.1L197.2 796.1M197.2 795.1L198.3 795.1M197.2 796.1L199.1 796.1M199.6 796.8L199.6 797.2M199.6 796.8L208.9 796.8M199.6 797.2L208.9 797.2M197.8 797.6L197.8 798.0M197.8 797.6L208.9 797.6M197.8 798.0L208.9 798.0M196.8 797.0L196.8 797.8M196.8 797.0L199.6 797.0M196.8 797.8L197.8 797.8M192.3 795.6L192.3 797.4M192.3 795.6L197.2 795.6M192.3 797.4L196.8 797.4M187.0 792.0L187.0 796.5M187.0 792.0L188.7 792.0M187.0 796.5L192.3 796.5M197.3 798.5L197.3 798.9M197.3 798.5L208.9 798.5M197.3 798.9L208.9 798.9M186.0 794.3L186.0 798.7M186.0 794.3L187.0 794.3M186.0 798.7L197.3 798.7M199.3 799.2L199.3 799.5M199.3 799.2L208.9 799.2M199.3 799.5L208.9 799.5M200.2 799.8L200.2 800.0M200.2 799.8L208.9 799.8M200.2 800.0L208.9 800.0M196.4 799.4L196.4 799.9M196.4 799.4L199.3 799.4M196.4 799.9L200.2 799.9M185.0 796.5L185.0 799.6M185.0 796.5L186.0 796.5M185.0 799.6L196.4 799.6M197.6 800.4L197.6 800.8M197.6 800.4L208.9 800.4M197.6 800.8L208.9 800.8M199.1 801.2L199.1 801.6M199.1 801.2L208.9 801.2M199.1 801.6L208.9 801.6M196.6 800.6L196.6 801.4M196.6 800.6L197.6 800.6M196.6 801.4L199.1 801.4M182.0 798.1L182.0 801.0M182.0 798.1L185.0 798.1M182.0 801.0L196.6 801.0M198.3 802.1L198.3 802.5M198.3 802.1L208.9 802.1M198.3 802.5L208.9 802.5M198.3 803.0L198.3 803.4M198.3 803.0L208.9 803.0M198.3 803.4L208.9 803.4M197.3 802.3L197.3 803.2M197.3 802.3L198.3 802.3M197.3 803.2L198.3 803.2M197.7 803.8L197.7 804.0M197.7 803.8L208.9 803.8M197.7 804.0L208.9 804.0M196.3 802.7L196.3 803.9M196.3 802.7L197.3 802.7M196.3 803.9L197.7 803.9M195.2 803.3L195.2 804.3M195.2 803.3L196.3 803.3M195.2 804.3L208.9 804.3M199.4 804.6L199.4 804.9M199.4 804.6L208.9 804.6M199.4 804.9L208.9 804.9M200.0 805.3L200.0 805.6M200.0 805.3L208.9 805.3M200.0 805.6L208.9 805.6M198.4 804.8L198.4 805.4M198.4 804.8L199.4 804.8M198.4 805.4L200.0 805.4M192.1 803.8L192.1 805.1M192.1 803.8L195.2 803.8M192.1 805.1L198.4 805.1M178.6 799.5L178.6 804.5M178.6 799.5L182.0 799.5M178.6 804.5L192.1 804.5M199.3 805.9L199.3 806.3M199.3 805.9L208.9 805.9M199.3 806.3L208.9 806.3M199.8 806.6L199.8 806.9M199.8 806.6L208.9 806.6M199.8 806.9L208.9 806.9M196.8 806.1L196.8 806.8M196.8 806.1L199.3 806.1M196.8 806.8L199.8 806.8M198.3 807.2L198.3 807.5M198.3 807.2L208.9 807.2M198.3 807.5L208.9 807.5M198.1 807.8L198.1 808.0M198.1 807.8L208.9 807.8M198.1 808.0L208.9 808.0M197.1 807.4L197.1 807.9M197.1 807.4L198.3 807.4M197.1 807.9L198.1 807.9M195.7 806.4L195.7 807.6M195.7 806.4L196.8 806.4M195.7 807.6L197.1 807.6M198.3 808.4L198.3 808.8M198.3 808.4L208.9 808.4M198.3 808.8L208.9 808.8M198.3 809.3L198.3 809.7M198.3 809.3L208.9 809.3M198.3 809.7L208.9 809.7M197.3 808.6L197.3 809.5M197.3 808.6L198.3 808.6M197.3 809.5L198.3 809.5M196.3 809.1L196.3 810.2M196.3 809.1L197.3 809.1M196.3 810.2L208.9 810.2M191.8 807.0L191.8 809.6M191.8 807.0L195.7 807.0M191.8 809.6L196.3 809.6M198.4 810.7L198.4 811.2M198.4 810.7L208.9 810.7M198.4 811.2L208.9 811.2M199.0 811.6L199.0 812.1M199.0 811.6L208.9 811.6M199.0 812.1L208.9 812.1M197.4 810.9L197.4 811.8M197.4 810.9L198.4 810.9M197.4 811.8L199.0 811.8M189.2 808.3L189.2 811.4M189.2 808.3L191.8 808.3M189.2 811.4L197.4 811.4M198.5 812.5L198.5 813.0M198.5 812.5L208.9 812.5M198.5 813.0L208.9 813.0M198.5 813.5L198.5 814.0M198.5 813.5L208.9 813.5M198.5 814.0L208.9 814.0M197.5 812.8L197.5 813.7M197.5 812.8L198.5 812.8M197.5 813.7L198.5 813.7M200.1 814.3L200.1 814.6M200.1 814.3L208.9 814.3M200.1 814.6L208.9 814.6M196.5 813.2L196.5 814.4M196.5 813.2L197.5 813.2M196.5 814.4L200.1 814.4M198.6 814.9L198.6 815.3M198.6 814.9L208.9 814.9M198.6 815.3L208.9 815.3M194.7 813.8L194.7 815.1M194.7 813.8L196.5 813.8M194.7 815.1L198.6 815.1M199.0 815.7L199.0 816.0M199.0 815.7L208.9 815.7M199.0 816.0L208.9 816.0M198.0 816.3L198.0 816.6M198.0 816.3L208.9 816.3M198.0 816.6L208.9 816.6M196.8 815.8L196.8 816.4M196.8 815.8L199.0 815.8M196.8 816.4L198.0 816.4M192.5 814.5L192.5 816.1M192.5 814.5L194.7 814.5M192.5 816.1L196.8 816.1M199.4 816.9L199.4 817.2M199.4 816.9L208.9 816.9M199.4 817.2L208.9 817.2M198.1 817.5L198.1 817.9M198.1 817.5L208.9 817.5M198.1 817.9L208.9 817.9M197.0 817.1L197.0 817.7M197.0 817.1L199.4 817.1M197.0 817.7L198.1 817.7M190.8 815.3L190.8 817.4M190.8 815.3L192.5 815.3M190.8 817.4L197.0 817.4M197.9 818.2L197.9 818.5M197.9 818.2L208.9 818.2M197.9 818.5L208.9 818.5M189.8 816.3L189.8 818.3M189.8 816.3L190.8 816.3M189.8 818.3L197.9 818.3M187.7 809.9L187.7 817.3M187.7 809.9L189.2 809.9M187.7 817.3L189.8 817.3M199.4 818.8L199.4 819.1M199.4 818.8L208.9 818.8M199.4 819.1L208.9 819.1M199.3 819.4L199.3 819.7M199.3 819.4L208.9 819.4M199.3 819.7L208.9 819.7M198.3 818.9L198.3 819.5M198.3 818.9L199.4 818.9M198.3 819.5L199.3 819.5M198.9 820.0L198.9 820.3M198.9 820.0L208.9 820.0M198.9 820.3L208.9 820.3M198.1 820.6L198.1 820.9M198.1 820.6L208.9 820.6M198.1 820.9L208.9 820.9M197.1 820.1L197.1 820.7M197.1 820.1L198.9 820.1M197.1 820.7L198.1 820.7M195.5 819.2L195.5 820.4M195.5 819.2L198.3 819.2M195.5 820.4L197.1 820.4M183.4 813.6L183.4 819.8M183.4 813.6L187.7 813.6M183.4 819.8L195.5 819.8M199.4 821.3L199.4 821.7M199.4 821.3L208.9 821.3M199.4 821.7L208.9 821.7M199.4 822.2L199.4 822.6M199.4 822.2L208.9 822.2M199.4 822.6L208.9 822.6M198.4 821.5L198.4 822.4M198.4 821.5L199.4 821.5M198.4 822.4L199.4 822.4M197.4 821.9L197.4 823.0M197.4 821.9L198.4 821.9M197.4 823.0L208.9 823.0M199.4 823.2L199.4 823.5M199.4 823.2L208.9 823.2M199.4 823.5L208.9 823.5M200.2 823.8L200.2 824.1M200.2 823.8L208.9 823.8M200.2 824.1L208.9 824.1M197.9 823.4L197.9 823.9M197.9 823.4L199.4 823.4M197.9 823.9L200.2 823.9M196.8 824.4L196.8 824.8M196.8 824.4L208.9 824.4M196.8 824.8L208.9 824.8M198.0 825.2L198.0 825.6M198.0 825.2L208.9 825.2M198.0 825.6L208.9 825.6M198.3 825.9L198.3 826.3M198.3 825.9L208.9 825.9M198.3 826.3L208.9 826.3M197.0 825.4L197.0 826.1M197.0 825.4L198.0 825.4M197.0 826.1L198.3 826.1M195.8 824.6L195.8 825.8M195.8 824.6L196.8 824.6M195.8 825.8L197.0 825.8M199.1 826.7L199.1 827.1M199.1 826.7L208.9 826.7M199.1 827.1L208.9 827.1M194.2 825.2L194.2 826.9M194.2 825.2L195.8 825.2M194.2 826.9L199.1 826.9M196.9 827.5L196.9 827.9M196.9 827.5L208.9 827.5M196.9 827.9L208.9 827.9M198.3 828.6L198.3 829.1M198.3 828.6L208.9 828.6M198.3 829.1L208.9 829.1M198.9 829.6L198.9 830.1M198.9 829.6L208.9 829.6M198.9 830.1L208.9 830.1M195.8 828.9L195.8 829.9M195.8 828.9L198.3 828.9M195.8 829.9L198.9 829.9M194.3 828.3L194.3 829.4M194.3 828.3L208.9 828.3M194.3 829.4L195.8 829.4M192.6 827.7L192.6 828.8M192.6 827.7L196.9 827.7M192.6 828.8L194.3 828.8M191.6 826.0L191.6 828.3M191.6 826.0L194.2 826.0M191.6 828.3L192.6 828.3M198.9 830.5L198.9 830.9M198.9 830.5L208.9 830.5M198.9 830.9L208.9 830.9M198.5 831.3L198.5 831.6M198.5 831.3L208.9 831.3M198.5 831.6L208.9 831.6M197.5 830.7L197.5 831.4M197.5 830.7L198.9 830.7M197.5 831.4L198.5 831.4M190.6 827.2L190.6 831.1M190.6 827.2L191.6 827.2M190.6 831.1L197.5 831.1M196.8 832.0L196.8 832.5M196.8 832.0L208.9 832.0M196.8 832.5L208.9 832.5M197.7 833.0L197.7 833.4M197.7 833.0L208.9 833.0M197.7 833.4L208.9 833.4M195.0 832.3L195.0 833.2M195.0 832.3L196.8 832.3M195.0 833.2L197.7 833.2M188.4 829.1L188.4 832.7M188.4 829.1L190.6 829.1M188.4 832.7L195.0 832.7M187.4 823.6L187.4 830.9M187.4 823.6L197.9 823.6M187.4 830.9L188.4 830.9M197.3 833.9L197.3 834.3M197.3 833.9L208.9 833.9M197.3 834.3L208.9 834.3M197.3 834.7L197.3 835.1M197.3 834.7L208.9 834.7M197.3 835.1L208.9 835.1M196.3 834.1L196.3 834.9M196.3 834.1L197.3 834.1M196.3 834.9L197.3 834.9M197.8 835.5L197.8 835.9M197.8 835.5L208.9 835.5M197.8 835.9L208.9 835.9M195.3 834.5L195.3 835.7M195.3 834.5L196.3 834.5M195.3 835.7L197.8 835.7M186.4 827.3L186.4 835.1M186.4 827.3L187.4 827.3M186.4 835.1L195.3 835.1M185.4 822.5L185.4 831.2M185.4 822.5L197.4 822.5M185.4 831.2L186.4 831.2M199.6 836.3L199.6 836.7M199.6 836.3L208.9 836.3M199.6 836.7L208.9 836.7M184.4 826.8L184.4 836.5M184.4 826.8L185.4 826.8M184.4 836.5L199.6 836.5M199.4 837.1L199.4 837.4M199.4 837.1L208.9 837.1M199.4 837.4L208.9 837.4M197.0 837.8L197.0 838.1M197.0 837.8L208.9 837.8M197.0 838.1L208.9 838.1M195.8 837.3L195.8 838.0M195.8 837.3L199.4 837.3M195.8 838.0L197.0 838.0M183.4 831.7L183.4 837.6M183.4 831.7L184.4 831.7M183.4 837.6L195.8 837.6M198.2 838.8L198.2 839.2M198.2 838.8L208.9 838.8M198.2 839.2L208.9 839.2M199.2 839.7L199.2 840.1M199.2 839.7L208.9 839.7M199.2 840.1L208.9 840.1M197.2 839.0L197.2 839.9M197.2 839.0L198.2 839.0M197.2 839.9L199.2 839.9M195.9 839.5L195.9 840.5M195.9 839.5L197.2 839.5M195.9 840.5L208.9 840.5M194.9 838.4L194.9 840.0M194.9 838.4L208.9 838.4M194.9 840.0L195.9 840.0M182.4 834.6L182.4 839.2M182.4 834.6L183.4 834.6M182.4 839.2L194.9 839.2M198.8 841.3L198.8 841.8M198.8 841.3L208.9 841.3M198.8 841.8L208.9 841.8M198.8 842.3L198.8 842.7M198.8 842.3L208.9 842.3M198.8 842.7L208.9 842.7M197.8 841.6L197.8 842.5M197.8 841.6L198.8 841.6M197.8 842.5L198.8 842.5M196.8 840.9L196.8 842.0M196.8 840.9L208.9 840.9M196.8 842.0L197.8 842.0M178.6 836.9L178.6 841.5M178.6 836.9L182.4 836.9M178.6 841.5L196.8 841.5M170.2 816.7L170.2 839.2M170.2 816.7L183.4 816.7M170.2 839.2L178.6 839.2M197.4 843.2L197.4 843.7M197.4 843.2L208.9 843.2M197.4 843.7L208.9 843.7M199.5 844.1L199.5 844.5M199.5 844.1L208.9 844.1M199.5 844.5L208.9 844.5M199.5 845.0L199.5 845.4M199.5 845.0L208.9 845.0M199.5 845.4L208.9 845.4M198.5 844.3L198.5 845.2M198.5 844.3L199.5 844.3M198.5 845.2L199.5 845.2M198.5 845.8L198.5 846.1M198.5 845.8L208.9 845.8M198.5 846.1L208.9 846.1M197.5 844.8L197.5 845.9M197.5 844.8L198.5 844.8M197.5 845.9L198.5 845.9M196.5 845.3L196.5 846.5M196.5 845.3L197.5 845.3M196.5 846.5L208.9 846.5M197.7 846.9L197.7 847.3M197.7 846.9L208.9 846.9M197.7 847.3L208.9 847.3M195.5 845.9L195.5 847.1M195.5 845.9L196.5 845.9M195.5 847.1L197.7 847.1M194.5 846.5L194.5 847.8M194.5 846.5L195.5 846.5M194.5 847.8L208.9 847.8M193.5 843.4L193.5 847.2M193.5 843.4L197.4 843.4M193.5 847.2L194.5 847.2M198.7 848.2L198.7 848.5M198.7 848.2L208.9 848.2M198.7 848.5L208.9 848.5M192.5 845.3L192.5 848.3M192.5 845.3L193.5 845.3M192.5 848.3L198.7 848.3M197.5 848.9L197.5 849.3M197.5 848.9L208.9 848.9M197.5 849.3L208.9 849.3M199.2 849.8L199.2 850.3M199.2 849.8L208.9 849.8M199.2 850.3L208.9 850.3M196.5 849.1L196.5 850.0M196.5 849.1L197.5 849.1M196.5 850.0L199.2 850.0M191.5 846.8L191.5 849.6M191.5 846.8L192.5 846.8M191.5 849.6L196.5 849.6M198.1 850.8L198.1 851.3M198.1 850.8L208.9 850.8M198.1 851.3L208.9 851.3M198.9 851.7L198.9 852.1M198.9 851.7L208.9 851.7M198.9 852.1L208.9 852.1M198.9 852.5L198.9 852.8M198.9 852.5L208.9 852.5M198.9 852.8L208.9 852.8M197.9 851.9L197.9 852.7M197.9 851.9L198.9 851.9M197.9 852.7L198.9 852.7M196.3 851.0L196.3 852.3M196.3 851.0L198.1 851.0M196.3 852.3L197.9 852.3M200.1 853.2L200.1 853.6M200.1 853.2L208.9 853.2M200.1 853.6L208.9 853.6M193.2 851.7L193.2 853.4M193.2 851.7L196.3 851.7M193.2 853.4L200.1 853.4M187.4 848.2L187.4 852.5M187.4 848.2L191.5 848.2M187.4 852.5L193.2 852.5M166.6 828.0L166.6 850.4M166.6 828.0L170.2 828.0M166.6 850.4L187.4 850.4M198.1 853.9L198.1 854.2M198.1 853.9L208.9 853.9M198.1 854.2L208.9 854.2M198.8 854.6L198.8 854.9M198.8 854.6L208.9 854.6M198.8 854.9L208.9 854.9M195.6 854.1L195.6 854.7M195.6 854.1L198.1 854.1M195.6 854.7L198.8 854.7M197.6 855.3L197.6 855.7M197.6 855.3L208.9 855.3M197.6 855.7L208.9 855.7M199.0 856.2L199.0 856.5M199.0 856.2L208.9 856.2M199.0 856.5L208.9 856.5M199.0 856.9L199.0 857.3M199.0 856.9L208.9 856.9M199.0 857.3L208.9 857.3M198.0 856.3L198.0 857.1M198.0 856.3L199.0 856.3M198.0 857.1L199.0 857.1M196.6 855.5L196.6 856.7M196.6 855.5L197.6 855.5M196.6 856.7L198.0 856.7M195.6 856.1L195.6 857.8M195.6 856.1L196.6 856.1M195.6 857.8L208.9 857.8M194.6 854.4L194.6 856.9M194.6 854.4L195.6 854.4M194.6 856.9L195.6 856.9M165.6 839.2L165.6 855.7M165.6 839.2L166.6 839.2M165.6 855.7L194.6 855.7M153.9 802.0L153.9 847.4M153.9 802.0L178.6 802.0M153.9 847.4L165.6 847.4M199.9 858.2L199.9 858.6M199.9 858.2L208.9 858.2M199.9 858.6L208.9 858.6M199.9 858.9L199.9 859.3M199.9 858.9L208.9 858.9M199.9 859.3L208.9 859.3M198.9 858.4L198.9 859.1M198.9 858.4L199.9 858.4M198.9 859.1L199.9 859.1M199.5 859.6L199.5 859.9M199.5 859.6L208.9 859.6M199.5 859.9L208.9 859.9M197.9 858.8L197.9 859.8M197.9 858.8L198.9 858.8M197.9 859.8L199.5 859.8M196.9 859.3L196.9 860.2M196.9 859.3L197.9 859.3M196.9 860.2L208.9 860.2M194.6 859.7L194.6 860.6M194.6 859.7L196.9 859.7M194.6 860.6L208.9 860.6M198.3 861.1L198.3 861.5M198.3 861.1L208.9 861.1M198.3 861.5L208.9 861.5M199.4 861.9L199.4 862.4M199.4 861.9L208.9 861.9M199.4 862.4L208.9 862.4M197.3 861.3L197.3 862.1M197.3 861.3L198.3 861.3M197.3 862.1L199.4 862.1M198.7 862.7L198.7 863.1M198.7 862.7L208.9 862.7M198.7 863.1L208.9 863.1M196.2 861.7L196.2 862.9M196.2 861.7L197.3 861.7M196.2 862.9L198.7 862.9M195.2 862.3L195.2 863.4M195.2 862.3L196.2 862.3M195.2 863.4L208.9 863.4M194.2 862.9L194.2 863.8M194.2 862.9L195.2 862.9M194.2 863.8L208.9 863.8M200.0 864.1L200.0 864.4M200.0 864.1L208.9 864.1M200.0 864.4L208.9 864.4M198.7 864.7L198.7 864.9M198.7 864.7L208.9 864.7M198.7 864.9L208.9 864.9M197.6 864.3L197.6 864.8M197.6 864.3L200.0 864.3M197.6 864.8L198.7 864.8M193.2 863.3L193.2 864.5M193.2 863.3L194.2 863.3M193.2 864.5L197.6 864.5M197.0 865.3L197.0 865.7M197.0 865.3L208.9 865.3M197.0 865.7L208.9 865.7M197.6 866.0L197.6 866.4M197.6 866.0L208.9 866.0M197.6 866.4L208.9 866.4M194.8 865.5L194.8 866.2M194.8 865.5L197.0 865.5M194.8 866.2L197.6 866.2M192.2 863.9L192.2 865.8M192.2 863.9L193.2 863.9M192.2 865.8L194.8 865.8M199.3 866.9L199.3 867.3M199.3 866.9L208.9 866.9M199.3 867.3L208.9 867.3M197.9 867.7L197.9 868.2M197.9 867.7L208.9 867.7M197.9 868.2L208.9 868.2M198.1 868.7L198.1 869.1M198.1 868.7L208.9 868.7M198.1 869.1L208.9 869.1M196.9 868.0L196.9 868.9M196.9 868.0L197.9 868.0M196.9 868.9L198.1 868.9M195.9 867.1L195.9 868.4M195.9 867.1L199.3 867.1M195.9 868.4L196.9 868.4M189.7 864.9L189.7 867.8M189.7 864.9L192.2 864.9M189.7 867.8L195.9 867.8M198.4 869.6L198.4 870.0M198.4 869.6L208.9 869.6M198.4 870.0L208.9 870.0M198.3 870.4L198.3 870.9M198.3 870.4L208.9 870.4M198.3 870.9L208.9 870.9M197.2 869.8L197.2 870.6M197.2 869.8L198.4 869.8M197.2 870.6L198.3 870.6M188.7 866.3L188.7 870.2M188.7 866.3L189.7 866.3M188.7 870.2L197.2 870.2M187.7 860.2L187.7 868.3M187.7 860.2L194.6 860.2M187.7 868.3L188.7 868.3M199.5 871.2L199.5 871.5M199.5 871.2L208.9 871.2M199.5 871.5L208.9 871.5M199.5 871.7L199.5 872.0M199.5 871.7L208.9 871.7M199.5 872.0L208.9 872.0M198.5 871.3L198.5 871.8M198.5 871.3L199.5 871.3M198.5 871.8L199.5 871.8M186.7 864.2L186.7 871.6M186.7 864.2L187.7 864.2M186.7 871.6L198.5 871.6M198.9 872.5L198.9 873.0M198.9 872.5L208.9 872.5M198.9 873.0L208.9 873.0M197.6 873.5L197.6 874.0M197.6 873.5L208.9 873.5M197.6 874.0L208.9 874.0M196.6 872.7L196.6 873.7M196.6 872.7L198.9 872.7M196.6 873.7L197.6 873.7M194.2 872.2L194.2 873.2M194.2 872.2L208.9 872.2M194.2 873.2L196.6 873.2M199.4 874.4L199.4 874.8M199.4 874.4L208.9 874.4M199.4 874.8L208.9 874.8M199.1 875.1L199.1 875.5M199.1 875.1L208.9 875.1M199.1 875.5L208.9 875.5M197.4 874.6L197.4 875.3M197.4 874.6L199.4 874.6M197.4 875.3L199.1 875.3M198.2 875.9L198.2 876.4M198.2 875.9L208.9 875.9M198.2 876.4L208.9 876.4M198.2 876.9L198.2 877.4M198.2 876.9L208.9 876.9M198.2 877.4L208.9 877.4M197.2 876.2L197.2 877.1M197.2 876.2L198.2 876.2M197.2 877.1L198.2 877.1M195.4 875.0L195.4 876.7M195.4 875.0L197.4 875.0M195.4 876.7L197.2 876.7M198.6 877.9L198.6 878.3M198.6 877.9L208.9 877.9M198.6 878.3L208.9 878.3M191.8 875.8L191.8 878.1M191.8 875.8L195.4 875.8M191.8 878.1L198.6 878.1M190.8 872.7L190.8 877.0M190.8 872.7L194.2 872.7M190.8 877.0L191.8 877.0M197.1 878.8L197.1 879.2M197.1 878.8L208.9 878.8M197.1 879.2L208.9 879.2M199.3 879.6L199.3 880.0M199.3 879.6L208.9 879.6M199.3 880.0L208.9 880.0M196.0 879.0L196.0 879.8M196.0 879.0L197.1 879.0M196.0 879.8L199.3 879.8M188.8 874.8L188.8 879.4M188.8 874.8L190.8 874.8M188.8 879.4L196.0 879.4M198.3 880.4L198.3 880.9M198.3 880.4L208.9 880.4M198.3 880.9L208.9 880.9M198.4 881.4L198.4 881.8M198.4 881.4L208.9 881.4M198.4 881.8L208.9 881.8M197.3 880.7L197.3 881.6M197.3 880.7L198.3 880.7M197.3 881.6L198.4 881.6M187.8 877.1L187.8 881.1M187.8 877.1L188.8 877.1M187.8 881.1L197.3 881.1M198.7 882.2L198.7 882.6M198.7 882.2L208.9 882.2M198.7 882.6L208.9 882.6M198.7 883.0L198.7 883.4M198.7 883.0L208.9 883.0M198.7 883.4L208.9 883.4M197.7 882.4L197.7 883.2M197.7 882.4L198.7 882.4M197.7 883.2L198.7 883.2M199.0 883.7L199.0 884.1M199.0 883.7L208.9 883.7M199.0 884.1L208.9 884.1M194.1 882.8L194.1 883.9M194.1 882.8L197.7 882.8M194.1 883.9L199.0 883.9M197.1 884.4L197.1 884.8M197.1 884.4L208.9 884.4M197.1 884.8L208.9 884.8M199.1 885.1L199.1 885.4M199.1 885.1L208.9 885.1M199.1 885.4L208.9 885.4M197.9 885.7L197.9 886.1M197.9 885.7L208.9 885.7M197.9 886.1L208.9 886.1M195.3 885.3L195.3 885.9M195.3 885.3L199.1 885.3M195.3 885.9L197.9 885.9M197.1 886.5L197.1 887.0M197.1 886.5L208.9 886.5M197.1 887.0L208.9 887.0M196.7 887.4L196.7 887.9M196.7 887.4L208.9 887.4M196.7 887.9L208.9 887.9M199.3 888.4L199.3 888.8M199.3 888.4L208.9 888.4M199.3 888.8L208.9 888.8M195.7 887.7L195.7 888.6M195.7 887.7L196.7 887.7M195.7 888.6L199.3 888.6M194.5 886.7L194.5 888.1M194.5 886.7L197.1 886.7M194.5 888.1L195.7 888.1M193.5 885.6L193.5 887.4M193.5 885.6L195.3 885.6M193.5 887.4L194.5 887.4M198.6 889.3L198.6 889.8M198.6 889.3L208.9 889.3M198.6 889.8L208.9 889.8M192.5 886.5L192.5 889.5M192.5 886.5L193.5 886.5M192.5 889.5L198.6 889.5M200.2 890.2L200.2 890.5M200.2 890.2L208.9 890.2M200.2 890.5L208.9 890.5M190.9 888.0L190.9 890.3M190.9 888.0L192.5 888.0M190.9 890.3L200.2 890.3M189.9 884.6L189.9 889.2M189.9 884.6L197.1 884.6M189.9 889.2L190.9 889.2M198.0 890.9L198.0 891.3M198.0 890.9L208.9 890.9M198.0 891.3L208.9 891.3M199.0 891.7L199.0 892.2M199.0 891.7L208.9 891.7M199.0 892.2L208.9 892.2M195.2 891.1L195.2 891.9M195.2 891.1L198.0 891.1M195.2 891.9L199.0 891.9M188.4 886.9L188.4 891.5M188.4 886.9L189.9 886.9M188.4 891.5L195.2 891.5M197.0 892.6L197.0 893.1M197.0 892.6L208.9 892.6M197.0 893.1L208.9 893.1M199.5 893.5L199.5 894.0M199.5 893.5L208.9 893.5M199.5 894.0L208.9 894.0M194.8 892.8L194.8 893.8M194.8 892.8L197.0 892.8M194.8 893.8L199.5 893.8M187.4 889.2L187.4 893.3M187.4 889.2L188.4 889.2M187.4 893.3L194.8 893.3M184.8 883.4L184.8 891.3M184.8 883.4L194.1 883.4M184.8 891.3L187.4 891.3M180.9 879.1L180.9 887.3M180.9 879.1L187.8 879.1M180.9 887.3L184.8 887.3M199.1 894.4L199.1 894.9M199.1 894.4L208.9 894.4M199.1 894.9L208.9 894.9M199.4 895.3L199.4 895.7M199.4 895.3L208.9 895.3M199.4 895.7L208.9 895.7M196.1 894.7L196.1 895.5M196.1 894.7L199.1 894.7M196.1 895.5L199.4 895.5M179.9 883.2L179.9 895.1M179.9 883.2L180.9 883.2M179.9 895.1L196.1 895.1M198.3 896.1L198.3 896.6M198.3 896.1L208.9 896.1M198.3 896.6L208.9 896.6M198.6 897.0L198.6 897.5M198.6 897.0L208.9 897.0M198.6 897.5L208.9 897.5M197.3 896.3L197.3 897.3M197.3 896.3L198.3 896.3M197.3 897.3L198.6 897.3M195.5 896.8L195.5 897.9M195.5 896.8L197.3 896.8M195.5 897.9L208.9 897.9M178.5 889.1L178.5 897.3M178.5 889.1L179.9 889.1M178.5 897.3L195.5 897.3M169.8 867.9L169.8 893.2M169.8 867.9L186.7 867.9M169.8 893.2L178.5 893.2M197.9 898.3L197.9 898.7M197.9 898.3L208.9 898.3M197.9 898.7L208.9 898.7M197.9 899.1L197.9 899.5M197.9 899.1L208.9 899.1M197.9 899.5L208.9 899.5M196.9 898.5L196.9 899.3M196.9 898.5L197.9 898.5M196.9 899.3L197.9 899.3M199.1 900.0L199.1 900.4M199.1 900.0L208.9 900.0M199.1 900.4L208.9 900.4M195.9 898.9L195.9 900.2M195.9 898.9L196.9 898.9M195.9 900.2L199.1 900.2M194.9 899.5L194.9 900.8M194.9 899.5L195.9 899.5M194.9 900.8L208.9 900.8M193.9 900.1L193.9 901.2M193.9 900.1L194.9 900.1M193.9 901.2L208.9 901.2M198.0 901.6L198.0 902.1M198.0 901.6L208.9 901.6M198.0 902.1L208.9 902.1M199.0 902.5L199.0 903.0M199.0 902.5L208.9 902.5M199.0 903.0L208.9 903.0M196.7 901.8L196.7 902.7M196.7 901.8L198.0 901.8M196.7 902.7L199.0 902.7M195.7 902.3L195.7 903.4M195.7 902.3L196.7 902.3M195.7 903.4L208.9 903.4M199.5 903.7L199.5 904.0M199.5 903.7L208.9 903.7M199.5 904.0L208.9 904.0M194.7 902.8L194.7 903.8M194.7 902.8L195.7 902.8M194.7 903.8L199.5 903.8M199.4 904.3L199.4 904.8M199.4 904.3L208.9 904.3M199.4 904.8L208.9 904.8M193.7 903.3L193.7 904.6M193.7 903.3L194.7 903.3M193.7 904.6L199.4 904.6M191.2 900.7L191.2 904.0M191.2 900.7L193.9 900.7M191.2 904.0L193.7 904.0M148.5 880.6L148.5 902.3M148.5 880.6L169.8 880.6M148.5 902.3L191.2 902.3M146.2 842.4L153.9 842.4M146.2 896.3L148.5 896.3M146.2 842.4L146.2 896.3M100.7 737.0L127.3 737.0M100.7 868.9L146.2 868.9M100.7 737.0L100.7 868.9M200.0 905.2L200.0 905.6M200.0 905.2L208.9 905.2M200.0 905.6L208.9 905.6M198.8 906.0L198.8 906.5M198.8 906.0L208.9 906.0M198.8 906.5L208.9 906.5M198.8 907.0L198.8 907.4M198.8 907.0L208.9 907.0M198.8 907.4L208.9 907.4M197.8 906.2L197.8 907.2M197.8 906.2L198.8 906.2M197.8 907.2L198.8 907.2M196.8 906.7L196.8 907.8M196.8 906.7L197.8 906.7M196.8 907.8L208.9 907.8M195.8 905.4L195.8 907.3M195.8 905.4L200.0 905.4M195.8 907.3L196.8 907.3M200.4 908.1L200.4 908.3M200.4 908.1L208.9 908.1M200.4 908.3L208.9 908.3M199.5 908.6L199.5 908.9M199.5 908.6L208.9 908.6M199.5 908.9L208.9 908.9M197.5 908.2L197.5 908.7M197.5 908.2L200.4 908.2M197.5 908.7L199.5 908.7M194.8 906.3L194.8 908.5M194.8 906.3L195.8 906.3M194.8 908.5L197.5 908.5M193.8 907.4L193.8 909.1M193.8 907.4L194.8 907.4M193.8 909.1L208.9 909.1M198.8 909.4L198.8 909.8M198.8 909.4L208.9 909.4M198.8 909.8L208.9 909.8M199.2 910.2L199.2 910.6M199.2 910.2L208.9 910.2M199.2 910.6L208.9 910.6M197.8 909.6L197.8 910.4M197.8 909.6L198.8 909.6M197.8 910.4L199.2 910.4M197.9 911.0L197.9 911.4M197.9 911.0L208.9 911.0M197.9 911.4L208.9 911.4M195.7 910.0L195.7 911.2M195.7 910.0L197.8 910.0M195.7 911.2L197.9 911.2M189.8 908.3L189.8 910.6M189.8 908.3L193.8 908.3M189.8 910.6L195.7 910.6M198.8 912.2L198.8 912.6M198.8 912.2L208.9 912.2M198.8 912.6L208.9 912.6M198.8 913.0L198.8 913.4M198.8 913.0L208.9 913.0M198.8 913.4L208.9 913.4M197.8 912.4L197.8 913.2M197.8 912.4L198.8 912.4M197.8 913.2L198.8 913.2M196.8 911.8L196.8 912.8M196.8 911.8L208.9 911.8M196.8 912.8L197.8 912.8M197.0 913.8L197.0 914.2M197.0 913.8L208.9 913.8M197.0 914.2L208.9 914.2M195.8 912.3L195.8 914.0M195.8 912.3L196.8 912.3M195.8 914.0L197.0 914.0M192.9 913.1L192.9 914.4M192.9 913.1L195.8 913.1M192.9 914.4L208.9 914.4M188.8 909.4L188.8 913.8M188.8 909.4L189.8 909.4M188.8 913.8L192.9 913.8M199.1 914.7L199.1 915.1M199.1 914.7L208.9 914.7M199.1 915.1L208.9 915.1M199.6 915.4L199.6 915.8M199.6 915.4L208.9 915.4M199.6 915.8L208.9 915.8M196.1 914.9L196.1 915.6M196.1 914.9L199.1 914.9M196.1 915.6L199.6 915.6M172.0 911.6L172.0 915.2M172.0 911.6L188.8 911.6M172.0 915.2L196.1 915.2M199.5 916.2L199.5 916.7M199.5 916.2L208.9 916.2M199.5 916.7L208.9 916.7M198.4 917.1L198.4 917.5M198.4 917.1L208.9 917.1M198.4 917.5L208.9 917.5M195.3 916.4L195.3 917.3M195.3 916.4L199.5 916.4M195.3 917.3L198.4 917.3M198.0 917.9L198.0 918.3M198.0 917.9L208.9 917.9M198.0 918.3L208.9 918.3M198.1 918.6L198.1 918.9M198.1 918.6L208.9 918.6M198.1 918.9L208.9 918.9M196.4 918.1L196.4 918.7M196.4 918.1L198.0 918.1M196.4 918.7L198.1 918.7M194.3 916.9L194.3 918.4M194.3 916.9L195.3 916.9M194.3 918.4L196.4 918.4M191.8 917.6L191.8 919.3M191.8 917.6L194.3 917.6M191.8 919.3L208.9 919.3M155.0 912.6L172.0 912.6M191.8 917.6L191.8 919.9M155.0 919.9L191.8 919.9M155.0 912.6L155.0 919.9M196.6 919.8L196.6 920.2M196.6 919.8L208.9 919.8M196.6 920.2L208.9 920.2M198.2 920.8L198.2 921.2M198.2 920.8L208.9 920.8M198.2 921.2L208.9 921.2M195.5 920.0L195.5 921.0M195.5 920.0L196.6 920.0M195.5 921.0L198.2 921.0M142.8 915.5L155.0 915.5M142.8 921.0L195.5 921.0M142.8 915.5L142.8 921.0M199.7 921.7L199.7 922.1M199.7 921.7L208.9 921.7M199.7 922.1L208.9 922.1M198.2 922.6L198.2 923.0M198.2 922.6L208.9 922.6M198.2 923.0L208.9 923.0M197.2 921.9L197.2 922.8M197.2 921.9L199.7 921.9M197.2 922.8L198.2 922.8M107.2 918.2L142.8 918.2M197.2 921.9L197.2 923.1M107.2 923.1L197.2 923.1M107.2 918.2L107.2 923.1M21.7 803.6L100.7 803.6M21.7 919.9L107.2 919.9M21.7 803.6L21.7 919.9" stroke="#000" stroke-width="1.75" stroke-linecap="square" fill="none"/>
<text transform="translate(227.00 928.8) rotate(-45)" text-anchor="end" font-size="11.5" font-weight="bold" fill="#CC33FF">UD_1</text>
<text transform="translate(246.60 928.8) rotate(-45)" text-anchor="end" font-size="11.5" font-weight="bold" fill="#CC33FF">UD_2</text>
<text transform="translate(264.20 928.8) rotate(-45)" text-anchor="end" font-size="11.5" fill="#CC33FF">UD_3</text>
<text transform="translate(281.80 928.8) rotate(-45)" text-anchor="end" font-size="11.5" fill="#CC33FF">UD_2</text>
<text transform="translate(299.40 928.8) rotate(-45)" text-anchor="end" font-size="11.5" fill="#CC33FF">UD_1</text>
<text transform="translate(317.00 928.8) rotate(-45)" text-anchor="end" font-size="11.5" font-weight="bold" fill="#FF0033">D1_2</text>
<text transform="translate(334.60 928.8) rotate(-45)" text-anchor="end" font-size="11.5" font-weight="bold" fill="#FF0033">D1_1</text>
<text transform="translate(352.20 928.8) rotate(-45)" text-anchor="end" font-size="11.5" font-weight="bold" fill="#55CC44">D3_4</text>
<text transform="translate(369.80 928.8) rotate(-45)" text-anchor="end" font-size="11.5" font-weight="bold" fill="#55CC44">D3_3</text>
<text transform="translate(387.40 928.8) rotate(-45)" text-anchor="end" font-size="11.5" fill="#FF0033">D1_1</text>
<text transform="translate(405.00 928.8) rotate(-45)" text-anchor="end" font-size="11.5" fill="#55CC44">D3_1</text>
<text transform="translate(422.60 928.8) rotate(-45)" text-anchor="end" font-size="11.5" fill="#FF0033">D1_2</text>
<text transform="translate(444.20 928.8) rotate(-45)" text-anchor="end" font-size="11.5" fill="#FF0033">D1_3</text>
<text transform="translate(460.80 928.8) rotate(-45)" text-anchor="end" font-size="11.5" font-weight="bold" fill="#22DDEE">D7_1</text>
<text transform="translate(475.40 928.8) rotate(-45)" text-anchor="end" font-size="11.5" font-weight="bold" fill="#22DDEE">D7_2</text>
<text transform="translate(493.00 928.8) rotate(-45)" text-anchor="end" font-size="11.5" font-weight="bold" fill="#55CC44">D3_2</text>
<text transform="translate(510.60 928.8) rotate(-45)" text-anchor="end" font-size="11.5" font-weight="bold" fill="#55CC44">D3_1</text>
<text transform="translate(528.20 928.8) rotate(-45)" text-anchor="end" font-size="11.5" fill="#22DDEE">D7_2</text>
<text transform="translate(545.80 928.8) rotate(-45)" text-anchor="end" font-size="11.5" fill="#3399EE">D5_3</text>
<text transform="translate(563.40 928.8) rotate(-45)" text-anchor="end" font-size="11.5" fill="#22DDEE">D7_1</text>
<text transform="translate(581.00 928.8) rotate(-45)" text-anchor="end" font-size="11.5" fill="#22DDEE">D7_3</text>
<text transform="translate(598.60 928.8) rotate(-45)" text-anchor="end" font-size="11.5" fill="#3399EE">D5_2</text>
<text transform="translate(616.20 928.8) rotate(-45)" text-anchor="end" font-size="11.5" fill="#3399EE">D5_1</text>
<text transform="translate(633.80 928.8) rotate(-45)" text-anchor="end" font-size="11.5" fill="#55CC44">D3_3</text>
<text transform="translate(651.40 928.8) rotate(-45)" text-anchor="end" font-size="11.5" fill="#55CC44">D3_2</text>
<text x="673.2" y="482.8" font-size="14" fill="#000">Hard</text>
<text x="714.6" y="482.8" font-size="14" fill="#000">Soft</text>
<text x="676.9" y="497.9" font-size="11.5" font-weight="bold" fill="#CC33FF">UD</text>
<text x="718.5" y="497.9" font-size="11.3" fill="#CC33FF">UD</text>
<text x="676.9" y="511.6" font-size="11.5" font-weight="bold" fill="#FF0033">D1</text>
<text x="718.5" y="511.6" font-size="11.3" fill="#FF0033">D1</text>
<text x="676.9" y="525.3" font-size="11.5" font-weight="bold" fill="#55CC44">D3</text>
<text x="718.5" y="525.3" font-size="11.3" fill="#55CC44">D3</text>
<text x="718.5" y="539.0" font-size="11.3" fill="#3399EE">D5</text>
<text x="676.9" y="552.7" font-size="11.5" font-weight="bold" fill="#22DDEE">D7</text>
<text x="718.5" y="552.7" font-size="11.3" fill="#22DDEE">D7</text>
</svg>
</body></html>
